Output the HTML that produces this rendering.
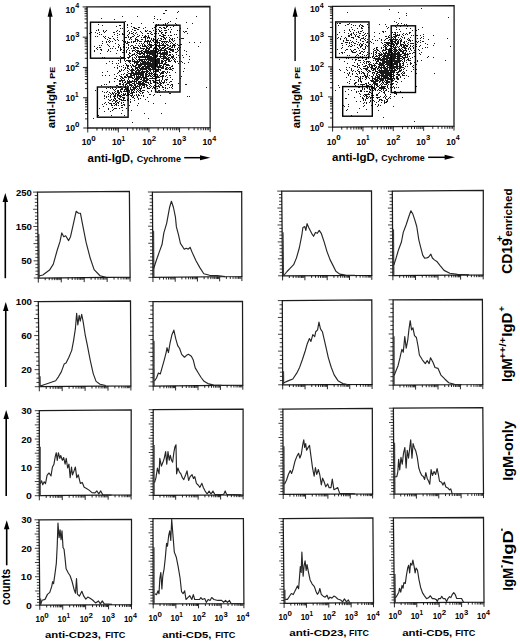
<!DOCTYPE html>
<html><head><meta charset="utf-8"><style>
html,body{margin:0;padding:0;background:#fff;width:520px;height:642px;overflow:hidden}
svg{display:block}
text{font-family:"Liberation Sans", sans-serif;fill:#000}
</style></head><body>
<svg width="520" height="642" viewBox="0 0 520 642">
<path d="M37.5,192.1 L129.4,191.5 L130.1,277.1 L38.3,278 Z" fill="none" stroke="#1c1c1c" stroke-width="1.25"/>
<line x1="38.3" y1="278" x2="38.3" y2="282.6" stroke="#000" stroke-width="0.85"/>
<line x1="45.21" y1="277.93" x2="45.21" y2="280.23" stroke="#000" stroke-width="0.85"/>
<line x1="49.25" y1="277.89" x2="49.25" y2="280.19" stroke="#000" stroke-width="0.85"/>
<line x1="52.12" y1="277.86" x2="52.12" y2="280.16" stroke="#000" stroke-width="0.85"/>
<line x1="54.34" y1="277.84" x2="54.34" y2="280.14" stroke="#000" stroke-width="0.85"/>
<line x1="56.16" y1="277.82" x2="56.16" y2="280.12" stroke="#000" stroke-width="0.85"/>
<line x1="57.7" y1="277.81" x2="57.7" y2="280.11" stroke="#000" stroke-width="0.85"/>
<line x1="59.03" y1="277.8" x2="59.03" y2="280.1" stroke="#000" stroke-width="0.85"/>
<line x1="60.2" y1="277.79" x2="60.2" y2="280.09" stroke="#000" stroke-width="0.85"/>
<line x1="61.25" y1="277.77" x2="61.25" y2="282.38" stroke="#000" stroke-width="0.85"/>
<line x1="68.16" y1="277.71" x2="68.16" y2="280.01" stroke="#000" stroke-width="0.85"/>
<line x1="72.2" y1="277.67" x2="72.2" y2="279.97" stroke="#000" stroke-width="0.85"/>
<line x1="75.07" y1="277.64" x2="75.07" y2="279.94" stroke="#000" stroke-width="0.85"/>
<line x1="77.29" y1="277.62" x2="77.29" y2="279.92" stroke="#000" stroke-width="0.85"/>
<line x1="79.11" y1="277.6" x2="79.11" y2="279.9" stroke="#000" stroke-width="0.85"/>
<line x1="80.65" y1="277.58" x2="80.65" y2="279.88" stroke="#000" stroke-width="0.85"/>
<line x1="81.98" y1="277.57" x2="81.98" y2="279.87" stroke="#000" stroke-width="0.85"/>
<line x1="83.15" y1="277.56" x2="83.15" y2="279.86" stroke="#000" stroke-width="0.85"/>
<line x1="84.2" y1="277.55" x2="84.2" y2="282.15" stroke="#000" stroke-width="0.85"/>
<line x1="91.11" y1="277.48" x2="91.11" y2="279.78" stroke="#000" stroke-width="0.85"/>
<line x1="95.15" y1="277.44" x2="95.15" y2="279.74" stroke="#000" stroke-width="0.85"/>
<line x1="98.02" y1="277.41" x2="98.02" y2="279.71" stroke="#000" stroke-width="0.85"/>
<line x1="100.24" y1="277.39" x2="100.24" y2="279.69" stroke="#000" stroke-width="0.85"/>
<line x1="102.06" y1="277.37" x2="102.06" y2="279.67" stroke="#000" stroke-width="0.85"/>
<line x1="103.6" y1="277.36" x2="103.6" y2="279.66" stroke="#000" stroke-width="0.85"/>
<line x1="104.93" y1="277.35" x2="104.93" y2="279.65" stroke="#000" stroke-width="0.85"/>
<line x1="106.1" y1="277.34" x2="106.1" y2="279.64" stroke="#000" stroke-width="0.85"/>
<line x1="107.15" y1="277.33" x2="107.15" y2="281.93" stroke="#000" stroke-width="0.85"/>
<line x1="114.06" y1="277.26" x2="114.06" y2="279.56" stroke="#000" stroke-width="0.85"/>
<line x1="118.1" y1="277.22" x2="118.1" y2="279.52" stroke="#000" stroke-width="0.85"/>
<line x1="120.97" y1="277.19" x2="120.97" y2="279.49" stroke="#000" stroke-width="0.85"/>
<line x1="123.19" y1="277.17" x2="123.19" y2="279.47" stroke="#000" stroke-width="0.85"/>
<line x1="125.01" y1="277.15" x2="125.01" y2="279.45" stroke="#000" stroke-width="0.85"/>
<line x1="126.55" y1="277.13" x2="126.55" y2="279.43" stroke="#000" stroke-width="0.85"/>
<line x1="127.88" y1="277.12" x2="127.88" y2="279.42" stroke="#000" stroke-width="0.85"/>
<line x1="129.05" y1="277.11" x2="129.05" y2="279.41" stroke="#000" stroke-width="0.85"/>
<line x1="130.1" y1="277.1" x2="130.1" y2="281.7" stroke="#000" stroke-width="0.85"/>
<line x1="33.8" y1="278" x2="38.3" y2="278" stroke="#000" stroke-width="0.75"/>
<line x1="35.47" y1="274.56" x2="38.27" y2="274.56" stroke="#000" stroke-width="0.75"/>
<line x1="35.44" y1="271.13" x2="38.24" y2="271.13" stroke="#000" stroke-width="0.75"/>
<line x1="35.4" y1="267.69" x2="38.2" y2="267.69" stroke="#000" stroke-width="0.75"/>
<line x1="35.37" y1="264.26" x2="38.17" y2="264.26" stroke="#000" stroke-width="0.75"/>
<line x1="33.64" y1="260.82" x2="38.14" y2="260.82" stroke="#000" stroke-width="0.75"/>
<line x1="35.31" y1="257.38" x2="38.11" y2="257.38" stroke="#000" stroke-width="0.75"/>
<line x1="35.28" y1="253.95" x2="38.08" y2="253.95" stroke="#000" stroke-width="0.75"/>
<line x1="35.24" y1="250.51" x2="38.04" y2="250.51" stroke="#000" stroke-width="0.75"/>
<line x1="35.21" y1="247.08" x2="38.01" y2="247.08" stroke="#000" stroke-width="0.75"/>
<line x1="33.48" y1="243.64" x2="37.98" y2="243.64" stroke="#000" stroke-width="0.75"/>
<line x1="35.15" y1="240.2" x2="37.95" y2="240.2" stroke="#000" stroke-width="0.75"/>
<line x1="35.12" y1="236.77" x2="37.92" y2="236.77" stroke="#000" stroke-width="0.75"/>
<line x1="35.08" y1="233.33" x2="37.88" y2="233.33" stroke="#000" stroke-width="0.75"/>
<line x1="35.05" y1="229.9" x2="37.85" y2="229.9" stroke="#000" stroke-width="0.75"/>
<line x1="33.32" y1="226.46" x2="37.82" y2="226.46" stroke="#000" stroke-width="0.75"/>
<line x1="34.99" y1="223.02" x2="37.79" y2="223.02" stroke="#000" stroke-width="0.75"/>
<line x1="34.96" y1="219.59" x2="37.76" y2="219.59" stroke="#000" stroke-width="0.75"/>
<line x1="34.92" y1="216.15" x2="37.72" y2="216.15" stroke="#000" stroke-width="0.75"/>
<line x1="34.89" y1="212.72" x2="37.69" y2="212.72" stroke="#000" stroke-width="0.75"/>
<line x1="33.16" y1="209.28" x2="37.66" y2="209.28" stroke="#000" stroke-width="0.75"/>
<line x1="34.83" y1="205.84" x2="37.63" y2="205.84" stroke="#000" stroke-width="0.75"/>
<line x1="34.8" y1="202.41" x2="37.6" y2="202.41" stroke="#000" stroke-width="0.75"/>
<line x1="34.76" y1="198.97" x2="37.56" y2="198.97" stroke="#000" stroke-width="0.75"/>
<line x1="34.73" y1="195.54" x2="37.53" y2="195.54" stroke="#000" stroke-width="0.75"/>
<line x1="33" y1="192.1" x2="37.5" y2="192.1" stroke="#000" stroke-width="0.75"/>
<path d="M37.89,233.93 L39.39,233.93 L39.8,278 L38.3,278 Z" fill="#3a3a3a"/>
<path d="M38.89,276.06 L42.81,275.01 L49.53,270.07 L53.31,264.15 L57.12,250.52 L59.97,241.67 L61.8,232.93 L63.76,236.77 L65.67,235.74 L68.64,240.58 L70.52,236.71 L73.33,224.01 L76.15,211.32 L78.49,213.22 L80.41,213.21 L83.05,226.88 L86.11,242.46 L90.18,258.03 L94.12,269.65 L100.02,275.77 L105.89,277.34" fill="none" stroke="#262626" stroke-width="1.15" stroke-linejoin="round"/>
<path d="M152.4,192 L241.7,191.6 L241.9,276.5 L152.96,277.4 Z" fill="none" stroke="#1c1c1c" stroke-width="1.25"/>
<line x1="152.96" y1="277.4" x2="152.96" y2="282" stroke="#000" stroke-width="0.85"/>
<line x1="159.65" y1="277.33" x2="159.65" y2="279.63" stroke="#000" stroke-width="0.85"/>
<line x1="163.57" y1="277.29" x2="163.57" y2="279.59" stroke="#000" stroke-width="0.85"/>
<line x1="166.35" y1="277.26" x2="166.35" y2="279.56" stroke="#000" stroke-width="0.85"/>
<line x1="168.5" y1="277.24" x2="168.5" y2="279.54" stroke="#000" stroke-width="0.85"/>
<line x1="170.26" y1="277.22" x2="170.26" y2="279.52" stroke="#000" stroke-width="0.85"/>
<line x1="171.75" y1="277.21" x2="171.75" y2="279.51" stroke="#000" stroke-width="0.85"/>
<line x1="173.04" y1="277.2" x2="173.04" y2="279.5" stroke="#000" stroke-width="0.85"/>
<line x1="174.18" y1="277.19" x2="174.18" y2="279.49" stroke="#000" stroke-width="0.85"/>
<line x1="175.19" y1="277.17" x2="175.19" y2="281.77" stroke="#000" stroke-width="0.85"/>
<line x1="181.89" y1="277.11" x2="181.89" y2="279.41" stroke="#000" stroke-width="0.85"/>
<line x1="185.8" y1="277.07" x2="185.8" y2="279.37" stroke="#000" stroke-width="0.85"/>
<line x1="188.58" y1="277.04" x2="188.58" y2="279.34" stroke="#000" stroke-width="0.85"/>
<line x1="190.74" y1="277.02" x2="190.74" y2="279.32" stroke="#000" stroke-width="0.85"/>
<line x1="192.5" y1="277" x2="192.5" y2="279.3" stroke="#000" stroke-width="0.85"/>
<line x1="193.99" y1="276.98" x2="193.99" y2="279.28" stroke="#000" stroke-width="0.85"/>
<line x1="195.28" y1="276.97" x2="195.28" y2="279.27" stroke="#000" stroke-width="0.85"/>
<line x1="196.41" y1="276.96" x2="196.41" y2="279.26" stroke="#000" stroke-width="0.85"/>
<line x1="197.43" y1="276.95" x2="197.43" y2="281.55" stroke="#000" stroke-width="0.85"/>
<line x1="204.12" y1="276.88" x2="204.12" y2="279.18" stroke="#000" stroke-width="0.85"/>
<line x1="208.04" y1="276.84" x2="208.04" y2="279.14" stroke="#000" stroke-width="0.85"/>
<line x1="210.82" y1="276.81" x2="210.82" y2="279.11" stroke="#000" stroke-width="0.85"/>
<line x1="212.97" y1="276.79" x2="212.97" y2="279.09" stroke="#000" stroke-width="0.85"/>
<line x1="214.73" y1="276.77" x2="214.73" y2="279.07" stroke="#000" stroke-width="0.85"/>
<line x1="216.22" y1="276.76" x2="216.22" y2="279.06" stroke="#000" stroke-width="0.85"/>
<line x1="217.51" y1="276.75" x2="217.51" y2="279.05" stroke="#000" stroke-width="0.85"/>
<line x1="218.65" y1="276.74" x2="218.65" y2="279.04" stroke="#000" stroke-width="0.85"/>
<line x1="219.67" y1="276.73" x2="219.67" y2="281.33" stroke="#000" stroke-width="0.85"/>
<line x1="226.36" y1="276.66" x2="226.36" y2="278.96" stroke="#000" stroke-width="0.85"/>
<line x1="230.27" y1="276.62" x2="230.27" y2="278.92" stroke="#000" stroke-width="0.85"/>
<line x1="233.05" y1="276.59" x2="233.05" y2="278.89" stroke="#000" stroke-width="0.85"/>
<line x1="235.21" y1="276.57" x2="235.21" y2="278.87" stroke="#000" stroke-width="0.85"/>
<line x1="236.97" y1="276.55" x2="236.97" y2="278.85" stroke="#000" stroke-width="0.85"/>
<line x1="238.46" y1="276.53" x2="238.46" y2="278.83" stroke="#000" stroke-width="0.85"/>
<line x1="239.75" y1="276.52" x2="239.75" y2="278.82" stroke="#000" stroke-width="0.85"/>
<line x1="240.88" y1="276.51" x2="240.88" y2="278.81" stroke="#000" stroke-width="0.85"/>
<line x1="241.9" y1="276.5" x2="241.9" y2="281.1" stroke="#000" stroke-width="0.85"/>
<line x1="148.46" y1="277.4" x2="152.96" y2="277.4" stroke="#000" stroke-width="0.75"/>
<line x1="150.14" y1="273.98" x2="152.94" y2="273.98" stroke="#000" stroke-width="0.75"/>
<line x1="150.12" y1="270.57" x2="152.92" y2="270.57" stroke="#000" stroke-width="0.75"/>
<line x1="150.09" y1="267.15" x2="152.89" y2="267.15" stroke="#000" stroke-width="0.75"/>
<line x1="150.07" y1="263.74" x2="152.87" y2="263.74" stroke="#000" stroke-width="0.75"/>
<line x1="148.35" y1="260.32" x2="152.85" y2="260.32" stroke="#000" stroke-width="0.75"/>
<line x1="150.03" y1="256.9" x2="152.83" y2="256.9" stroke="#000" stroke-width="0.75"/>
<line x1="150" y1="253.49" x2="152.8" y2="253.49" stroke="#000" stroke-width="0.75"/>
<line x1="149.98" y1="250.07" x2="152.78" y2="250.07" stroke="#000" stroke-width="0.75"/>
<line x1="149.96" y1="246.66" x2="152.76" y2="246.66" stroke="#000" stroke-width="0.75"/>
<line x1="148.24" y1="243.24" x2="152.74" y2="243.24" stroke="#000" stroke-width="0.75"/>
<line x1="149.91" y1="239.82" x2="152.71" y2="239.82" stroke="#000" stroke-width="0.75"/>
<line x1="149.89" y1="236.41" x2="152.69" y2="236.41" stroke="#000" stroke-width="0.75"/>
<line x1="149.87" y1="232.99" x2="152.67" y2="232.99" stroke="#000" stroke-width="0.75"/>
<line x1="149.85" y1="229.58" x2="152.65" y2="229.58" stroke="#000" stroke-width="0.75"/>
<line x1="148.12" y1="226.16" x2="152.62" y2="226.16" stroke="#000" stroke-width="0.75"/>
<line x1="149.8" y1="222.74" x2="152.6" y2="222.74" stroke="#000" stroke-width="0.75"/>
<line x1="149.78" y1="219.33" x2="152.58" y2="219.33" stroke="#000" stroke-width="0.75"/>
<line x1="149.76" y1="215.91" x2="152.56" y2="215.91" stroke="#000" stroke-width="0.75"/>
<line x1="149.73" y1="212.5" x2="152.53" y2="212.5" stroke="#000" stroke-width="0.75"/>
<line x1="148.01" y1="209.08" x2="152.51" y2="209.08" stroke="#000" stroke-width="0.75"/>
<line x1="149.69" y1="205.66" x2="152.49" y2="205.66" stroke="#000" stroke-width="0.75"/>
<line x1="149.67" y1="202.25" x2="152.47" y2="202.25" stroke="#000" stroke-width="0.75"/>
<line x1="149.64" y1="198.83" x2="152.44" y2="198.83" stroke="#000" stroke-width="0.75"/>
<line x1="149.62" y1="195.42" x2="152.42" y2="195.42" stroke="#000" stroke-width="0.75"/>
<line x1="147.9" y1="192" x2="152.4" y2="192" stroke="#000" stroke-width="0.75"/>
<path d="M152.65,230.74 L154.15,230.74 L154.46,277.4 L152.96,277.4 Z" fill="#3a3a3a"/>
<path d="M153.51,268.98 L156.37,260.23 L159.14,252.4 L162.01,244.57 L163.85,232.9 L166.71,223.05 L169.54,207.53 L171.42,201.23 L173.47,207.5 L175.44,217.22 L176.4,226.93 L178.46,234.61 L180.42,243.41 L184.27,249.25 L186.28,248.22 L188.2,249.22 L190.1,247.28 L192.04,252.12 L196,260.78 L199.85,267.62 L203.8,273.75 L209.53,275.31 L217.27,275.54 L225.02,276.67" fill="none" stroke="#262626" stroke-width="1.15" stroke-linejoin="round"/>
<path d="M281.7,191.1 L371.5,190.9 L371.8,275.3 L282.6,275.8 Z" fill="none" stroke="#1c1c1c" stroke-width="1.25"/>
<line x1="282.6" y1="275.8" x2="282.6" y2="280.4" stroke="#000" stroke-width="0.85"/>
<line x1="289.31" y1="275.76" x2="289.31" y2="278.06" stroke="#000" stroke-width="0.85"/>
<line x1="293.24" y1="275.74" x2="293.24" y2="278.04" stroke="#000" stroke-width="0.85"/>
<line x1="296.03" y1="275.72" x2="296.03" y2="278.02" stroke="#000" stroke-width="0.85"/>
<line x1="298.19" y1="275.71" x2="298.19" y2="278.01" stroke="#000" stroke-width="0.85"/>
<line x1="299.95" y1="275.7" x2="299.95" y2="278" stroke="#000" stroke-width="0.85"/>
<line x1="301.45" y1="275.69" x2="301.45" y2="277.99" stroke="#000" stroke-width="0.85"/>
<line x1="302.74" y1="275.69" x2="302.74" y2="277.99" stroke="#000" stroke-width="0.85"/>
<line x1="303.88" y1="275.68" x2="303.88" y2="277.98" stroke="#000" stroke-width="0.85"/>
<line x1="304.9" y1="275.68" x2="304.9" y2="280.28" stroke="#000" stroke-width="0.85"/>
<line x1="311.61" y1="275.64" x2="311.61" y2="277.94" stroke="#000" stroke-width="0.85"/>
<line x1="315.54" y1="275.62" x2="315.54" y2="277.92" stroke="#000" stroke-width="0.85"/>
<line x1="318.33" y1="275.6" x2="318.33" y2="277.9" stroke="#000" stroke-width="0.85"/>
<line x1="320.49" y1="275.59" x2="320.49" y2="277.89" stroke="#000" stroke-width="0.85"/>
<line x1="322.25" y1="275.58" x2="322.25" y2="277.88" stroke="#000" stroke-width="0.85"/>
<line x1="323.75" y1="275.57" x2="323.75" y2="277.87" stroke="#000" stroke-width="0.85"/>
<line x1="325.04" y1="275.56" x2="325.04" y2="277.86" stroke="#000" stroke-width="0.85"/>
<line x1="326.18" y1="275.56" x2="326.18" y2="277.86" stroke="#000" stroke-width="0.85"/>
<line x1="327.2" y1="275.55" x2="327.2" y2="280.15" stroke="#000" stroke-width="0.85"/>
<line x1="333.91" y1="275.51" x2="333.91" y2="277.81" stroke="#000" stroke-width="0.85"/>
<line x1="337.84" y1="275.49" x2="337.84" y2="277.79" stroke="#000" stroke-width="0.85"/>
<line x1="340.63" y1="275.47" x2="340.63" y2="277.77" stroke="#000" stroke-width="0.85"/>
<line x1="342.79" y1="275.46" x2="342.79" y2="277.76" stroke="#000" stroke-width="0.85"/>
<line x1="344.55" y1="275.45" x2="344.55" y2="277.75" stroke="#000" stroke-width="0.85"/>
<line x1="346.05" y1="275.44" x2="346.05" y2="277.74" stroke="#000" stroke-width="0.85"/>
<line x1="347.34" y1="275.44" x2="347.34" y2="277.74" stroke="#000" stroke-width="0.85"/>
<line x1="348.48" y1="275.43" x2="348.48" y2="277.73" stroke="#000" stroke-width="0.85"/>
<line x1="349.5" y1="275.43" x2="349.5" y2="280.03" stroke="#000" stroke-width="0.85"/>
<line x1="356.21" y1="275.39" x2="356.21" y2="277.69" stroke="#000" stroke-width="0.85"/>
<line x1="360.14" y1="275.37" x2="360.14" y2="277.67" stroke="#000" stroke-width="0.85"/>
<line x1="362.93" y1="275.35" x2="362.93" y2="277.65" stroke="#000" stroke-width="0.85"/>
<line x1="365.09" y1="275.34" x2="365.09" y2="277.64" stroke="#000" stroke-width="0.85"/>
<line x1="366.85" y1="275.33" x2="366.85" y2="277.63" stroke="#000" stroke-width="0.85"/>
<line x1="368.35" y1="275.32" x2="368.35" y2="277.62" stroke="#000" stroke-width="0.85"/>
<line x1="369.64" y1="275.31" x2="369.64" y2="277.61" stroke="#000" stroke-width="0.85"/>
<line x1="370.78" y1="275.31" x2="370.78" y2="277.61" stroke="#000" stroke-width="0.85"/>
<line x1="371.8" y1="275.3" x2="371.8" y2="279.9" stroke="#000" stroke-width="0.85"/>
<line x1="278.1" y1="275.8" x2="282.6" y2="275.8" stroke="#000" stroke-width="0.75"/>
<line x1="279.76" y1="272.41" x2="282.56" y2="272.41" stroke="#000" stroke-width="0.75"/>
<line x1="279.73" y1="269.02" x2="282.53" y2="269.02" stroke="#000" stroke-width="0.75"/>
<line x1="279.69" y1="265.64" x2="282.49" y2="265.64" stroke="#000" stroke-width="0.75"/>
<line x1="279.66" y1="262.25" x2="282.46" y2="262.25" stroke="#000" stroke-width="0.75"/>
<line x1="277.92" y1="258.86" x2="282.42" y2="258.86" stroke="#000" stroke-width="0.75"/>
<line x1="279.58" y1="255.47" x2="282.38" y2="255.47" stroke="#000" stroke-width="0.75"/>
<line x1="279.55" y1="252.08" x2="282.35" y2="252.08" stroke="#000" stroke-width="0.75"/>
<line x1="279.51" y1="248.7" x2="282.31" y2="248.7" stroke="#000" stroke-width="0.75"/>
<line x1="279.48" y1="245.31" x2="282.28" y2="245.31" stroke="#000" stroke-width="0.75"/>
<line x1="277.74" y1="241.92" x2="282.24" y2="241.92" stroke="#000" stroke-width="0.75"/>
<line x1="279.4" y1="238.53" x2="282.2" y2="238.53" stroke="#000" stroke-width="0.75"/>
<line x1="279.37" y1="235.14" x2="282.17" y2="235.14" stroke="#000" stroke-width="0.75"/>
<line x1="279.33" y1="231.76" x2="282.13" y2="231.76" stroke="#000" stroke-width="0.75"/>
<line x1="279.3" y1="228.37" x2="282.1" y2="228.37" stroke="#000" stroke-width="0.75"/>
<line x1="277.56" y1="224.98" x2="282.06" y2="224.98" stroke="#000" stroke-width="0.75"/>
<line x1="279.22" y1="221.59" x2="282.02" y2="221.59" stroke="#000" stroke-width="0.75"/>
<line x1="279.19" y1="218.2" x2="281.99" y2="218.2" stroke="#000" stroke-width="0.75"/>
<line x1="279.15" y1="214.82" x2="281.95" y2="214.82" stroke="#000" stroke-width="0.75"/>
<line x1="279.12" y1="211.43" x2="281.92" y2="211.43" stroke="#000" stroke-width="0.75"/>
<line x1="277.38" y1="208.04" x2="281.88" y2="208.04" stroke="#000" stroke-width="0.75"/>
<line x1="279.04" y1="204.65" x2="281.84" y2="204.65" stroke="#000" stroke-width="0.75"/>
<line x1="279.01" y1="201.26" x2="281.81" y2="201.26" stroke="#000" stroke-width="0.75"/>
<line x1="278.97" y1="197.88" x2="281.77" y2="197.88" stroke="#000" stroke-width="0.75"/>
<line x1="278.94" y1="194.49" x2="281.74" y2="194.49" stroke="#000" stroke-width="0.75"/>
<line x1="277.2" y1="191.1" x2="281.7" y2="191.1" stroke="#000" stroke-width="0.75"/>
<path d="M282.14,232.33 L283.64,232.33 L284.1,275.8 L282.6,275.8 Z" fill="#3a3a3a"/>
<path d="M283.79,275.49 L287.04,271.51 L289.8,268.55 L293.65,264.67 L296.48,257.86 L299.29,248 L301.96,234.29 L302.9,227.48 L304.79,226.56 L305.82,230.41 L307.07,223.61 L308.7,227.46 L311.65,233.33 L313.57,236.27 L315.44,232.41 L317.35,233.31 L319.23,230.36 L321.25,233.3 L324.21,242.11 L327.08,251.83 L330.03,259.62 L332.96,265.38 L335.89,271.24 L339.7,274.16 L345.49,275.14 L355.06,275.39" fill="none" stroke="#262626" stroke-width="1.15" stroke-linejoin="round"/>
<path d="M392.3,191.2 L483.3,190.4 L483.2,274.8 L392.9,275.6 Z" fill="none" stroke="#1c1c1c" stroke-width="1.25"/>
<line x1="392.9" y1="275.6" x2="392.9" y2="280.2" stroke="#000" stroke-width="0.85"/>
<line x1="399.7" y1="275.54" x2="399.7" y2="277.84" stroke="#000" stroke-width="0.85"/>
<line x1="403.67" y1="275.5" x2="403.67" y2="277.8" stroke="#000" stroke-width="0.85"/>
<line x1="406.49" y1="275.48" x2="406.49" y2="277.78" stroke="#000" stroke-width="0.85"/>
<line x1="408.68" y1="275.46" x2="408.68" y2="277.76" stroke="#000" stroke-width="0.85"/>
<line x1="410.47" y1="275.44" x2="410.47" y2="277.74" stroke="#000" stroke-width="0.85"/>
<line x1="411.98" y1="275.43" x2="411.98" y2="277.73" stroke="#000" stroke-width="0.85"/>
<line x1="413.29" y1="275.42" x2="413.29" y2="277.72" stroke="#000" stroke-width="0.85"/>
<line x1="414.44" y1="275.41" x2="414.44" y2="277.71" stroke="#000" stroke-width="0.85"/>
<line x1="415.47" y1="275.4" x2="415.47" y2="280" stroke="#000" stroke-width="0.85"/>
<line x1="422.27" y1="275.34" x2="422.27" y2="277.64" stroke="#000" stroke-width="0.85"/>
<line x1="426.25" y1="275.3" x2="426.25" y2="277.6" stroke="#000" stroke-width="0.85"/>
<line x1="429.07" y1="275.28" x2="429.07" y2="277.58" stroke="#000" stroke-width="0.85"/>
<line x1="431.25" y1="275.26" x2="431.25" y2="277.56" stroke="#000" stroke-width="0.85"/>
<line x1="433.04" y1="275.24" x2="433.04" y2="277.54" stroke="#000" stroke-width="0.85"/>
<line x1="434.55" y1="275.23" x2="434.55" y2="277.53" stroke="#000" stroke-width="0.85"/>
<line x1="435.86" y1="275.22" x2="435.86" y2="277.52" stroke="#000" stroke-width="0.85"/>
<line x1="437.02" y1="275.21" x2="437.02" y2="277.51" stroke="#000" stroke-width="0.85"/>
<line x1="438.05" y1="275.2" x2="438.05" y2="279.8" stroke="#000" stroke-width="0.85"/>
<line x1="444.85" y1="275.14" x2="444.85" y2="277.44" stroke="#000" stroke-width="0.85"/>
<line x1="448.82" y1="275.1" x2="448.82" y2="277.4" stroke="#000" stroke-width="0.85"/>
<line x1="451.64" y1="275.08" x2="451.64" y2="277.38" stroke="#000" stroke-width="0.85"/>
<line x1="453.83" y1="275.06" x2="453.83" y2="277.36" stroke="#000" stroke-width="0.85"/>
<line x1="455.62" y1="275.04" x2="455.62" y2="277.34" stroke="#000" stroke-width="0.85"/>
<line x1="457.13" y1="275.03" x2="457.13" y2="277.33" stroke="#000" stroke-width="0.85"/>
<line x1="458.44" y1="275.02" x2="458.44" y2="277.32" stroke="#000" stroke-width="0.85"/>
<line x1="459.59" y1="275.01" x2="459.59" y2="277.31" stroke="#000" stroke-width="0.85"/>
<line x1="460.62" y1="275" x2="460.62" y2="279.6" stroke="#000" stroke-width="0.85"/>
<line x1="467.42" y1="274.94" x2="467.42" y2="277.24" stroke="#000" stroke-width="0.85"/>
<line x1="471.4" y1="274.9" x2="471.4" y2="277.2" stroke="#000" stroke-width="0.85"/>
<line x1="474.22" y1="274.88" x2="474.22" y2="277.18" stroke="#000" stroke-width="0.85"/>
<line x1="476.4" y1="274.86" x2="476.4" y2="277.16" stroke="#000" stroke-width="0.85"/>
<line x1="478.19" y1="274.84" x2="478.19" y2="277.14" stroke="#000" stroke-width="0.85"/>
<line x1="479.7" y1="274.83" x2="479.7" y2="277.13" stroke="#000" stroke-width="0.85"/>
<line x1="481.01" y1="274.82" x2="481.01" y2="277.12" stroke="#000" stroke-width="0.85"/>
<line x1="482.17" y1="274.81" x2="482.17" y2="277.11" stroke="#000" stroke-width="0.85"/>
<line x1="483.2" y1="274.8" x2="483.2" y2="279.4" stroke="#000" stroke-width="0.85"/>
<line x1="388.4" y1="275.6" x2="392.9" y2="275.6" stroke="#000" stroke-width="0.75"/>
<line x1="390.08" y1="272.22" x2="392.88" y2="272.22" stroke="#000" stroke-width="0.75"/>
<line x1="390.05" y1="268.85" x2="392.85" y2="268.85" stroke="#000" stroke-width="0.75"/>
<line x1="390.03" y1="265.47" x2="392.83" y2="265.47" stroke="#000" stroke-width="0.75"/>
<line x1="390" y1="262.1" x2="392.8" y2="262.1" stroke="#000" stroke-width="0.75"/>
<line x1="388.28" y1="258.72" x2="392.78" y2="258.72" stroke="#000" stroke-width="0.75"/>
<line x1="389.96" y1="255.34" x2="392.76" y2="255.34" stroke="#000" stroke-width="0.75"/>
<line x1="389.93" y1="251.97" x2="392.73" y2="251.97" stroke="#000" stroke-width="0.75"/>
<line x1="389.91" y1="248.59" x2="392.71" y2="248.59" stroke="#000" stroke-width="0.75"/>
<line x1="389.88" y1="245.22" x2="392.68" y2="245.22" stroke="#000" stroke-width="0.75"/>
<line x1="388.16" y1="241.84" x2="392.66" y2="241.84" stroke="#000" stroke-width="0.75"/>
<line x1="389.84" y1="238.46" x2="392.64" y2="238.46" stroke="#000" stroke-width="0.75"/>
<line x1="389.81" y1="235.09" x2="392.61" y2="235.09" stroke="#000" stroke-width="0.75"/>
<line x1="389.79" y1="231.71" x2="392.59" y2="231.71" stroke="#000" stroke-width="0.75"/>
<line x1="389.76" y1="228.34" x2="392.56" y2="228.34" stroke="#000" stroke-width="0.75"/>
<line x1="388.04" y1="224.96" x2="392.54" y2="224.96" stroke="#000" stroke-width="0.75"/>
<line x1="389.72" y1="221.58" x2="392.52" y2="221.58" stroke="#000" stroke-width="0.75"/>
<line x1="389.69" y1="218.21" x2="392.49" y2="218.21" stroke="#000" stroke-width="0.75"/>
<line x1="389.67" y1="214.83" x2="392.47" y2="214.83" stroke="#000" stroke-width="0.75"/>
<line x1="389.64" y1="211.46" x2="392.44" y2="211.46" stroke="#000" stroke-width="0.75"/>
<line x1="387.92" y1="208.08" x2="392.42" y2="208.08" stroke="#000" stroke-width="0.75"/>
<line x1="389.6" y1="204.7" x2="392.4" y2="204.7" stroke="#000" stroke-width="0.75"/>
<line x1="389.57" y1="201.33" x2="392.37" y2="201.33" stroke="#000" stroke-width="0.75"/>
<line x1="389.55" y1="197.95" x2="392.35" y2="197.95" stroke="#000" stroke-width="0.75"/>
<line x1="389.52" y1="194.58" x2="392.32" y2="194.58" stroke="#000" stroke-width="0.75"/>
<line x1="387.8" y1="191.2" x2="392.3" y2="191.2" stroke="#000" stroke-width="0.75"/>
<path d="M392.57,229.31 L394.07,229.31 L394.4,275.6 L392.9,275.6 Z" fill="#3a3a3a"/>
<path d="M393.83,265.02 L395.7,259.31 L398.55,249.71 L401.42,242 L403.27,232.41 L406.15,224.7 L409.02,216 L410.91,210.79 L412.85,214.07 L414.79,219.84 L416.74,226.5 L418.82,239.85 L420.77,247.52 L422.71,255.18 L424.63,258.06 L426.64,258.04 L428.55,257.13 L430.85,254.21 L432.37,257.99 L434.39,259.87 L437.21,261.84 L440.13,265.6 L444.06,270.36 L449.79,273.2 L457.51,274.43 L469.15,274.92" fill="none" stroke="#262626" stroke-width="1.15" stroke-linejoin="round"/>
<path d="M38.3,301.5 L130.5,301 L130.9,385.9 L39.3,386.7 Z" fill="none" stroke="#1c1c1c" stroke-width="1.25"/>
<line x1="39.3" y1="386.7" x2="39.3" y2="391.3" stroke="#000" stroke-width="0.85"/>
<line x1="46.19" y1="386.64" x2="46.19" y2="388.94" stroke="#000" stroke-width="0.85"/>
<line x1="50.23" y1="386.6" x2="50.23" y2="388.9" stroke="#000" stroke-width="0.85"/>
<line x1="53.09" y1="386.58" x2="53.09" y2="388.88" stroke="#000" stroke-width="0.85"/>
<line x1="55.31" y1="386.56" x2="55.31" y2="388.86" stroke="#000" stroke-width="0.85"/>
<line x1="57.12" y1="386.54" x2="57.12" y2="388.84" stroke="#000" stroke-width="0.85"/>
<line x1="58.65" y1="386.53" x2="58.65" y2="388.83" stroke="#000" stroke-width="0.85"/>
<line x1="59.98" y1="386.52" x2="59.98" y2="388.82" stroke="#000" stroke-width="0.85"/>
<line x1="61.15" y1="386.51" x2="61.15" y2="388.81" stroke="#000" stroke-width="0.85"/>
<line x1="62.2" y1="386.5" x2="62.2" y2="391.1" stroke="#000" stroke-width="0.85"/>
<line x1="69.09" y1="386.44" x2="69.09" y2="388.74" stroke="#000" stroke-width="0.85"/>
<line x1="73.13" y1="386.4" x2="73.13" y2="388.7" stroke="#000" stroke-width="0.85"/>
<line x1="75.99" y1="386.38" x2="75.99" y2="388.68" stroke="#000" stroke-width="0.85"/>
<line x1="78.21" y1="386.36" x2="78.21" y2="388.66" stroke="#000" stroke-width="0.85"/>
<line x1="80.02" y1="386.34" x2="80.02" y2="388.64" stroke="#000" stroke-width="0.85"/>
<line x1="81.55" y1="386.33" x2="81.55" y2="388.63" stroke="#000" stroke-width="0.85"/>
<line x1="82.88" y1="386.32" x2="82.88" y2="388.62" stroke="#000" stroke-width="0.85"/>
<line x1="84.05" y1="386.31" x2="84.05" y2="388.61" stroke="#000" stroke-width="0.85"/>
<line x1="85.1" y1="386.3" x2="85.1" y2="390.9" stroke="#000" stroke-width="0.85"/>
<line x1="91.99" y1="386.24" x2="91.99" y2="388.54" stroke="#000" stroke-width="0.85"/>
<line x1="96.03" y1="386.2" x2="96.03" y2="388.5" stroke="#000" stroke-width="0.85"/>
<line x1="98.89" y1="386.18" x2="98.89" y2="388.48" stroke="#000" stroke-width="0.85"/>
<line x1="101.11" y1="386.16" x2="101.11" y2="388.46" stroke="#000" stroke-width="0.85"/>
<line x1="102.92" y1="386.14" x2="102.92" y2="388.44" stroke="#000" stroke-width="0.85"/>
<line x1="104.45" y1="386.13" x2="104.45" y2="388.43" stroke="#000" stroke-width="0.85"/>
<line x1="105.78" y1="386.12" x2="105.78" y2="388.42" stroke="#000" stroke-width="0.85"/>
<line x1="106.95" y1="386.11" x2="106.95" y2="388.41" stroke="#000" stroke-width="0.85"/>
<line x1="108" y1="386.1" x2="108" y2="390.7" stroke="#000" stroke-width="0.85"/>
<line x1="114.89" y1="386.04" x2="114.89" y2="388.34" stroke="#000" stroke-width="0.85"/>
<line x1="118.93" y1="386" x2="118.93" y2="388.3" stroke="#000" stroke-width="0.85"/>
<line x1="121.79" y1="385.98" x2="121.79" y2="388.28" stroke="#000" stroke-width="0.85"/>
<line x1="124.01" y1="385.96" x2="124.01" y2="388.26" stroke="#000" stroke-width="0.85"/>
<line x1="125.82" y1="385.94" x2="125.82" y2="388.24" stroke="#000" stroke-width="0.85"/>
<line x1="127.35" y1="385.93" x2="127.35" y2="388.23" stroke="#000" stroke-width="0.85"/>
<line x1="128.68" y1="385.92" x2="128.68" y2="388.22" stroke="#000" stroke-width="0.85"/>
<line x1="129.85" y1="385.91" x2="129.85" y2="388.21" stroke="#000" stroke-width="0.85"/>
<line x1="130.9" y1="385.9" x2="130.9" y2="390.5" stroke="#000" stroke-width="0.85"/>
<line x1="34.8" y1="386.7" x2="39.3" y2="386.7" stroke="#000" stroke-width="0.75"/>
<line x1="36.45" y1="382.44" x2="39.25" y2="382.44" stroke="#000" stroke-width="0.75"/>
<line x1="36.4" y1="378.18" x2="39.2" y2="378.18" stroke="#000" stroke-width="0.75"/>
<line x1="36.35" y1="373.92" x2="39.15" y2="373.92" stroke="#000" stroke-width="0.75"/>
<line x1="34.6" y1="369.66" x2="39.1" y2="369.66" stroke="#000" stroke-width="0.75"/>
<line x1="36.25" y1="365.4" x2="39.05" y2="365.4" stroke="#000" stroke-width="0.75"/>
<line x1="36.2" y1="361.14" x2="39" y2="361.14" stroke="#000" stroke-width="0.75"/>
<line x1="36.15" y1="356.88" x2="38.95" y2="356.88" stroke="#000" stroke-width="0.75"/>
<line x1="34.4" y1="352.62" x2="38.9" y2="352.62" stroke="#000" stroke-width="0.75"/>
<line x1="36.05" y1="348.36" x2="38.85" y2="348.36" stroke="#000" stroke-width="0.75"/>
<line x1="36" y1="344.1" x2="38.8" y2="344.1" stroke="#000" stroke-width="0.75"/>
<line x1="35.95" y1="339.84" x2="38.75" y2="339.84" stroke="#000" stroke-width="0.75"/>
<line x1="34.2" y1="335.58" x2="38.7" y2="335.58" stroke="#000" stroke-width="0.75"/>
<line x1="35.85" y1="331.32" x2="38.65" y2="331.32" stroke="#000" stroke-width="0.75"/>
<line x1="35.8" y1="327.06" x2="38.6" y2="327.06" stroke="#000" stroke-width="0.75"/>
<line x1="35.75" y1="322.8" x2="38.55" y2="322.8" stroke="#000" stroke-width="0.75"/>
<line x1="34" y1="318.54" x2="38.5" y2="318.54" stroke="#000" stroke-width="0.75"/>
<line x1="35.65" y1="314.28" x2="38.45" y2="314.28" stroke="#000" stroke-width="0.75"/>
<line x1="35.6" y1="310.02" x2="38.4" y2="310.02" stroke="#000" stroke-width="0.75"/>
<line x1="35.55" y1="305.76" x2="38.35" y2="305.76" stroke="#000" stroke-width="0.75"/>
<line x1="33.8" y1="301.5" x2="38.3" y2="301.5" stroke="#000" stroke-width="0.75"/>
<path d="M39.18,376.15 L40.68,376.15 L40.8,386.7 L39.3,386.7 Z" fill="#3a3a3a"/>
<path d="M39.89,386.09 L44.09,384.73 L49.88,382.75 L55.68,380.78 L58.44,376.8 L61.3,371.91 L64.13,364.09 L66.03,363.06 L68.89,357.26 L71.74,350.35 L73.56,340.61 L75.37,328.95 L76.64,313.35 L77.85,324.99 L79.17,315.25 L80.23,321.12 L81.69,314.33 L83.05,321.1 L85.18,334.76 L87.17,344.47 L90.21,360.04 L93.22,373.58 L96.09,381.35 L100.02,384.25 L105.84,385.51" fill="none" stroke="#262626" stroke-width="1.15" stroke-linejoin="round"/>
<path d="M153,301.6 L242.5,301.3 L242.8,385.1 L153.2,386.1 Z" fill="none" stroke="#1c1c1c" stroke-width="1.25"/>
<line x1="153.2" y1="386.1" x2="153.2" y2="390.7" stroke="#000" stroke-width="0.85"/>
<line x1="159.94" y1="386.02" x2="159.94" y2="388.32" stroke="#000" stroke-width="0.85"/>
<line x1="163.89" y1="385.98" x2="163.89" y2="388.28" stroke="#000" stroke-width="0.85"/>
<line x1="166.69" y1="385.95" x2="166.69" y2="388.25" stroke="#000" stroke-width="0.85"/>
<line x1="168.86" y1="385.93" x2="168.86" y2="388.23" stroke="#000" stroke-width="0.85"/>
<line x1="170.63" y1="385.91" x2="170.63" y2="388.21" stroke="#000" stroke-width="0.85"/>
<line x1="172.13" y1="385.89" x2="172.13" y2="388.19" stroke="#000" stroke-width="0.85"/>
<line x1="173.43" y1="385.87" x2="173.43" y2="388.17" stroke="#000" stroke-width="0.85"/>
<line x1="174.58" y1="385.86" x2="174.58" y2="388.16" stroke="#000" stroke-width="0.85"/>
<line x1="175.6" y1="385.85" x2="175.6" y2="390.45" stroke="#000" stroke-width="0.85"/>
<line x1="182.34" y1="385.77" x2="182.34" y2="388.07" stroke="#000" stroke-width="0.85"/>
<line x1="186.29" y1="385.73" x2="186.29" y2="388.03" stroke="#000" stroke-width="0.85"/>
<line x1="189.09" y1="385.7" x2="189.09" y2="388" stroke="#000" stroke-width="0.85"/>
<line x1="191.26" y1="385.68" x2="191.26" y2="387.98" stroke="#000" stroke-width="0.85"/>
<line x1="193.03" y1="385.66" x2="193.03" y2="387.96" stroke="#000" stroke-width="0.85"/>
<line x1="194.53" y1="385.64" x2="194.53" y2="387.94" stroke="#000" stroke-width="0.85"/>
<line x1="195.83" y1="385.62" x2="195.83" y2="387.92" stroke="#000" stroke-width="0.85"/>
<line x1="196.98" y1="385.61" x2="196.98" y2="387.91" stroke="#000" stroke-width="0.85"/>
<line x1="198" y1="385.6" x2="198" y2="390.2" stroke="#000" stroke-width="0.85"/>
<line x1="204.74" y1="385.52" x2="204.74" y2="387.82" stroke="#000" stroke-width="0.85"/>
<line x1="208.69" y1="385.48" x2="208.69" y2="387.78" stroke="#000" stroke-width="0.85"/>
<line x1="211.49" y1="385.45" x2="211.49" y2="387.75" stroke="#000" stroke-width="0.85"/>
<line x1="213.66" y1="385.43" x2="213.66" y2="387.73" stroke="#000" stroke-width="0.85"/>
<line x1="215.43" y1="385.41" x2="215.43" y2="387.71" stroke="#000" stroke-width="0.85"/>
<line x1="216.93" y1="385.39" x2="216.93" y2="387.69" stroke="#000" stroke-width="0.85"/>
<line x1="218.23" y1="385.37" x2="218.23" y2="387.67" stroke="#000" stroke-width="0.85"/>
<line x1="219.38" y1="385.36" x2="219.38" y2="387.66" stroke="#000" stroke-width="0.85"/>
<line x1="220.4" y1="385.35" x2="220.4" y2="389.95" stroke="#000" stroke-width="0.85"/>
<line x1="227.14" y1="385.27" x2="227.14" y2="387.57" stroke="#000" stroke-width="0.85"/>
<line x1="231.09" y1="385.23" x2="231.09" y2="387.53" stroke="#000" stroke-width="0.85"/>
<line x1="233.89" y1="385.2" x2="233.89" y2="387.5" stroke="#000" stroke-width="0.85"/>
<line x1="236.06" y1="385.18" x2="236.06" y2="387.48" stroke="#000" stroke-width="0.85"/>
<line x1="237.83" y1="385.16" x2="237.83" y2="387.46" stroke="#000" stroke-width="0.85"/>
<line x1="239.33" y1="385.14" x2="239.33" y2="387.44" stroke="#000" stroke-width="0.85"/>
<line x1="240.63" y1="385.12" x2="240.63" y2="387.42" stroke="#000" stroke-width="0.85"/>
<line x1="241.78" y1="385.11" x2="241.78" y2="387.41" stroke="#000" stroke-width="0.85"/>
<line x1="242.8" y1="385.1" x2="242.8" y2="389.7" stroke="#000" stroke-width="0.85"/>
<line x1="148.7" y1="386.1" x2="153.2" y2="386.1" stroke="#000" stroke-width="0.75"/>
<line x1="150.39" y1="381.88" x2="153.19" y2="381.88" stroke="#000" stroke-width="0.75"/>
<line x1="150.38" y1="377.65" x2="153.18" y2="377.65" stroke="#000" stroke-width="0.75"/>
<line x1="150.37" y1="373.43" x2="153.17" y2="373.43" stroke="#000" stroke-width="0.75"/>
<line x1="148.66" y1="369.2" x2="153.16" y2="369.2" stroke="#000" stroke-width="0.75"/>
<line x1="150.35" y1="364.98" x2="153.15" y2="364.98" stroke="#000" stroke-width="0.75"/>
<line x1="150.34" y1="360.75" x2="153.14" y2="360.75" stroke="#000" stroke-width="0.75"/>
<line x1="150.33" y1="356.53" x2="153.13" y2="356.53" stroke="#000" stroke-width="0.75"/>
<line x1="148.62" y1="352.3" x2="153.12" y2="352.3" stroke="#000" stroke-width="0.75"/>
<line x1="150.31" y1="348.08" x2="153.11" y2="348.08" stroke="#000" stroke-width="0.75"/>
<line x1="150.3" y1="343.85" x2="153.1" y2="343.85" stroke="#000" stroke-width="0.75"/>
<line x1="150.29" y1="339.62" x2="153.09" y2="339.62" stroke="#000" stroke-width="0.75"/>
<line x1="148.58" y1="335.4" x2="153.08" y2="335.4" stroke="#000" stroke-width="0.75"/>
<line x1="150.27" y1="331.18" x2="153.07" y2="331.18" stroke="#000" stroke-width="0.75"/>
<line x1="150.26" y1="326.95" x2="153.06" y2="326.95" stroke="#000" stroke-width="0.75"/>
<line x1="150.25" y1="322.73" x2="153.05" y2="322.73" stroke="#000" stroke-width="0.75"/>
<line x1="148.54" y1="318.5" x2="153.04" y2="318.5" stroke="#000" stroke-width="0.75"/>
<line x1="150.23" y1="314.28" x2="153.03" y2="314.28" stroke="#000" stroke-width="0.75"/>
<line x1="150.22" y1="310.05" x2="153.02" y2="310.05" stroke="#000" stroke-width="0.75"/>
<line x1="150.21" y1="305.83" x2="153.01" y2="305.83" stroke="#000" stroke-width="0.75"/>
<line x1="148.5" y1="301.6" x2="153" y2="301.6" stroke="#000" stroke-width="0.75"/>
<path d="M153.09,340.71 L154.59,340.71 L154.7,386.1 L153.2,386.1 Z" fill="#3a3a3a"/>
<path d="M154.5,380.92 L156.51,377.96 L158.42,373.08 L160.33,373.97 L162.23,367.17 L164.13,360.37 L166.13,352.56 L167.03,347.7 L168.45,352.54 L169.94,343.73 L171.83,335.02 L173.84,330.15 L175.78,338.83 L177.71,345.59 L179.64,348.51 L181.67,354.35 L184.5,357.26 L186.51,355.32 L188.43,354.3 L191.36,356.19 L193.28,360.11 L195.22,367.87 L198.16,372.68 L201.1,377.5 L204.04,381.3 L207.88,383.57 L213.74,385.12 L221.51,385.34" fill="none" stroke="#262626" stroke-width="1.15" stroke-linejoin="round"/>
<path d="M282.3,300.6 L371.8,299.9 L372.1,384.4 L282.7,384.8 Z" fill="none" stroke="#1c1c1c" stroke-width="1.25"/>
<line x1="282.7" y1="384.8" x2="282.7" y2="389.4" stroke="#000" stroke-width="0.85"/>
<line x1="289.43" y1="384.77" x2="289.43" y2="387.07" stroke="#000" stroke-width="0.85"/>
<line x1="293.36" y1="384.75" x2="293.36" y2="387.05" stroke="#000" stroke-width="0.85"/>
<line x1="296.16" y1="384.74" x2="296.16" y2="387.04" stroke="#000" stroke-width="0.85"/>
<line x1="298.32" y1="384.73" x2="298.32" y2="387.03" stroke="#000" stroke-width="0.85"/>
<line x1="300.09" y1="384.72" x2="300.09" y2="387.02" stroke="#000" stroke-width="0.85"/>
<line x1="301.59" y1="384.72" x2="301.59" y2="387.02" stroke="#000" stroke-width="0.85"/>
<line x1="302.88" y1="384.71" x2="302.88" y2="387.01" stroke="#000" stroke-width="0.85"/>
<line x1="304.03" y1="384.7" x2="304.03" y2="387" stroke="#000" stroke-width="0.85"/>
<line x1="305.05" y1="384.7" x2="305.05" y2="389.3" stroke="#000" stroke-width="0.85"/>
<line x1="311.78" y1="384.67" x2="311.78" y2="386.97" stroke="#000" stroke-width="0.85"/>
<line x1="315.71" y1="384.65" x2="315.71" y2="386.95" stroke="#000" stroke-width="0.85"/>
<line x1="318.51" y1="384.64" x2="318.51" y2="386.94" stroke="#000" stroke-width="0.85"/>
<line x1="320.67" y1="384.63" x2="320.67" y2="386.93" stroke="#000" stroke-width="0.85"/>
<line x1="322.44" y1="384.62" x2="322.44" y2="386.92" stroke="#000" stroke-width="0.85"/>
<line x1="323.94" y1="384.62" x2="323.94" y2="386.92" stroke="#000" stroke-width="0.85"/>
<line x1="325.23" y1="384.61" x2="325.23" y2="386.91" stroke="#000" stroke-width="0.85"/>
<line x1="326.38" y1="384.6" x2="326.38" y2="386.9" stroke="#000" stroke-width="0.85"/>
<line x1="327.4" y1="384.6" x2="327.4" y2="389.2" stroke="#000" stroke-width="0.85"/>
<line x1="334.13" y1="384.57" x2="334.13" y2="386.87" stroke="#000" stroke-width="0.85"/>
<line x1="338.06" y1="384.55" x2="338.06" y2="386.85" stroke="#000" stroke-width="0.85"/>
<line x1="340.86" y1="384.54" x2="340.86" y2="386.84" stroke="#000" stroke-width="0.85"/>
<line x1="343.02" y1="384.53" x2="343.02" y2="386.83" stroke="#000" stroke-width="0.85"/>
<line x1="344.79" y1="384.52" x2="344.79" y2="386.82" stroke="#000" stroke-width="0.85"/>
<line x1="346.29" y1="384.52" x2="346.29" y2="386.82" stroke="#000" stroke-width="0.85"/>
<line x1="347.58" y1="384.51" x2="347.58" y2="386.81" stroke="#000" stroke-width="0.85"/>
<line x1="348.73" y1="384.5" x2="348.73" y2="386.8" stroke="#000" stroke-width="0.85"/>
<line x1="349.75" y1="384.5" x2="349.75" y2="389.1" stroke="#000" stroke-width="0.85"/>
<line x1="356.48" y1="384.47" x2="356.48" y2="386.77" stroke="#000" stroke-width="0.85"/>
<line x1="360.41" y1="384.45" x2="360.41" y2="386.75" stroke="#000" stroke-width="0.85"/>
<line x1="363.21" y1="384.44" x2="363.21" y2="386.74" stroke="#000" stroke-width="0.85"/>
<line x1="365.37" y1="384.43" x2="365.37" y2="386.73" stroke="#000" stroke-width="0.85"/>
<line x1="367.14" y1="384.42" x2="367.14" y2="386.72" stroke="#000" stroke-width="0.85"/>
<line x1="368.64" y1="384.42" x2="368.64" y2="386.72" stroke="#000" stroke-width="0.85"/>
<line x1="369.93" y1="384.41" x2="369.93" y2="386.71" stroke="#000" stroke-width="0.85"/>
<line x1="371.08" y1="384.4" x2="371.08" y2="386.7" stroke="#000" stroke-width="0.85"/>
<line x1="372.1" y1="384.4" x2="372.1" y2="389" stroke="#000" stroke-width="0.85"/>
<line x1="278.2" y1="384.8" x2="282.7" y2="384.8" stroke="#000" stroke-width="0.75"/>
<line x1="279.88" y1="380.59" x2="282.68" y2="380.59" stroke="#000" stroke-width="0.75"/>
<line x1="279.86" y1="376.38" x2="282.66" y2="376.38" stroke="#000" stroke-width="0.75"/>
<line x1="279.84" y1="372.17" x2="282.64" y2="372.17" stroke="#000" stroke-width="0.75"/>
<line x1="278.12" y1="367.96" x2="282.62" y2="367.96" stroke="#000" stroke-width="0.75"/>
<line x1="279.8" y1="363.75" x2="282.6" y2="363.75" stroke="#000" stroke-width="0.75"/>
<line x1="279.78" y1="359.54" x2="282.58" y2="359.54" stroke="#000" stroke-width="0.75"/>
<line x1="279.76" y1="355.33" x2="282.56" y2="355.33" stroke="#000" stroke-width="0.75"/>
<line x1="278.04" y1="351.12" x2="282.54" y2="351.12" stroke="#000" stroke-width="0.75"/>
<line x1="279.72" y1="346.91" x2="282.52" y2="346.91" stroke="#000" stroke-width="0.75"/>
<line x1="279.7" y1="342.7" x2="282.5" y2="342.7" stroke="#000" stroke-width="0.75"/>
<line x1="279.68" y1="338.49" x2="282.48" y2="338.49" stroke="#000" stroke-width="0.75"/>
<line x1="277.96" y1="334.28" x2="282.46" y2="334.28" stroke="#000" stroke-width="0.75"/>
<line x1="279.64" y1="330.07" x2="282.44" y2="330.07" stroke="#000" stroke-width="0.75"/>
<line x1="279.62" y1="325.86" x2="282.42" y2="325.86" stroke="#000" stroke-width="0.75"/>
<line x1="279.6" y1="321.65" x2="282.4" y2="321.65" stroke="#000" stroke-width="0.75"/>
<line x1="277.88" y1="317.44" x2="282.38" y2="317.44" stroke="#000" stroke-width="0.75"/>
<line x1="279.56" y1="313.23" x2="282.36" y2="313.23" stroke="#000" stroke-width="0.75"/>
<line x1="279.54" y1="309.02" x2="282.34" y2="309.02" stroke="#000" stroke-width="0.75"/>
<line x1="279.52" y1="304.81" x2="282.32" y2="304.81" stroke="#000" stroke-width="0.75"/>
<line x1="277.8" y1="300.6" x2="282.3" y2="300.6" stroke="#000" stroke-width="0.75"/>
<path d="M282.64,371.32 L284.14,371.32 L284.2,384.8 L282.7,384.8 Z" fill="#3a3a3a"/>
<path d="M283.89,382.8 L288.07,380.88 L292.85,378.96 L296.72,373.14 L299.58,367.43 L302.34,359.72 L305.2,351.01 L307.07,344.3 L309.44,338.48 L310.95,341.38 L312.82,334.66 L314.72,336.55 L315.7,331.74 L317.59,329.83 L318.95,322.12 L320.48,328.81 L322.39,331.7 L324.42,340.29 L326.35,348.98 L328.29,357.58 L331.22,367.27 L334.15,374.86 L337.96,380.65 L342.76,383.53 L347.55,384.51" fill="none" stroke="#262626" stroke-width="1.15" stroke-linejoin="round"/>
<path d="M393.1,299.8 L482.4,299.5 L482.8,384.5 L393.2,385.2 Z" fill="none" stroke="#1c1c1c" stroke-width="1.25"/>
<line x1="393.2" y1="385.2" x2="393.2" y2="389.8" stroke="#000" stroke-width="0.85"/>
<line x1="399.94" y1="385.15" x2="399.94" y2="387.45" stroke="#000" stroke-width="0.85"/>
<line x1="403.89" y1="385.12" x2="403.89" y2="387.42" stroke="#000" stroke-width="0.85"/>
<line x1="406.69" y1="385.09" x2="406.69" y2="387.39" stroke="#000" stroke-width="0.85"/>
<line x1="408.86" y1="385.08" x2="408.86" y2="387.38" stroke="#000" stroke-width="0.85"/>
<line x1="410.63" y1="385.06" x2="410.63" y2="387.36" stroke="#000" stroke-width="0.85"/>
<line x1="412.13" y1="385.05" x2="412.13" y2="387.35" stroke="#000" stroke-width="0.85"/>
<line x1="413.43" y1="385.04" x2="413.43" y2="387.34" stroke="#000" stroke-width="0.85"/>
<line x1="414.58" y1="385.03" x2="414.58" y2="387.33" stroke="#000" stroke-width="0.85"/>
<line x1="415.6" y1="385.02" x2="415.6" y2="389.62" stroke="#000" stroke-width="0.85"/>
<line x1="422.34" y1="384.97" x2="422.34" y2="387.27" stroke="#000" stroke-width="0.85"/>
<line x1="426.29" y1="384.94" x2="426.29" y2="387.24" stroke="#000" stroke-width="0.85"/>
<line x1="429.09" y1="384.92" x2="429.09" y2="387.22" stroke="#000" stroke-width="0.85"/>
<line x1="431.26" y1="384.9" x2="431.26" y2="387.2" stroke="#000" stroke-width="0.85"/>
<line x1="433.03" y1="384.89" x2="433.03" y2="387.19" stroke="#000" stroke-width="0.85"/>
<line x1="434.53" y1="384.88" x2="434.53" y2="387.18" stroke="#000" stroke-width="0.85"/>
<line x1="435.83" y1="384.87" x2="435.83" y2="387.17" stroke="#000" stroke-width="0.85"/>
<line x1="436.98" y1="384.86" x2="436.98" y2="387.16" stroke="#000" stroke-width="0.85"/>
<line x1="438" y1="384.85" x2="438" y2="389.45" stroke="#000" stroke-width="0.85"/>
<line x1="444.74" y1="384.8" x2="444.74" y2="387.1" stroke="#000" stroke-width="0.85"/>
<line x1="448.69" y1="384.77" x2="448.69" y2="387.07" stroke="#000" stroke-width="0.85"/>
<line x1="451.49" y1="384.74" x2="451.49" y2="387.04" stroke="#000" stroke-width="0.85"/>
<line x1="453.66" y1="384.73" x2="453.66" y2="387.03" stroke="#000" stroke-width="0.85"/>
<line x1="455.43" y1="384.71" x2="455.43" y2="387.01" stroke="#000" stroke-width="0.85"/>
<line x1="456.93" y1="384.7" x2="456.93" y2="387" stroke="#000" stroke-width="0.85"/>
<line x1="458.23" y1="384.69" x2="458.23" y2="386.99" stroke="#000" stroke-width="0.85"/>
<line x1="459.38" y1="384.68" x2="459.38" y2="386.98" stroke="#000" stroke-width="0.85"/>
<line x1="460.4" y1="384.68" x2="460.4" y2="389.28" stroke="#000" stroke-width="0.85"/>
<line x1="467.14" y1="384.62" x2="467.14" y2="386.92" stroke="#000" stroke-width="0.85"/>
<line x1="471.09" y1="384.59" x2="471.09" y2="386.89" stroke="#000" stroke-width="0.85"/>
<line x1="473.89" y1="384.57" x2="473.89" y2="386.87" stroke="#000" stroke-width="0.85"/>
<line x1="476.06" y1="384.55" x2="476.06" y2="386.85" stroke="#000" stroke-width="0.85"/>
<line x1="477.83" y1="384.54" x2="477.83" y2="386.84" stroke="#000" stroke-width="0.85"/>
<line x1="479.33" y1="384.53" x2="479.33" y2="386.83" stroke="#000" stroke-width="0.85"/>
<line x1="480.63" y1="384.52" x2="480.63" y2="386.82" stroke="#000" stroke-width="0.85"/>
<line x1="481.78" y1="384.51" x2="481.78" y2="386.81" stroke="#000" stroke-width="0.85"/>
<line x1="482.8" y1="384.5" x2="482.8" y2="389.1" stroke="#000" stroke-width="0.85"/>
<line x1="388.7" y1="385.2" x2="393.2" y2="385.2" stroke="#000" stroke-width="0.75"/>
<line x1="390.39" y1="380.93" x2="393.19" y2="380.93" stroke="#000" stroke-width="0.75"/>
<line x1="390.39" y1="376.66" x2="393.19" y2="376.66" stroke="#000" stroke-width="0.75"/>
<line x1="390.38" y1="372.39" x2="393.19" y2="372.39" stroke="#000" stroke-width="0.75"/>
<line x1="388.68" y1="368.12" x2="393.18" y2="368.12" stroke="#000" stroke-width="0.75"/>
<line x1="390.38" y1="363.85" x2="393.18" y2="363.85" stroke="#000" stroke-width="0.75"/>
<line x1="390.37" y1="359.58" x2="393.17" y2="359.58" stroke="#000" stroke-width="0.75"/>
<line x1="390.37" y1="355.31" x2="393.17" y2="355.31" stroke="#000" stroke-width="0.75"/>
<line x1="388.66" y1="351.04" x2="393.16" y2="351.04" stroke="#000" stroke-width="0.75"/>
<line x1="390.36" y1="346.77" x2="393.16" y2="346.77" stroke="#000" stroke-width="0.75"/>
<line x1="390.35" y1="342.5" x2="393.15" y2="342.5" stroke="#000" stroke-width="0.75"/>
<line x1="390.34" y1="338.23" x2="393.14" y2="338.23" stroke="#000" stroke-width="0.75"/>
<line x1="388.64" y1="333.96" x2="393.14" y2="333.96" stroke="#000" stroke-width="0.75"/>
<line x1="390.33" y1="329.69" x2="393.13" y2="329.69" stroke="#000" stroke-width="0.75"/>
<line x1="390.33" y1="325.42" x2="393.13" y2="325.42" stroke="#000" stroke-width="0.75"/>
<line x1="390.32" y1="321.15" x2="393.12" y2="321.15" stroke="#000" stroke-width="0.75"/>
<line x1="388.62" y1="316.88" x2="393.12" y2="316.88" stroke="#000" stroke-width="0.75"/>
<line x1="390.31" y1="312.61" x2="393.12" y2="312.61" stroke="#000" stroke-width="0.75"/>
<line x1="390.31" y1="308.34" x2="393.11" y2="308.34" stroke="#000" stroke-width="0.75"/>
<line x1="390.31" y1="304.07" x2="393.11" y2="304.07" stroke="#000" stroke-width="0.75"/>
<line x1="388.6" y1="299.8" x2="393.1" y2="299.8" stroke="#000" stroke-width="0.75"/>
<path d="M393.14,336.3 L394.64,336.3 L394.7,385.2 L393.2,385.2 Z" fill="#3a3a3a"/>
<path d="M394.1,375.41 L396.12,370.56 L398.04,365.71 L399.95,357.93 L401.86,349.25 L403.28,352.17 L404.78,336.64 L406.21,348.22 L407.72,340.45 L409.01,328.86 L410.21,320.7 L411.54,329.86 L412.95,327.83 L414.49,335.58 L416.41,337.49 L418.05,346.24 L419.39,354.99 L422.33,359.8 L425.28,363.61 L427.2,360.68 L429.13,363.58 L430.53,357.74 L433.07,362.55 L435.01,367.47 L437.95,368.35 L440.91,375.07 L444.77,378.96 L448.74,382.76 L454.52,384.32 L461.41,384.67" fill="none" stroke="#262626" stroke-width="1.15" stroke-linejoin="round"/>
<path d="M39.3,410.7 L131.2,409.9 L131.1,494.9 L39.3,495.7 Z" fill="none" stroke="#1c1c1c" stroke-width="1.25"/>
<line x1="39.3" y1="495.7" x2="39.3" y2="500.3" stroke="#000" stroke-width="0.85"/>
<line x1="46.21" y1="495.64" x2="46.21" y2="497.94" stroke="#000" stroke-width="0.85"/>
<line x1="50.25" y1="495.6" x2="50.25" y2="497.9" stroke="#000" stroke-width="0.85"/>
<line x1="53.12" y1="495.58" x2="53.12" y2="497.88" stroke="#000" stroke-width="0.85"/>
<line x1="55.34" y1="495.56" x2="55.34" y2="497.86" stroke="#000" stroke-width="0.85"/>
<line x1="57.16" y1="495.54" x2="57.16" y2="497.84" stroke="#000" stroke-width="0.85"/>
<line x1="58.7" y1="495.53" x2="58.7" y2="497.83" stroke="#000" stroke-width="0.85"/>
<line x1="60.03" y1="495.52" x2="60.03" y2="497.82" stroke="#000" stroke-width="0.85"/>
<line x1="61.2" y1="495.51" x2="61.2" y2="497.81" stroke="#000" stroke-width="0.85"/>
<line x1="62.25" y1="495.5" x2="62.25" y2="500.1" stroke="#000" stroke-width="0.85"/>
<line x1="69.16" y1="495.44" x2="69.16" y2="497.74" stroke="#000" stroke-width="0.85"/>
<line x1="73.2" y1="495.4" x2="73.2" y2="497.7" stroke="#000" stroke-width="0.85"/>
<line x1="76.07" y1="495.38" x2="76.07" y2="497.68" stroke="#000" stroke-width="0.85"/>
<line x1="78.29" y1="495.36" x2="78.29" y2="497.66" stroke="#000" stroke-width="0.85"/>
<line x1="80.11" y1="495.34" x2="80.11" y2="497.64" stroke="#000" stroke-width="0.85"/>
<line x1="81.65" y1="495.33" x2="81.65" y2="497.63" stroke="#000" stroke-width="0.85"/>
<line x1="82.98" y1="495.32" x2="82.98" y2="497.62" stroke="#000" stroke-width="0.85"/>
<line x1="84.15" y1="495.31" x2="84.15" y2="497.61" stroke="#000" stroke-width="0.85"/>
<line x1="85.2" y1="495.3" x2="85.2" y2="499.9" stroke="#000" stroke-width="0.85"/>
<line x1="92.11" y1="495.24" x2="92.11" y2="497.54" stroke="#000" stroke-width="0.85"/>
<line x1="96.15" y1="495.2" x2="96.15" y2="497.5" stroke="#000" stroke-width="0.85"/>
<line x1="99.02" y1="495.18" x2="99.02" y2="497.48" stroke="#000" stroke-width="0.85"/>
<line x1="101.24" y1="495.16" x2="101.24" y2="497.46" stroke="#000" stroke-width="0.85"/>
<line x1="103.06" y1="495.14" x2="103.06" y2="497.44" stroke="#000" stroke-width="0.85"/>
<line x1="104.6" y1="495.13" x2="104.6" y2="497.43" stroke="#000" stroke-width="0.85"/>
<line x1="105.93" y1="495.12" x2="105.93" y2="497.42" stroke="#000" stroke-width="0.85"/>
<line x1="107.1" y1="495.11" x2="107.1" y2="497.41" stroke="#000" stroke-width="0.85"/>
<line x1="108.15" y1="495.1" x2="108.15" y2="499.7" stroke="#000" stroke-width="0.85"/>
<line x1="115.06" y1="495.04" x2="115.06" y2="497.34" stroke="#000" stroke-width="0.85"/>
<line x1="119.1" y1="495" x2="119.1" y2="497.3" stroke="#000" stroke-width="0.85"/>
<line x1="121.97" y1="494.98" x2="121.97" y2="497.28" stroke="#000" stroke-width="0.85"/>
<line x1="124.19" y1="494.96" x2="124.19" y2="497.26" stroke="#000" stroke-width="0.85"/>
<line x1="126.01" y1="494.94" x2="126.01" y2="497.24" stroke="#000" stroke-width="0.85"/>
<line x1="127.55" y1="494.93" x2="127.55" y2="497.23" stroke="#000" stroke-width="0.85"/>
<line x1="128.88" y1="494.92" x2="128.88" y2="497.22" stroke="#000" stroke-width="0.85"/>
<line x1="130.05" y1="494.91" x2="130.05" y2="497.21" stroke="#000" stroke-width="0.85"/>
<line x1="131.1" y1="494.9" x2="131.1" y2="499.5" stroke="#000" stroke-width="0.85"/>
<line x1="34.8" y1="495.7" x2="39.3" y2="495.7" stroke="#000" stroke-width="0.75"/>
<line x1="36.5" y1="492.87" x2="39.3" y2="492.87" stroke="#000" stroke-width="0.75"/>
<line x1="36.5" y1="490.03" x2="39.3" y2="490.03" stroke="#000" stroke-width="0.75"/>
<line x1="36.5" y1="487.2" x2="39.3" y2="487.2" stroke="#000" stroke-width="0.75"/>
<line x1="36.5" y1="484.37" x2="39.3" y2="484.37" stroke="#000" stroke-width="0.75"/>
<line x1="34.8" y1="481.53" x2="39.3" y2="481.53" stroke="#000" stroke-width="0.75"/>
<line x1="36.5" y1="478.7" x2="39.3" y2="478.7" stroke="#000" stroke-width="0.75"/>
<line x1="36.5" y1="475.87" x2="39.3" y2="475.87" stroke="#000" stroke-width="0.75"/>
<line x1="36.5" y1="473.03" x2="39.3" y2="473.03" stroke="#000" stroke-width="0.75"/>
<line x1="36.5" y1="470.2" x2="39.3" y2="470.2" stroke="#000" stroke-width="0.75"/>
<line x1="34.8" y1="467.37" x2="39.3" y2="467.37" stroke="#000" stroke-width="0.75"/>
<line x1="36.5" y1="464.53" x2="39.3" y2="464.53" stroke="#000" stroke-width="0.75"/>
<line x1="36.5" y1="461.7" x2="39.3" y2="461.7" stroke="#000" stroke-width="0.75"/>
<line x1="36.5" y1="458.87" x2="39.3" y2="458.87" stroke="#000" stroke-width="0.75"/>
<line x1="36.5" y1="456.03" x2="39.3" y2="456.03" stroke="#000" stroke-width="0.75"/>
<line x1="34.8" y1="453.2" x2="39.3" y2="453.2" stroke="#000" stroke-width="0.75"/>
<line x1="36.5" y1="450.37" x2="39.3" y2="450.37" stroke="#000" stroke-width="0.75"/>
<line x1="36.5" y1="447.53" x2="39.3" y2="447.53" stroke="#000" stroke-width="0.75"/>
<line x1="36.5" y1="444.7" x2="39.3" y2="444.7" stroke="#000" stroke-width="0.75"/>
<line x1="36.5" y1="441.87" x2="39.3" y2="441.87" stroke="#000" stroke-width="0.75"/>
<line x1="34.8" y1="439.03" x2="39.3" y2="439.03" stroke="#000" stroke-width="0.75"/>
<line x1="36.5" y1="436.2" x2="39.3" y2="436.2" stroke="#000" stroke-width="0.75"/>
<line x1="36.5" y1="433.37" x2="39.3" y2="433.37" stroke="#000" stroke-width="0.75"/>
<line x1="36.5" y1="430.53" x2="39.3" y2="430.53" stroke="#000" stroke-width="0.75"/>
<line x1="36.5" y1="427.7" x2="39.3" y2="427.7" stroke="#000" stroke-width="0.75"/>
<line x1="34.8" y1="424.87" x2="39.3" y2="424.87" stroke="#000" stroke-width="0.75"/>
<line x1="36.5" y1="422.03" x2="39.3" y2="422.03" stroke="#000" stroke-width="0.75"/>
<line x1="36.5" y1="419.2" x2="39.3" y2="419.2" stroke="#000" stroke-width="0.75"/>
<line x1="36.5" y1="416.37" x2="39.3" y2="416.37" stroke="#000" stroke-width="0.75"/>
<line x1="36.5" y1="413.53" x2="39.3" y2="413.53" stroke="#000" stroke-width="0.75"/>
<line x1="34.8" y1="410.7" x2="39.3" y2="410.7" stroke="#000" stroke-width="0.75"/>
<path d="M39.3,446.67 L40.8,446.67 L40.8,495.7 L39.3,495.7 Z" fill="#3a3a3a"/>
<path d="M40.21,483.74 L41.64,480.81 L42.75,484.72 L44.18,481.79 L45.5,483.69 L47.12,475.03 L49.05,473.01 L50.98,475.91 L52.4,467.25 L53.93,464.33 L55.25,456.58 L56.27,452.75 L57.28,460.38 L58.4,452.73 L59.82,458.45 L60.74,455.53 L62.36,460.33 L63.68,457.51 L65.1,464.23 L66.22,458.39 L67.64,468.02 L68.96,464.19 L70.18,477.75 L71.5,467.09 L72.52,474.81 L74.04,470.88 L75.36,467.05 L76.78,477.69 L78.3,474.76 L80.33,483.39 L82.26,482.47 L84.19,487.27 L86.12,488.16 L89.06,490.14 L92.01,492.63 L94.95,492.9 L96.88,490.98 L98.81,493.88 L100.74,490.94 L102.77,494.85 L111.5,495.07" fill="none" stroke="#262626" stroke-width="1.15" stroke-linejoin="round"/>
<path d="M153.2,409.7 L243.1,409.1 L243.1,494.8 L153.2,495.3 Z" fill="none" stroke="#1c1c1c" stroke-width="1.25"/>
<line x1="153.2" y1="495.3" x2="153.2" y2="499.9" stroke="#000" stroke-width="0.85"/>
<line x1="159.97" y1="495.26" x2="159.97" y2="497.56" stroke="#000" stroke-width="0.85"/>
<line x1="163.92" y1="495.24" x2="163.92" y2="497.54" stroke="#000" stroke-width="0.85"/>
<line x1="166.73" y1="495.22" x2="166.73" y2="497.52" stroke="#000" stroke-width="0.85"/>
<line x1="168.91" y1="495.21" x2="168.91" y2="497.51" stroke="#000" stroke-width="0.85"/>
<line x1="170.69" y1="495.2" x2="170.69" y2="497.5" stroke="#000" stroke-width="0.85"/>
<line x1="172.19" y1="495.19" x2="172.19" y2="497.49" stroke="#000" stroke-width="0.85"/>
<line x1="173.5" y1="495.19" x2="173.5" y2="497.49" stroke="#000" stroke-width="0.85"/>
<line x1="174.65" y1="495.18" x2="174.65" y2="497.48" stroke="#000" stroke-width="0.85"/>
<line x1="175.67" y1="495.18" x2="175.67" y2="499.78" stroke="#000" stroke-width="0.85"/>
<line x1="182.44" y1="495.14" x2="182.44" y2="497.44" stroke="#000" stroke-width="0.85"/>
<line x1="186.4" y1="495.12" x2="186.4" y2="497.42" stroke="#000" stroke-width="0.85"/>
<line x1="189.21" y1="495.1" x2="189.21" y2="497.4" stroke="#000" stroke-width="0.85"/>
<line x1="191.38" y1="495.09" x2="191.38" y2="497.39" stroke="#000" stroke-width="0.85"/>
<line x1="193.16" y1="495.08" x2="193.16" y2="497.38" stroke="#000" stroke-width="0.85"/>
<line x1="194.67" y1="495.07" x2="194.67" y2="497.37" stroke="#000" stroke-width="0.85"/>
<line x1="195.97" y1="495.06" x2="195.97" y2="497.36" stroke="#000" stroke-width="0.85"/>
<line x1="197.12" y1="495.06" x2="197.12" y2="497.36" stroke="#000" stroke-width="0.85"/>
<line x1="198.15" y1="495.05" x2="198.15" y2="499.65" stroke="#000" stroke-width="0.85"/>
<line x1="204.92" y1="495.01" x2="204.92" y2="497.31" stroke="#000" stroke-width="0.85"/>
<line x1="208.87" y1="494.99" x2="208.87" y2="497.29" stroke="#000" stroke-width="0.85"/>
<line x1="211.68" y1="494.97" x2="211.68" y2="497.27" stroke="#000" stroke-width="0.85"/>
<line x1="213.86" y1="494.96" x2="213.86" y2="497.26" stroke="#000" stroke-width="0.85"/>
<line x1="215.64" y1="494.95" x2="215.64" y2="497.25" stroke="#000" stroke-width="0.85"/>
<line x1="217.14" y1="494.94" x2="217.14" y2="497.24" stroke="#000" stroke-width="0.85"/>
<line x1="218.45" y1="494.94" x2="218.45" y2="497.24" stroke="#000" stroke-width="0.85"/>
<line x1="219.6" y1="494.93" x2="219.6" y2="497.23" stroke="#000" stroke-width="0.85"/>
<line x1="220.62" y1="494.93" x2="220.62" y2="499.53" stroke="#000" stroke-width="0.85"/>
<line x1="227.39" y1="494.89" x2="227.39" y2="497.19" stroke="#000" stroke-width="0.85"/>
<line x1="231.35" y1="494.87" x2="231.35" y2="497.17" stroke="#000" stroke-width="0.85"/>
<line x1="234.16" y1="494.85" x2="234.16" y2="497.15" stroke="#000" stroke-width="0.85"/>
<line x1="236.33" y1="494.84" x2="236.33" y2="497.14" stroke="#000" stroke-width="0.85"/>
<line x1="238.11" y1="494.83" x2="238.11" y2="497.13" stroke="#000" stroke-width="0.85"/>
<line x1="239.62" y1="494.82" x2="239.62" y2="497.12" stroke="#000" stroke-width="0.85"/>
<line x1="240.92" y1="494.81" x2="240.92" y2="497.11" stroke="#000" stroke-width="0.85"/>
<line x1="242.07" y1="494.81" x2="242.07" y2="497.11" stroke="#000" stroke-width="0.85"/>
<line x1="243.1" y1="494.8" x2="243.1" y2="499.4" stroke="#000" stroke-width="0.85"/>
<line x1="148.7" y1="495.3" x2="153.2" y2="495.3" stroke="#000" stroke-width="0.75"/>
<line x1="150.4" y1="492.45" x2="153.2" y2="492.45" stroke="#000" stroke-width="0.75"/>
<line x1="150.4" y1="489.59" x2="153.2" y2="489.59" stroke="#000" stroke-width="0.75"/>
<line x1="150.4" y1="486.74" x2="153.2" y2="486.74" stroke="#000" stroke-width="0.75"/>
<line x1="150.4" y1="483.89" x2="153.2" y2="483.89" stroke="#000" stroke-width="0.75"/>
<line x1="148.7" y1="481.03" x2="153.2" y2="481.03" stroke="#000" stroke-width="0.75"/>
<line x1="150.4" y1="478.18" x2="153.2" y2="478.18" stroke="#000" stroke-width="0.75"/>
<line x1="150.4" y1="475.33" x2="153.2" y2="475.33" stroke="#000" stroke-width="0.75"/>
<line x1="150.4" y1="472.47" x2="153.2" y2="472.47" stroke="#000" stroke-width="0.75"/>
<line x1="150.4" y1="469.62" x2="153.2" y2="469.62" stroke="#000" stroke-width="0.75"/>
<line x1="148.7" y1="466.77" x2="153.2" y2="466.77" stroke="#000" stroke-width="0.75"/>
<line x1="150.4" y1="463.91" x2="153.2" y2="463.91" stroke="#000" stroke-width="0.75"/>
<line x1="150.4" y1="461.06" x2="153.2" y2="461.06" stroke="#000" stroke-width="0.75"/>
<line x1="150.4" y1="458.21" x2="153.2" y2="458.21" stroke="#000" stroke-width="0.75"/>
<line x1="150.4" y1="455.35" x2="153.2" y2="455.35" stroke="#000" stroke-width="0.75"/>
<line x1="148.7" y1="452.5" x2="153.2" y2="452.5" stroke="#000" stroke-width="0.75"/>
<line x1="150.4" y1="449.65" x2="153.2" y2="449.65" stroke="#000" stroke-width="0.75"/>
<line x1="150.4" y1="446.79" x2="153.2" y2="446.79" stroke="#000" stroke-width="0.75"/>
<line x1="150.4" y1="443.94" x2="153.2" y2="443.94" stroke="#000" stroke-width="0.75"/>
<line x1="150.4" y1="441.09" x2="153.2" y2="441.09" stroke="#000" stroke-width="0.75"/>
<line x1="148.7" y1="438.23" x2="153.2" y2="438.23" stroke="#000" stroke-width="0.75"/>
<line x1="150.4" y1="435.38" x2="153.2" y2="435.38" stroke="#000" stroke-width="0.75"/>
<line x1="150.4" y1="432.53" x2="153.2" y2="432.53" stroke="#000" stroke-width="0.75"/>
<line x1="150.4" y1="429.67" x2="153.2" y2="429.67" stroke="#000" stroke-width="0.75"/>
<line x1="150.4" y1="426.82" x2="153.2" y2="426.82" stroke="#000" stroke-width="0.75"/>
<line x1="148.7" y1="423.97" x2="153.2" y2="423.97" stroke="#000" stroke-width="0.75"/>
<line x1="150.4" y1="421.11" x2="153.2" y2="421.11" stroke="#000" stroke-width="0.75"/>
<line x1="150.4" y1="418.26" x2="153.2" y2="418.26" stroke="#000" stroke-width="0.75"/>
<line x1="150.4" y1="415.41" x2="153.2" y2="415.41" stroke="#000" stroke-width="0.75"/>
<line x1="150.4" y1="412.55" x2="153.2" y2="412.55" stroke="#000" stroke-width="0.75"/>
<line x1="148.7" y1="409.7" x2="153.2" y2="409.7" stroke="#000" stroke-width="0.75"/>
<path d="M153.2,444.95 L154.7,444.95 L154.7,495.3 L153.2,495.3 Z" fill="#3a3a3a"/>
<path d="M154.52,482.7 L155.93,477.86 L157.45,468.08 L159.07,473.92 L159.78,458.4 L161.4,466.15 L162.92,462.31 L164.24,458.37 L165.65,451.62 L166.77,464.2 L167.98,451.6 L169.2,460.26 L170.31,455.42 L171.52,460.24 L172.64,462.25 L173.85,452.58 L174.97,446.73 L175.98,444.81 L176.59,473.81 L177.9,467.96 L179.32,471.88 L180.84,473.79 L182.36,477.71 L183.77,479.62 L185.7,474.77 L187.01,470.83 L188.63,480.49 L190.15,476.66 L192.08,474.73 L193.49,478.55 L194.81,476.63 L196.43,483.37 L198.35,485.27 L199.87,487.28 L201.9,483.34 L203.21,487.26 L205.14,491.08 L207.16,493.99 L209.08,491.06 L211.01,493.97 L212.93,491.04 L214.85,494.45 L223.66,494.4 L225.18,490.97 L226.6,494.39 L241.18,494.81" fill="none" stroke="#262626" stroke-width="1.15" stroke-linejoin="round"/>
<path d="M282.9,409.1 L372.3,408.4 L372.6,493.8 L283.2,494.4 Z" fill="none" stroke="#1c1c1c" stroke-width="1.25"/>
<line x1="283.2" y1="494.4" x2="283.2" y2="499" stroke="#000" stroke-width="0.85"/>
<line x1="289.93" y1="494.35" x2="289.93" y2="496.65" stroke="#000" stroke-width="0.85"/>
<line x1="293.86" y1="494.33" x2="293.86" y2="496.63" stroke="#000" stroke-width="0.85"/>
<line x1="296.66" y1="494.31" x2="296.66" y2="496.61" stroke="#000" stroke-width="0.85"/>
<line x1="298.82" y1="494.3" x2="298.82" y2="496.6" stroke="#000" stroke-width="0.85"/>
<line x1="300.59" y1="494.28" x2="300.59" y2="496.58" stroke="#000" stroke-width="0.85"/>
<line x1="302.09" y1="494.27" x2="302.09" y2="496.57" stroke="#000" stroke-width="0.85"/>
<line x1="303.38" y1="494.26" x2="303.38" y2="496.56" stroke="#000" stroke-width="0.85"/>
<line x1="304.53" y1="494.26" x2="304.53" y2="496.56" stroke="#000" stroke-width="0.85"/>
<line x1="305.55" y1="494.25" x2="305.55" y2="498.85" stroke="#000" stroke-width="0.85"/>
<line x1="312.28" y1="494.2" x2="312.28" y2="496.5" stroke="#000" stroke-width="0.85"/>
<line x1="316.21" y1="494.18" x2="316.21" y2="496.48" stroke="#000" stroke-width="0.85"/>
<line x1="319.01" y1="494.16" x2="319.01" y2="496.46" stroke="#000" stroke-width="0.85"/>
<line x1="321.17" y1="494.15" x2="321.17" y2="496.45" stroke="#000" stroke-width="0.85"/>
<line x1="322.94" y1="494.13" x2="322.94" y2="496.43" stroke="#000" stroke-width="0.85"/>
<line x1="324.44" y1="494.12" x2="324.44" y2="496.42" stroke="#000" stroke-width="0.85"/>
<line x1="325.73" y1="494.11" x2="325.73" y2="496.41" stroke="#000" stroke-width="0.85"/>
<line x1="326.88" y1="494.11" x2="326.88" y2="496.41" stroke="#000" stroke-width="0.85"/>
<line x1="327.9" y1="494.1" x2="327.9" y2="498.7" stroke="#000" stroke-width="0.85"/>
<line x1="334.63" y1="494.05" x2="334.63" y2="496.35" stroke="#000" stroke-width="0.85"/>
<line x1="338.56" y1="494.03" x2="338.56" y2="496.33" stroke="#000" stroke-width="0.85"/>
<line x1="341.36" y1="494.01" x2="341.36" y2="496.31" stroke="#000" stroke-width="0.85"/>
<line x1="343.52" y1="494" x2="343.52" y2="496.3" stroke="#000" stroke-width="0.85"/>
<line x1="345.29" y1="493.98" x2="345.29" y2="496.28" stroke="#000" stroke-width="0.85"/>
<line x1="346.79" y1="493.97" x2="346.79" y2="496.27" stroke="#000" stroke-width="0.85"/>
<line x1="348.08" y1="493.96" x2="348.08" y2="496.26" stroke="#000" stroke-width="0.85"/>
<line x1="349.23" y1="493.96" x2="349.23" y2="496.26" stroke="#000" stroke-width="0.85"/>
<line x1="350.25" y1="493.95" x2="350.25" y2="498.55" stroke="#000" stroke-width="0.85"/>
<line x1="356.98" y1="493.9" x2="356.98" y2="496.2" stroke="#000" stroke-width="0.85"/>
<line x1="360.91" y1="493.88" x2="360.91" y2="496.18" stroke="#000" stroke-width="0.85"/>
<line x1="363.71" y1="493.86" x2="363.71" y2="496.16" stroke="#000" stroke-width="0.85"/>
<line x1="365.87" y1="493.85" x2="365.87" y2="496.15" stroke="#000" stroke-width="0.85"/>
<line x1="367.64" y1="493.83" x2="367.64" y2="496.13" stroke="#000" stroke-width="0.85"/>
<line x1="369.14" y1="493.82" x2="369.14" y2="496.12" stroke="#000" stroke-width="0.85"/>
<line x1="370.43" y1="493.81" x2="370.43" y2="496.11" stroke="#000" stroke-width="0.85"/>
<line x1="371.58" y1="493.81" x2="371.58" y2="496.11" stroke="#000" stroke-width="0.85"/>
<line x1="372.6" y1="493.8" x2="372.6" y2="498.4" stroke="#000" stroke-width="0.85"/>
<line x1="278.7" y1="494.4" x2="283.2" y2="494.4" stroke="#000" stroke-width="0.75"/>
<line x1="280.39" y1="491.56" x2="283.19" y2="491.56" stroke="#000" stroke-width="0.75"/>
<line x1="280.38" y1="488.71" x2="283.18" y2="488.71" stroke="#000" stroke-width="0.75"/>
<line x1="280.37" y1="485.87" x2="283.17" y2="485.87" stroke="#000" stroke-width="0.75"/>
<line x1="280.36" y1="483.03" x2="283.16" y2="483.03" stroke="#000" stroke-width="0.75"/>
<line x1="278.65" y1="480.18" x2="283.15" y2="480.18" stroke="#000" stroke-width="0.75"/>
<line x1="280.34" y1="477.34" x2="283.14" y2="477.34" stroke="#000" stroke-width="0.75"/>
<line x1="280.33" y1="474.5" x2="283.13" y2="474.5" stroke="#000" stroke-width="0.75"/>
<line x1="280.32" y1="471.65" x2="283.12" y2="471.65" stroke="#000" stroke-width="0.75"/>
<line x1="280.31" y1="468.81" x2="283.11" y2="468.81" stroke="#000" stroke-width="0.75"/>
<line x1="278.6" y1="465.97" x2="283.1" y2="465.97" stroke="#000" stroke-width="0.75"/>
<line x1="280.29" y1="463.12" x2="283.09" y2="463.12" stroke="#000" stroke-width="0.75"/>
<line x1="280.28" y1="460.28" x2="283.08" y2="460.28" stroke="#000" stroke-width="0.75"/>
<line x1="280.27" y1="457.44" x2="283.07" y2="457.44" stroke="#000" stroke-width="0.75"/>
<line x1="280.26" y1="454.59" x2="283.06" y2="454.59" stroke="#000" stroke-width="0.75"/>
<line x1="278.55" y1="451.75" x2="283.05" y2="451.75" stroke="#000" stroke-width="0.75"/>
<line x1="280.24" y1="448.91" x2="283.04" y2="448.91" stroke="#000" stroke-width="0.75"/>
<line x1="280.23" y1="446.06" x2="283.03" y2="446.06" stroke="#000" stroke-width="0.75"/>
<line x1="280.22" y1="443.22" x2="283.02" y2="443.22" stroke="#000" stroke-width="0.75"/>
<line x1="280.21" y1="440.38" x2="283.01" y2="440.38" stroke="#000" stroke-width="0.75"/>
<line x1="278.5" y1="437.53" x2="283" y2="437.53" stroke="#000" stroke-width="0.75"/>
<line x1="280.19" y1="434.69" x2="282.99" y2="434.69" stroke="#000" stroke-width="0.75"/>
<line x1="280.18" y1="431.85" x2="282.98" y2="431.85" stroke="#000" stroke-width="0.75"/>
<line x1="280.17" y1="429" x2="282.97" y2="429" stroke="#000" stroke-width="0.75"/>
<line x1="280.16" y1="426.16" x2="282.96" y2="426.16" stroke="#000" stroke-width="0.75"/>
<line x1="278.45" y1="423.32" x2="282.95" y2="423.32" stroke="#000" stroke-width="0.75"/>
<line x1="280.14" y1="420.47" x2="282.94" y2="420.47" stroke="#000" stroke-width="0.75"/>
<line x1="280.13" y1="417.63" x2="282.93" y2="417.63" stroke="#000" stroke-width="0.75"/>
<line x1="280.12" y1="414.79" x2="282.92" y2="414.79" stroke="#000" stroke-width="0.75"/>
<line x1="280.11" y1="411.94" x2="282.91" y2="411.94" stroke="#000" stroke-width="0.75"/>
<line x1="278.4" y1="409.1" x2="282.9" y2="409.1" stroke="#000" stroke-width="0.75"/>
<path d="M283.03,446.24 L284.53,446.24 L284.7,494.4 L283.2,494.4 Z" fill="#3a3a3a"/>
<path d="M284.47,484.18 L286.47,480.26 L288.37,474.54 L290.26,470.62 L291.58,473.52 L293.18,468.7 L295.06,460.98 L296.96,456.16 L298.56,453.24 L299.89,458.04 L301.28,454.22 L302.76,444.6 L303.75,439.78 L304.68,447.39 L305.67,443.57 L306.6,450.28 L308.2,447.36 L309.51,445.45 L310.95,456.05 L312.5,467.56 L314.15,476.26 L315.42,467.54 L316.76,474.34 L318.35,469.52 L319.88,475.22 L321.32,484.83 L322.61,478.11 L324.23,482 L325.76,486.8 L327.66,483.88 L329.09,487.68 L331,487.67 L332.28,479.04 L333.93,489.65 L335.83,488.64 L337.74,487.62 L339.68,493.42 L355.18,493.92" fill="none" stroke="#262626" stroke-width="1.15" stroke-linejoin="round"/>
<path d="M393.4,408.2 L482.8,407.6 L483.5,493.5 L394,494.2 Z" fill="none" stroke="#1c1c1c" stroke-width="1.25"/>
<line x1="394" y1="494.2" x2="394" y2="498.8" stroke="#000" stroke-width="0.85"/>
<line x1="400.74" y1="494.15" x2="400.74" y2="496.45" stroke="#000" stroke-width="0.85"/>
<line x1="404.68" y1="494.12" x2="404.68" y2="496.42" stroke="#000" stroke-width="0.85"/>
<line x1="407.47" y1="494.09" x2="407.47" y2="496.39" stroke="#000" stroke-width="0.85"/>
<line x1="409.64" y1="494.08" x2="409.64" y2="496.38" stroke="#000" stroke-width="0.85"/>
<line x1="411.41" y1="494.06" x2="411.41" y2="496.36" stroke="#000" stroke-width="0.85"/>
<line x1="412.91" y1="494.05" x2="412.91" y2="496.35" stroke="#000" stroke-width="0.85"/>
<line x1="414.21" y1="494.04" x2="414.21" y2="496.34" stroke="#000" stroke-width="0.85"/>
<line x1="415.35" y1="494.03" x2="415.35" y2="496.33" stroke="#000" stroke-width="0.85"/>
<line x1="416.38" y1="494.02" x2="416.38" y2="498.62" stroke="#000" stroke-width="0.85"/>
<line x1="423.11" y1="493.97" x2="423.11" y2="496.27" stroke="#000" stroke-width="0.85"/>
<line x1="427.05" y1="493.94" x2="427.05" y2="496.24" stroke="#000" stroke-width="0.85"/>
<line x1="429.85" y1="493.92" x2="429.85" y2="496.22" stroke="#000" stroke-width="0.85"/>
<line x1="432.01" y1="493.9" x2="432.01" y2="496.2" stroke="#000" stroke-width="0.85"/>
<line x1="433.79" y1="493.89" x2="433.79" y2="496.19" stroke="#000" stroke-width="0.85"/>
<line x1="435.28" y1="493.88" x2="435.28" y2="496.18" stroke="#000" stroke-width="0.85"/>
<line x1="436.58" y1="493.87" x2="436.58" y2="496.17" stroke="#000" stroke-width="0.85"/>
<line x1="437.73" y1="493.86" x2="437.73" y2="496.16" stroke="#000" stroke-width="0.85"/>
<line x1="438.75" y1="493.85" x2="438.75" y2="498.45" stroke="#000" stroke-width="0.85"/>
<line x1="445.49" y1="493.8" x2="445.49" y2="496.1" stroke="#000" stroke-width="0.85"/>
<line x1="449.43" y1="493.77" x2="449.43" y2="496.07" stroke="#000" stroke-width="0.85"/>
<line x1="452.22" y1="493.74" x2="452.22" y2="496.04" stroke="#000" stroke-width="0.85"/>
<line x1="454.39" y1="493.73" x2="454.39" y2="496.03" stroke="#000" stroke-width="0.85"/>
<line x1="456.16" y1="493.71" x2="456.16" y2="496.01" stroke="#000" stroke-width="0.85"/>
<line x1="457.66" y1="493.7" x2="457.66" y2="496" stroke="#000" stroke-width="0.85"/>
<line x1="458.96" y1="493.69" x2="458.96" y2="495.99" stroke="#000" stroke-width="0.85"/>
<line x1="460.1" y1="493.68" x2="460.1" y2="495.98" stroke="#000" stroke-width="0.85"/>
<line x1="461.12" y1="493.68" x2="461.12" y2="498.28" stroke="#000" stroke-width="0.85"/>
<line x1="467.86" y1="493.62" x2="467.86" y2="495.92" stroke="#000" stroke-width="0.85"/>
<line x1="471.8" y1="493.59" x2="471.8" y2="495.89" stroke="#000" stroke-width="0.85"/>
<line x1="474.6" y1="493.57" x2="474.6" y2="495.87" stroke="#000" stroke-width="0.85"/>
<line x1="476.76" y1="493.55" x2="476.76" y2="495.85" stroke="#000" stroke-width="0.85"/>
<line x1="478.54" y1="493.54" x2="478.54" y2="495.84" stroke="#000" stroke-width="0.85"/>
<line x1="480.03" y1="493.53" x2="480.03" y2="495.83" stroke="#000" stroke-width="0.85"/>
<line x1="481.33" y1="493.52" x2="481.33" y2="495.82" stroke="#000" stroke-width="0.85"/>
<line x1="482.48" y1="493.51" x2="482.48" y2="495.81" stroke="#000" stroke-width="0.85"/>
<line x1="483.5" y1="493.5" x2="483.5" y2="498.1" stroke="#000" stroke-width="0.85"/>
<line x1="389.5" y1="494.2" x2="394" y2="494.2" stroke="#000" stroke-width="0.75"/>
<line x1="391.18" y1="491.33" x2="393.98" y2="491.33" stroke="#000" stroke-width="0.75"/>
<line x1="391.16" y1="488.47" x2="393.96" y2="488.47" stroke="#000" stroke-width="0.75"/>
<line x1="391.14" y1="485.6" x2="393.94" y2="485.6" stroke="#000" stroke-width="0.75"/>
<line x1="391.12" y1="482.73" x2="393.92" y2="482.73" stroke="#000" stroke-width="0.75"/>
<line x1="389.4" y1="479.87" x2="393.9" y2="479.87" stroke="#000" stroke-width="0.75"/>
<line x1="391.08" y1="477" x2="393.88" y2="477" stroke="#000" stroke-width="0.75"/>
<line x1="391.06" y1="474.13" x2="393.86" y2="474.13" stroke="#000" stroke-width="0.75"/>
<line x1="391.04" y1="471.27" x2="393.84" y2="471.27" stroke="#000" stroke-width="0.75"/>
<line x1="391.02" y1="468.4" x2="393.82" y2="468.4" stroke="#000" stroke-width="0.75"/>
<line x1="389.3" y1="465.53" x2="393.8" y2="465.53" stroke="#000" stroke-width="0.75"/>
<line x1="390.98" y1="462.67" x2="393.78" y2="462.67" stroke="#000" stroke-width="0.75"/>
<line x1="390.96" y1="459.8" x2="393.76" y2="459.8" stroke="#000" stroke-width="0.75"/>
<line x1="390.94" y1="456.93" x2="393.74" y2="456.93" stroke="#000" stroke-width="0.75"/>
<line x1="390.92" y1="454.07" x2="393.72" y2="454.07" stroke="#000" stroke-width="0.75"/>
<line x1="389.2" y1="451.2" x2="393.7" y2="451.2" stroke="#000" stroke-width="0.75"/>
<line x1="390.88" y1="448.33" x2="393.68" y2="448.33" stroke="#000" stroke-width="0.75"/>
<line x1="390.86" y1="445.47" x2="393.66" y2="445.47" stroke="#000" stroke-width="0.75"/>
<line x1="390.84" y1="442.6" x2="393.64" y2="442.6" stroke="#000" stroke-width="0.75"/>
<line x1="390.82" y1="439.73" x2="393.62" y2="439.73" stroke="#000" stroke-width="0.75"/>
<line x1="389.1" y1="436.87" x2="393.6" y2="436.87" stroke="#000" stroke-width="0.75"/>
<line x1="390.78" y1="434" x2="393.58" y2="434" stroke="#000" stroke-width="0.75"/>
<line x1="390.76" y1="431.13" x2="393.56" y2="431.13" stroke="#000" stroke-width="0.75"/>
<line x1="390.74" y1="428.27" x2="393.54" y2="428.27" stroke="#000" stroke-width="0.75"/>
<line x1="390.72" y1="425.4" x2="393.52" y2="425.4" stroke="#000" stroke-width="0.75"/>
<line x1="389" y1="422.53" x2="393.5" y2="422.53" stroke="#000" stroke-width="0.75"/>
<line x1="390.68" y1="419.67" x2="393.48" y2="419.67" stroke="#000" stroke-width="0.75"/>
<line x1="390.66" y1="416.8" x2="393.46" y2="416.8" stroke="#000" stroke-width="0.75"/>
<line x1="390.64" y1="413.93" x2="393.44" y2="413.93" stroke="#000" stroke-width="0.75"/>
<line x1="390.62" y1="411.07" x2="393.42" y2="411.07" stroke="#000" stroke-width="0.75"/>
<line x1="388.9" y1="408.2" x2="393.4" y2="408.2" stroke="#000" stroke-width="0.75"/>
<path d="M393.64,442.72 L395.14,442.72 L395.5,494.2 L394,494.2 Z" fill="#3a3a3a"/>
<path d="M394.49,476.73 L396.83,476.72 L397.81,471.86 L398.64,459.24 L399.73,469.93 L400.97,457.3 L402.24,464.06 L403.49,453.35 L404.87,447.49 L406.13,467.86 L407.23,450.4 L408.51,458.16 L409.56,449.47 L410.71,439.77 L411.97,458.13 L413.08,443.59 L414.23,447.42 L415.89,451.34 L417.25,457.18 L418.75,467.77 L420.32,472.6 L421.86,475.52 L423.3,476.51 L424.64,479.43 L425.81,472.56 L427.18,478.4 L428.63,481.32 L429.77,484.23 L431.09,469.69 L432.45,475.44 L434.05,471.59 L435.6,474.5 L437.08,468.64 L438.35,474.48 L439.52,481.23 L441.56,482.23 L442.91,485.04 L444.31,482.21 L445.88,487.04 L447.82,487.93 L449.46,489.93 L450.78,488.91 L452.14,493.75" fill="none" stroke="#262626" stroke-width="1.15" stroke-linejoin="round"/>
<path d="M39,519.8 L131.5,519.3 L131.5,604.6 L39.8,605.2 Z" fill="none" stroke="#1c1c1c" stroke-width="1.25"/>
<line x1="39.8" y1="605.2" x2="39.8" y2="609.8" stroke="#000" stroke-width="0.85"/>
<line x1="46.7" y1="605.15" x2="46.7" y2="607.45" stroke="#000" stroke-width="0.85"/>
<line x1="50.74" y1="605.13" x2="50.74" y2="607.43" stroke="#000" stroke-width="0.85"/>
<line x1="53.6" y1="605.11" x2="53.6" y2="607.41" stroke="#000" stroke-width="0.85"/>
<line x1="55.82" y1="605.1" x2="55.82" y2="607.4" stroke="#000" stroke-width="0.85"/>
<line x1="57.64" y1="605.08" x2="57.64" y2="607.38" stroke="#000" stroke-width="0.85"/>
<line x1="59.17" y1="605.07" x2="59.17" y2="607.37" stroke="#000" stroke-width="0.85"/>
<line x1="60.5" y1="605.06" x2="60.5" y2="607.36" stroke="#000" stroke-width="0.85"/>
<line x1="61.68" y1="605.06" x2="61.68" y2="607.36" stroke="#000" stroke-width="0.85"/>
<line x1="62.72" y1="605.05" x2="62.72" y2="609.65" stroke="#000" stroke-width="0.85"/>
<line x1="69.63" y1="605" x2="69.63" y2="607.3" stroke="#000" stroke-width="0.85"/>
<line x1="73.66" y1="604.98" x2="73.66" y2="607.28" stroke="#000" stroke-width="0.85"/>
<line x1="76.53" y1="604.96" x2="76.53" y2="607.26" stroke="#000" stroke-width="0.85"/>
<line x1="78.75" y1="604.95" x2="78.75" y2="607.25" stroke="#000" stroke-width="0.85"/>
<line x1="80.56" y1="604.93" x2="80.56" y2="607.23" stroke="#000" stroke-width="0.85"/>
<line x1="82.1" y1="604.92" x2="82.1" y2="607.22" stroke="#000" stroke-width="0.85"/>
<line x1="83.43" y1="604.91" x2="83.43" y2="607.21" stroke="#000" stroke-width="0.85"/>
<line x1="84.6" y1="604.91" x2="84.6" y2="607.21" stroke="#000" stroke-width="0.85"/>
<line x1="85.65" y1="604.9" x2="85.65" y2="609.5" stroke="#000" stroke-width="0.85"/>
<line x1="92.55" y1="604.85" x2="92.55" y2="607.15" stroke="#000" stroke-width="0.85"/>
<line x1="96.59" y1="604.83" x2="96.59" y2="607.13" stroke="#000" stroke-width="0.85"/>
<line x1="99.45" y1="604.81" x2="99.45" y2="607.11" stroke="#000" stroke-width="0.85"/>
<line x1="101.67" y1="604.8" x2="101.67" y2="607.1" stroke="#000" stroke-width="0.85"/>
<line x1="103.49" y1="604.78" x2="103.49" y2="607.08" stroke="#000" stroke-width="0.85"/>
<line x1="105.02" y1="604.77" x2="105.02" y2="607.07" stroke="#000" stroke-width="0.85"/>
<line x1="106.35" y1="604.76" x2="106.35" y2="607.06" stroke="#000" stroke-width="0.85"/>
<line x1="107.53" y1="604.76" x2="107.53" y2="607.06" stroke="#000" stroke-width="0.85"/>
<line x1="108.58" y1="604.75" x2="108.58" y2="609.35" stroke="#000" stroke-width="0.85"/>
<line x1="115.48" y1="604.7" x2="115.48" y2="607" stroke="#000" stroke-width="0.85"/>
<line x1="119.51" y1="604.68" x2="119.51" y2="606.98" stroke="#000" stroke-width="0.85"/>
<line x1="122.38" y1="604.66" x2="122.38" y2="606.96" stroke="#000" stroke-width="0.85"/>
<line x1="124.6" y1="604.65" x2="124.6" y2="606.95" stroke="#000" stroke-width="0.85"/>
<line x1="126.41" y1="604.63" x2="126.41" y2="606.93" stroke="#000" stroke-width="0.85"/>
<line x1="127.95" y1="604.62" x2="127.95" y2="606.92" stroke="#000" stroke-width="0.85"/>
<line x1="129.28" y1="604.61" x2="129.28" y2="606.91" stroke="#000" stroke-width="0.85"/>
<line x1="130.45" y1="604.61" x2="130.45" y2="606.91" stroke="#000" stroke-width="0.85"/>
<line x1="131.5" y1="604.6" x2="131.5" y2="609.2" stroke="#000" stroke-width="0.85"/>
<line x1="35.3" y1="605.2" x2="39.8" y2="605.2" stroke="#000" stroke-width="0.75"/>
<line x1="36.97" y1="602.35" x2="39.77" y2="602.35" stroke="#000" stroke-width="0.75"/>
<line x1="36.95" y1="599.51" x2="39.75" y2="599.51" stroke="#000" stroke-width="0.75"/>
<line x1="36.92" y1="596.66" x2="39.72" y2="596.66" stroke="#000" stroke-width="0.75"/>
<line x1="36.89" y1="593.81" x2="39.69" y2="593.81" stroke="#000" stroke-width="0.75"/>
<line x1="35.17" y1="590.97" x2="39.67" y2="590.97" stroke="#000" stroke-width="0.75"/>
<line x1="36.84" y1="588.12" x2="39.64" y2="588.12" stroke="#000" stroke-width="0.75"/>
<line x1="36.81" y1="585.27" x2="39.61" y2="585.27" stroke="#000" stroke-width="0.75"/>
<line x1="36.79" y1="582.43" x2="39.59" y2="582.43" stroke="#000" stroke-width="0.75"/>
<line x1="36.76" y1="579.58" x2="39.56" y2="579.58" stroke="#000" stroke-width="0.75"/>
<line x1="35.03" y1="576.73" x2="39.53" y2="576.73" stroke="#000" stroke-width="0.75"/>
<line x1="36.71" y1="573.89" x2="39.51" y2="573.89" stroke="#000" stroke-width="0.75"/>
<line x1="36.68" y1="571.04" x2="39.48" y2="571.04" stroke="#000" stroke-width="0.75"/>
<line x1="36.65" y1="568.19" x2="39.45" y2="568.19" stroke="#000" stroke-width="0.75"/>
<line x1="36.63" y1="565.35" x2="39.43" y2="565.35" stroke="#000" stroke-width="0.75"/>
<line x1="34.9" y1="562.5" x2="39.4" y2="562.5" stroke="#000" stroke-width="0.75"/>
<line x1="36.57" y1="559.65" x2="39.37" y2="559.65" stroke="#000" stroke-width="0.75"/>
<line x1="36.55" y1="556.81" x2="39.35" y2="556.81" stroke="#000" stroke-width="0.75"/>
<line x1="36.52" y1="553.96" x2="39.32" y2="553.96" stroke="#000" stroke-width="0.75"/>
<line x1="36.49" y1="551.11" x2="39.29" y2="551.11" stroke="#000" stroke-width="0.75"/>
<line x1="34.77" y1="548.27" x2="39.27" y2="548.27" stroke="#000" stroke-width="0.75"/>
<line x1="36.44" y1="545.42" x2="39.24" y2="545.42" stroke="#000" stroke-width="0.75"/>
<line x1="36.41" y1="542.57" x2="39.21" y2="542.57" stroke="#000" stroke-width="0.75"/>
<line x1="36.39" y1="539.73" x2="39.19" y2="539.73" stroke="#000" stroke-width="0.75"/>
<line x1="36.36" y1="536.88" x2="39.16" y2="536.88" stroke="#000" stroke-width="0.75"/>
<line x1="34.63" y1="534.03" x2="39.13" y2="534.03" stroke="#000" stroke-width="0.75"/>
<line x1="36.31" y1="531.19" x2="39.11" y2="531.19" stroke="#000" stroke-width="0.75"/>
<line x1="36.28" y1="528.34" x2="39.08" y2="528.34" stroke="#000" stroke-width="0.75"/>
<line x1="36.25" y1="525.49" x2="39.05" y2="525.49" stroke="#000" stroke-width="0.75"/>
<line x1="36.23" y1="522.65" x2="39.03" y2="522.65" stroke="#000" stroke-width="0.75"/>
<line x1="34.5" y1="519.8" x2="39" y2="519.8" stroke="#000" stroke-width="0.75"/>
<path d="M39.74,598.39 L41.24,598.39 L41.3,605.2 L39.8,605.2 Z" fill="#3a3a3a"/>
<path d="M40.6,604.28 L42.08,600.3 L45,599.37 L47.48,594.37 L49.79,592.43 L51.67,586.62 L52.64,581.63 L53.57,583.66 L55.1,572.88 L56.34,563.11 L57.23,545.52 L57.97,523.05 L59.1,537.68 L60.06,529.85 L61.05,539.6 L62,530.75 L63.03,547.42 L64.06,549.34 L65.14,559.09 L66.12,568.85 L68.17,572.8 L70.12,575.73 L72.08,581.51 L74.05,589.33 L75.48,593.28 L76.51,578.64 L77.41,594.18 L79.34,596.2 L81.84,591.31 L83.79,596.17 L85.82,599.11 L87.74,597.06 L89.66,598.07 L92.6,599.98 L95.54,602.9 L98.46,600.96 L100.39,603.89 L102.3,600.93 L104.23,603.86 L112.01,604.32" fill="none" stroke="#262626" stroke-width="1.15" stroke-linejoin="round"/>
<path d="M153,518.6 L243.4,518.6 L243.9,603.6 L153.2,603.8 Z" fill="none" stroke="#1c1c1c" stroke-width="1.25"/>
<line x1="153.2" y1="603.8" x2="153.2" y2="608.4" stroke="#000" stroke-width="0.85"/>
<line x1="160.03" y1="603.78" x2="160.03" y2="606.08" stroke="#000" stroke-width="0.85"/>
<line x1="164.02" y1="603.78" x2="164.02" y2="606.08" stroke="#000" stroke-width="0.85"/>
<line x1="166.85" y1="603.77" x2="166.85" y2="606.07" stroke="#000" stroke-width="0.85"/>
<line x1="169.05" y1="603.77" x2="169.05" y2="606.07" stroke="#000" stroke-width="0.85"/>
<line x1="170.84" y1="603.76" x2="170.84" y2="606.06" stroke="#000" stroke-width="0.85"/>
<line x1="172.36" y1="603.76" x2="172.36" y2="606.06" stroke="#000" stroke-width="0.85"/>
<line x1="173.68" y1="603.75" x2="173.68" y2="606.05" stroke="#000" stroke-width="0.85"/>
<line x1="174.84" y1="603.75" x2="174.84" y2="606.05" stroke="#000" stroke-width="0.85"/>
<line x1="175.88" y1="603.75" x2="175.88" y2="608.35" stroke="#000" stroke-width="0.85"/>
<line x1="182.7" y1="603.73" x2="182.7" y2="606.03" stroke="#000" stroke-width="0.85"/>
<line x1="186.69" y1="603.73" x2="186.69" y2="606.03" stroke="#000" stroke-width="0.85"/>
<line x1="189.53" y1="603.72" x2="189.53" y2="606.02" stroke="#000" stroke-width="0.85"/>
<line x1="191.72" y1="603.72" x2="191.72" y2="606.02" stroke="#000" stroke-width="0.85"/>
<line x1="193.52" y1="603.71" x2="193.52" y2="606.01" stroke="#000" stroke-width="0.85"/>
<line x1="195.04" y1="603.71" x2="195.04" y2="606.01" stroke="#000" stroke-width="0.85"/>
<line x1="196.35" y1="603.7" x2="196.35" y2="606" stroke="#000" stroke-width="0.85"/>
<line x1="197.51" y1="603.7" x2="197.51" y2="606" stroke="#000" stroke-width="0.85"/>
<line x1="198.55" y1="603.7" x2="198.55" y2="608.3" stroke="#000" stroke-width="0.85"/>
<line x1="205.38" y1="603.68" x2="205.38" y2="605.98" stroke="#000" stroke-width="0.85"/>
<line x1="209.37" y1="603.68" x2="209.37" y2="605.98" stroke="#000" stroke-width="0.85"/>
<line x1="212.2" y1="603.67" x2="212.2" y2="605.97" stroke="#000" stroke-width="0.85"/>
<line x1="214.4" y1="603.67" x2="214.4" y2="605.97" stroke="#000" stroke-width="0.85"/>
<line x1="216.19" y1="603.66" x2="216.19" y2="605.96" stroke="#000" stroke-width="0.85"/>
<line x1="217.71" y1="603.66" x2="217.71" y2="605.96" stroke="#000" stroke-width="0.85"/>
<line x1="219.03" y1="603.65" x2="219.03" y2="605.95" stroke="#000" stroke-width="0.85"/>
<line x1="220.19" y1="603.65" x2="220.19" y2="605.95" stroke="#000" stroke-width="0.85"/>
<line x1="221.22" y1="603.65" x2="221.22" y2="608.25" stroke="#000" stroke-width="0.85"/>
<line x1="228.05" y1="603.63" x2="228.05" y2="605.93" stroke="#000" stroke-width="0.85"/>
<line x1="232.04" y1="603.63" x2="232.04" y2="605.93" stroke="#000" stroke-width="0.85"/>
<line x1="234.88" y1="603.62" x2="234.88" y2="605.92" stroke="#000" stroke-width="0.85"/>
<line x1="237.07" y1="603.62" x2="237.07" y2="605.92" stroke="#000" stroke-width="0.85"/>
<line x1="238.87" y1="603.61" x2="238.87" y2="605.91" stroke="#000" stroke-width="0.85"/>
<line x1="240.39" y1="603.61" x2="240.39" y2="605.91" stroke="#000" stroke-width="0.85"/>
<line x1="241.7" y1="603.6" x2="241.7" y2="605.9" stroke="#000" stroke-width="0.85"/>
<line x1="242.86" y1="603.6" x2="242.86" y2="605.9" stroke="#000" stroke-width="0.85"/>
<line x1="243.9" y1="603.6" x2="243.9" y2="608.2" stroke="#000" stroke-width="0.85"/>
<line x1="148.7" y1="603.8" x2="153.2" y2="603.8" stroke="#000" stroke-width="0.75"/>
<line x1="150.39" y1="600.96" x2="153.19" y2="600.96" stroke="#000" stroke-width="0.75"/>
<line x1="150.39" y1="598.12" x2="153.19" y2="598.12" stroke="#000" stroke-width="0.75"/>
<line x1="150.38" y1="595.28" x2="153.18" y2="595.28" stroke="#000" stroke-width="0.75"/>
<line x1="150.37" y1="592.44" x2="153.17" y2="592.44" stroke="#000" stroke-width="0.75"/>
<line x1="148.67" y1="589.6" x2="153.17" y2="589.6" stroke="#000" stroke-width="0.75"/>
<line x1="150.36" y1="586.76" x2="153.16" y2="586.76" stroke="#000" stroke-width="0.75"/>
<line x1="150.35" y1="583.92" x2="153.15" y2="583.92" stroke="#000" stroke-width="0.75"/>
<line x1="150.35" y1="581.08" x2="153.15" y2="581.08" stroke="#000" stroke-width="0.75"/>
<line x1="150.34" y1="578.24" x2="153.14" y2="578.24" stroke="#000" stroke-width="0.75"/>
<line x1="148.63" y1="575.4" x2="153.13" y2="575.4" stroke="#000" stroke-width="0.75"/>
<line x1="150.33" y1="572.56" x2="153.13" y2="572.56" stroke="#000" stroke-width="0.75"/>
<line x1="150.32" y1="569.72" x2="153.12" y2="569.72" stroke="#000" stroke-width="0.75"/>
<line x1="150.31" y1="566.88" x2="153.11" y2="566.88" stroke="#000" stroke-width="0.75"/>
<line x1="150.31" y1="564.04" x2="153.11" y2="564.04" stroke="#000" stroke-width="0.75"/>
<line x1="148.6" y1="561.2" x2="153.1" y2="561.2" stroke="#000" stroke-width="0.75"/>
<line x1="150.29" y1="558.36" x2="153.09" y2="558.36" stroke="#000" stroke-width="0.75"/>
<line x1="150.29" y1="555.52" x2="153.09" y2="555.52" stroke="#000" stroke-width="0.75"/>
<line x1="150.28" y1="552.68" x2="153.08" y2="552.68" stroke="#000" stroke-width="0.75"/>
<line x1="150.27" y1="549.84" x2="153.07" y2="549.84" stroke="#000" stroke-width="0.75"/>
<line x1="148.57" y1="547" x2="153.07" y2="547" stroke="#000" stroke-width="0.75"/>
<line x1="150.26" y1="544.16" x2="153.06" y2="544.16" stroke="#000" stroke-width="0.75"/>
<line x1="150.25" y1="541.32" x2="153.05" y2="541.32" stroke="#000" stroke-width="0.75"/>
<line x1="150.25" y1="538.48" x2="153.05" y2="538.48" stroke="#000" stroke-width="0.75"/>
<line x1="150.24" y1="535.64" x2="153.04" y2="535.64" stroke="#000" stroke-width="0.75"/>
<line x1="148.53" y1="532.8" x2="153.03" y2="532.8" stroke="#000" stroke-width="0.75"/>
<line x1="150.23" y1="529.96" x2="153.03" y2="529.96" stroke="#000" stroke-width="0.75"/>
<line x1="150.22" y1="527.12" x2="153.02" y2="527.12" stroke="#000" stroke-width="0.75"/>
<line x1="150.21" y1="524.28" x2="153.01" y2="524.28" stroke="#000" stroke-width="0.75"/>
<line x1="150.21" y1="521.44" x2="153.01" y2="521.44" stroke="#000" stroke-width="0.75"/>
<line x1="148.5" y1="518.6" x2="153" y2="518.6" stroke="#000" stroke-width="0.75"/>
<path d="M153.07,547.3 L154.57,547.3 L154.7,603.8 L153.2,603.8 Z" fill="#3a3a3a"/>
<path d="M155.08,593.73 L156.49,594.73 L157.98,590.9 L158.99,593.72 L159.86,578.31 L160.84,572.47 L161.89,588.88 L162.76,576.29 L164.14,568.54 L165.21,558.87 L166.57,543.37 L167.48,546.28 L168.65,535.71 L169.74,530.78 L170.77,540.54 L171.7,519.2 L172.85,533.7 L174.31,552.12 L176.22,556.95 L178.16,566.61 L180.1,578.28 L181.55,591.76 L183.06,593.67 L184.66,590.85 L185.99,599.5 L187.89,597.59 L189.79,595.67 L191.81,599.49 L193.3,594.66 L194.72,599.48 L196.63,599.48 L199.54,599.47 L200.83,597.56 L202.34,599.47 L204.75,598.56 L206.27,602.38 L208.16,599.45 L210.07,600.46 L211.67,597.54 L213.98,599.44 L217.8,600.44 L221.71,600.43 L223.63,602.34 L225.52,600.42 L227.44,602.33 L229.44,600.42 L230.96,603.33 L240.99,603.61" fill="none" stroke="#262626" stroke-width="1.15" stroke-linejoin="round"/>
<path d="M283.2,518.6 L372.9,517.8 L373.5,602.6 L284.1,603.3 Z" fill="none" stroke="#1c1c1c" stroke-width="1.25"/>
<line x1="284.1" y1="603.3" x2="284.1" y2="607.9" stroke="#000" stroke-width="0.85"/>
<line x1="290.83" y1="603.25" x2="290.83" y2="605.55" stroke="#000" stroke-width="0.85"/>
<line x1="294.76" y1="603.22" x2="294.76" y2="605.52" stroke="#000" stroke-width="0.85"/>
<line x1="297.56" y1="603.19" x2="297.56" y2="605.49" stroke="#000" stroke-width="0.85"/>
<line x1="299.72" y1="603.18" x2="299.72" y2="605.48" stroke="#000" stroke-width="0.85"/>
<line x1="301.49" y1="603.16" x2="301.49" y2="605.46" stroke="#000" stroke-width="0.85"/>
<line x1="302.99" y1="603.15" x2="302.99" y2="605.45" stroke="#000" stroke-width="0.85"/>
<line x1="304.28" y1="603.14" x2="304.28" y2="605.44" stroke="#000" stroke-width="0.85"/>
<line x1="305.43" y1="603.13" x2="305.43" y2="605.43" stroke="#000" stroke-width="0.85"/>
<line x1="306.45" y1="603.12" x2="306.45" y2="607.73" stroke="#000" stroke-width="0.85"/>
<line x1="313.18" y1="603.07" x2="313.18" y2="605.37" stroke="#000" stroke-width="0.85"/>
<line x1="317.11" y1="603.04" x2="317.11" y2="605.34" stroke="#000" stroke-width="0.85"/>
<line x1="319.91" y1="603.02" x2="319.91" y2="605.32" stroke="#000" stroke-width="0.85"/>
<line x1="322.07" y1="603" x2="322.07" y2="605.3" stroke="#000" stroke-width="0.85"/>
<line x1="323.84" y1="602.99" x2="323.84" y2="605.29" stroke="#000" stroke-width="0.85"/>
<line x1="325.34" y1="602.98" x2="325.34" y2="605.28" stroke="#000" stroke-width="0.85"/>
<line x1="326.63" y1="602.97" x2="326.63" y2="605.27" stroke="#000" stroke-width="0.85"/>
<line x1="327.78" y1="602.96" x2="327.78" y2="605.26" stroke="#000" stroke-width="0.85"/>
<line x1="328.8" y1="602.95" x2="328.8" y2="607.55" stroke="#000" stroke-width="0.85"/>
<line x1="335.53" y1="602.9" x2="335.53" y2="605.2" stroke="#000" stroke-width="0.85"/>
<line x1="339.46" y1="602.87" x2="339.46" y2="605.17" stroke="#000" stroke-width="0.85"/>
<line x1="342.26" y1="602.84" x2="342.26" y2="605.14" stroke="#000" stroke-width="0.85"/>
<line x1="344.42" y1="602.83" x2="344.42" y2="605.13" stroke="#000" stroke-width="0.85"/>
<line x1="346.19" y1="602.81" x2="346.19" y2="605.11" stroke="#000" stroke-width="0.85"/>
<line x1="347.69" y1="602.8" x2="347.69" y2="605.1" stroke="#000" stroke-width="0.85"/>
<line x1="348.98" y1="602.79" x2="348.98" y2="605.09" stroke="#000" stroke-width="0.85"/>
<line x1="350.13" y1="602.78" x2="350.13" y2="605.08" stroke="#000" stroke-width="0.85"/>
<line x1="351.15" y1="602.77" x2="351.15" y2="607.38" stroke="#000" stroke-width="0.85"/>
<line x1="357.88" y1="602.72" x2="357.88" y2="605.02" stroke="#000" stroke-width="0.85"/>
<line x1="361.81" y1="602.69" x2="361.81" y2="604.99" stroke="#000" stroke-width="0.85"/>
<line x1="364.61" y1="602.67" x2="364.61" y2="604.97" stroke="#000" stroke-width="0.85"/>
<line x1="366.77" y1="602.65" x2="366.77" y2="604.95" stroke="#000" stroke-width="0.85"/>
<line x1="368.54" y1="602.64" x2="368.54" y2="604.94" stroke="#000" stroke-width="0.85"/>
<line x1="370.04" y1="602.63" x2="370.04" y2="604.93" stroke="#000" stroke-width="0.85"/>
<line x1="371.33" y1="602.62" x2="371.33" y2="604.92" stroke="#000" stroke-width="0.85"/>
<line x1="372.48" y1="602.61" x2="372.48" y2="604.91" stroke="#000" stroke-width="0.85"/>
<line x1="373.5" y1="602.6" x2="373.5" y2="607.2" stroke="#000" stroke-width="0.85"/>
<line x1="279.6" y1="603.3" x2="284.1" y2="603.3" stroke="#000" stroke-width="0.75"/>
<line x1="281.27" y1="600.48" x2="284.07" y2="600.48" stroke="#000" stroke-width="0.75"/>
<line x1="281.24" y1="597.65" x2="284.04" y2="597.65" stroke="#000" stroke-width="0.75"/>
<line x1="281.21" y1="594.83" x2="284.01" y2="594.83" stroke="#000" stroke-width="0.75"/>
<line x1="281.18" y1="592.01" x2="283.98" y2="592.01" stroke="#000" stroke-width="0.75"/>
<line x1="279.45" y1="589.18" x2="283.95" y2="589.18" stroke="#000" stroke-width="0.75"/>
<line x1="281.12" y1="586.36" x2="283.92" y2="586.36" stroke="#000" stroke-width="0.75"/>
<line x1="281.09" y1="583.54" x2="283.89" y2="583.54" stroke="#000" stroke-width="0.75"/>
<line x1="281.06" y1="580.71" x2="283.86" y2="580.71" stroke="#000" stroke-width="0.75"/>
<line x1="281.03" y1="577.89" x2="283.83" y2="577.89" stroke="#000" stroke-width="0.75"/>
<line x1="279.3" y1="575.07" x2="283.8" y2="575.07" stroke="#000" stroke-width="0.75"/>
<line x1="280.97" y1="572.24" x2="283.77" y2="572.24" stroke="#000" stroke-width="0.75"/>
<line x1="280.94" y1="569.42" x2="283.74" y2="569.42" stroke="#000" stroke-width="0.75"/>
<line x1="280.91" y1="566.6" x2="283.71" y2="566.6" stroke="#000" stroke-width="0.75"/>
<line x1="280.88" y1="563.77" x2="283.68" y2="563.77" stroke="#000" stroke-width="0.75"/>
<line x1="279.15" y1="560.95" x2="283.65" y2="560.95" stroke="#000" stroke-width="0.75"/>
<line x1="280.82" y1="558.13" x2="283.62" y2="558.13" stroke="#000" stroke-width="0.75"/>
<line x1="280.79" y1="555.3" x2="283.59" y2="555.3" stroke="#000" stroke-width="0.75"/>
<line x1="280.76" y1="552.48" x2="283.56" y2="552.48" stroke="#000" stroke-width="0.75"/>
<line x1="280.73" y1="549.66" x2="283.53" y2="549.66" stroke="#000" stroke-width="0.75"/>
<line x1="279" y1="546.83" x2="283.5" y2="546.83" stroke="#000" stroke-width="0.75"/>
<line x1="280.67" y1="544.01" x2="283.47" y2="544.01" stroke="#000" stroke-width="0.75"/>
<line x1="280.64" y1="541.19" x2="283.44" y2="541.19" stroke="#000" stroke-width="0.75"/>
<line x1="280.61" y1="538.36" x2="283.41" y2="538.36" stroke="#000" stroke-width="0.75"/>
<line x1="280.58" y1="535.54" x2="283.38" y2="535.54" stroke="#000" stroke-width="0.75"/>
<line x1="278.85" y1="532.72" x2="283.35" y2="532.72" stroke="#000" stroke-width="0.75"/>
<line x1="280.52" y1="529.89" x2="283.32" y2="529.89" stroke="#000" stroke-width="0.75"/>
<line x1="280.49" y1="527.07" x2="283.29" y2="527.07" stroke="#000" stroke-width="0.75"/>
<line x1="280.46" y1="524.25" x2="283.26" y2="524.25" stroke="#000" stroke-width="0.75"/>
<line x1="280.43" y1="521.42" x2="283.23" y2="521.42" stroke="#000" stroke-width="0.75"/>
<line x1="278.7" y1="518.6" x2="283.2" y2="518.6" stroke="#000" stroke-width="0.75"/>
<path d="M283.96,589.8 L285.46,589.8 L285.6,603.3 L284.1,603.3 Z" fill="#3a3a3a"/>
<path d="M285.16,599.39 L287.47,599.37 L289.35,596.46 L291.33,593.54 L293.25,594.53 L294.73,591.61 L296.11,588.7 L297.39,585.89 L298.62,588.68 L299.42,578.17 L300.31,566.56 L301.17,572.36 L301.88,552.14 L303.12,576.14 L304.12,565.63 L305.08,560.82 L306.18,570.41 L307.03,564.61 L308.51,572.3 L310.1,579.99 L312.04,583.77 L314.38,586.66 L316.03,591.44 L317.37,594.34 L318.76,592.42 L319.83,588.51 L321.29,594.3 L323.21,596.19 L325.13,597.18 L327.02,595.26 L328.46,599.05 L329.95,597.14 L331.87,598.12 L333.86,596.11 L335.78,597.09 L337.71,598.98 L340.63,599.96 L342.55,601.84 L344.44,598.92 L346.47,601.81 L348.36,599.89 L349.69,602.79" fill="none" stroke="#262626" stroke-width="1.15" stroke-linejoin="round"/>
<path d="M393.4,517.8 L483.5,517.5 L484,602.2 L394.4,602.8 Z" fill="none" stroke="#1c1c1c" stroke-width="1.25"/>
<line x1="394.4" y1="602.8" x2="394.4" y2="607.4" stroke="#000" stroke-width="0.85"/>
<line x1="401.14" y1="602.75" x2="401.14" y2="605.05" stroke="#000" stroke-width="0.85"/>
<line x1="405.09" y1="602.73" x2="405.09" y2="605.03" stroke="#000" stroke-width="0.85"/>
<line x1="407.89" y1="602.71" x2="407.89" y2="605.01" stroke="#000" stroke-width="0.85"/>
<line x1="410.06" y1="602.7" x2="410.06" y2="605" stroke="#000" stroke-width="0.85"/>
<line x1="411.83" y1="602.68" x2="411.83" y2="604.98" stroke="#000" stroke-width="0.85"/>
<line x1="413.33" y1="602.67" x2="413.33" y2="604.97" stroke="#000" stroke-width="0.85"/>
<line x1="414.63" y1="602.66" x2="414.63" y2="604.96" stroke="#000" stroke-width="0.85"/>
<line x1="415.78" y1="602.66" x2="415.78" y2="604.96" stroke="#000" stroke-width="0.85"/>
<line x1="416.8" y1="602.65" x2="416.8" y2="607.25" stroke="#000" stroke-width="0.85"/>
<line x1="423.54" y1="602.6" x2="423.54" y2="604.9" stroke="#000" stroke-width="0.85"/>
<line x1="427.49" y1="602.58" x2="427.49" y2="604.88" stroke="#000" stroke-width="0.85"/>
<line x1="430.29" y1="602.56" x2="430.29" y2="604.86" stroke="#000" stroke-width="0.85"/>
<line x1="432.46" y1="602.55" x2="432.46" y2="604.85" stroke="#000" stroke-width="0.85"/>
<line x1="434.23" y1="602.53" x2="434.23" y2="604.83" stroke="#000" stroke-width="0.85"/>
<line x1="435.73" y1="602.52" x2="435.73" y2="604.82" stroke="#000" stroke-width="0.85"/>
<line x1="437.03" y1="602.51" x2="437.03" y2="604.81" stroke="#000" stroke-width="0.85"/>
<line x1="438.18" y1="602.51" x2="438.18" y2="604.81" stroke="#000" stroke-width="0.85"/>
<line x1="439.2" y1="602.5" x2="439.2" y2="607.1" stroke="#000" stroke-width="0.85"/>
<line x1="445.94" y1="602.45" x2="445.94" y2="604.75" stroke="#000" stroke-width="0.85"/>
<line x1="449.89" y1="602.43" x2="449.89" y2="604.73" stroke="#000" stroke-width="0.85"/>
<line x1="452.69" y1="602.41" x2="452.69" y2="604.71" stroke="#000" stroke-width="0.85"/>
<line x1="454.86" y1="602.4" x2="454.86" y2="604.7" stroke="#000" stroke-width="0.85"/>
<line x1="456.63" y1="602.38" x2="456.63" y2="604.68" stroke="#000" stroke-width="0.85"/>
<line x1="458.13" y1="602.37" x2="458.13" y2="604.67" stroke="#000" stroke-width="0.85"/>
<line x1="459.43" y1="602.36" x2="459.43" y2="604.66" stroke="#000" stroke-width="0.85"/>
<line x1="460.58" y1="602.36" x2="460.58" y2="604.66" stroke="#000" stroke-width="0.85"/>
<line x1="461.6" y1="602.35" x2="461.6" y2="606.95" stroke="#000" stroke-width="0.85"/>
<line x1="468.34" y1="602.3" x2="468.34" y2="604.6" stroke="#000" stroke-width="0.85"/>
<line x1="472.29" y1="602.28" x2="472.29" y2="604.58" stroke="#000" stroke-width="0.85"/>
<line x1="475.09" y1="602.26" x2="475.09" y2="604.56" stroke="#000" stroke-width="0.85"/>
<line x1="477.26" y1="602.25" x2="477.26" y2="604.55" stroke="#000" stroke-width="0.85"/>
<line x1="479.03" y1="602.23" x2="479.03" y2="604.53" stroke="#000" stroke-width="0.85"/>
<line x1="480.53" y1="602.22" x2="480.53" y2="604.52" stroke="#000" stroke-width="0.85"/>
<line x1="481.83" y1="602.21" x2="481.83" y2="604.51" stroke="#000" stroke-width="0.85"/>
<line x1="482.98" y1="602.21" x2="482.98" y2="604.51" stroke="#000" stroke-width="0.85"/>
<line x1="484" y1="602.2" x2="484" y2="606.8" stroke="#000" stroke-width="0.85"/>
<line x1="389.9" y1="602.8" x2="394.4" y2="602.8" stroke="#000" stroke-width="0.75"/>
<line x1="391.57" y1="599.97" x2="394.37" y2="599.97" stroke="#000" stroke-width="0.75"/>
<line x1="391.53" y1="597.13" x2="394.33" y2="597.13" stroke="#000" stroke-width="0.75"/>
<line x1="391.5" y1="594.3" x2="394.3" y2="594.3" stroke="#000" stroke-width="0.75"/>
<line x1="391.47" y1="591.47" x2="394.27" y2="591.47" stroke="#000" stroke-width="0.75"/>
<line x1="389.73" y1="588.63" x2="394.23" y2="588.63" stroke="#000" stroke-width="0.75"/>
<line x1="391.4" y1="585.8" x2="394.2" y2="585.8" stroke="#000" stroke-width="0.75"/>
<line x1="391.37" y1="582.97" x2="394.17" y2="582.97" stroke="#000" stroke-width="0.75"/>
<line x1="391.33" y1="580.13" x2="394.13" y2="580.13" stroke="#000" stroke-width="0.75"/>
<line x1="391.3" y1="577.3" x2="394.1" y2="577.3" stroke="#000" stroke-width="0.75"/>
<line x1="389.57" y1="574.47" x2="394.07" y2="574.47" stroke="#000" stroke-width="0.75"/>
<line x1="391.23" y1="571.63" x2="394.03" y2="571.63" stroke="#000" stroke-width="0.75"/>
<line x1="391.2" y1="568.8" x2="394" y2="568.8" stroke="#000" stroke-width="0.75"/>
<line x1="391.17" y1="565.97" x2="393.97" y2="565.97" stroke="#000" stroke-width="0.75"/>
<line x1="391.13" y1="563.13" x2="393.93" y2="563.13" stroke="#000" stroke-width="0.75"/>
<line x1="389.4" y1="560.3" x2="393.9" y2="560.3" stroke="#000" stroke-width="0.75"/>
<line x1="391.07" y1="557.47" x2="393.87" y2="557.47" stroke="#000" stroke-width="0.75"/>
<line x1="391.03" y1="554.63" x2="393.83" y2="554.63" stroke="#000" stroke-width="0.75"/>
<line x1="391" y1="551.8" x2="393.8" y2="551.8" stroke="#000" stroke-width="0.75"/>
<line x1="390.97" y1="548.97" x2="393.77" y2="548.97" stroke="#000" stroke-width="0.75"/>
<line x1="389.23" y1="546.13" x2="393.73" y2="546.13" stroke="#000" stroke-width="0.75"/>
<line x1="390.9" y1="543.3" x2="393.7" y2="543.3" stroke="#000" stroke-width="0.75"/>
<line x1="390.87" y1="540.47" x2="393.67" y2="540.47" stroke="#000" stroke-width="0.75"/>
<line x1="390.83" y1="537.63" x2="393.63" y2="537.63" stroke="#000" stroke-width="0.75"/>
<line x1="390.8" y1="534.8" x2="393.6" y2="534.8" stroke="#000" stroke-width="0.75"/>
<line x1="389.07" y1="531.97" x2="393.57" y2="531.97" stroke="#000" stroke-width="0.75"/>
<line x1="390.73" y1="529.13" x2="393.53" y2="529.13" stroke="#000" stroke-width="0.75"/>
<line x1="390.7" y1="526.3" x2="393.5" y2="526.3" stroke="#000" stroke-width="0.75"/>
<line x1="390.67" y1="523.47" x2="393.47" y2="523.47" stroke="#000" stroke-width="0.75"/>
<line x1="390.63" y1="520.63" x2="393.43" y2="520.63" stroke="#000" stroke-width="0.75"/>
<line x1="388.9" y1="517.8" x2="393.4" y2="517.8" stroke="#000" stroke-width="0.75"/>
<path d="M394.06,573.9 L395.56,573.9 L395.9,602.8 L394.4,602.8 Z" fill="#3a3a3a"/>
<path d="M395.36,597.99 L397.25,595.08 L398.83,592.17 L399.5,588.27 L400.76,592.16 L402,585.45 L403.05,588.25 L403.89,582.54 L405.32,583.43 L406.35,575.73 L407.69,568.03 L408.68,565.22 L409.67,572.91 L410.58,563.21 L411.92,565.21 L412.88,560.01 L414.06,566.09 L415.15,572.88 L416.11,567.98 L417.45,569.97 L418.97,579.56 L420.57,587.24 L422.55,592.92 L424.5,595.81 L426.56,598.69 L428.47,597.78 L430.38,595.77 L432.33,598.65 L434.36,598.64 L436.29,599.62 L437.22,601.51 L438.61,598.61 L440.53,598.6 L441.73,596.29 L443.06,598.58 L444.99,598.57 L446.63,601.45 L447.93,598.55 L449.53,596.64 L450.85,597.63 L452.15,594.73 L453.75,592.72 L455.29,594.71 L456.74,598.49 L458.66,598.48 L461.6,598.46 L463.55,602.34" fill="none" stroke="#262626" stroke-width="1.15" stroke-linejoin="round"/>
<text x="16.07" y="195.6" font-size="9" font-weight="bold" textLength="15.85" lengthAdjust="spacingAndGlyphs">250</text>
<text x="15.77" y="229.96" font-size="9" font-weight="bold" textLength="16.15" lengthAdjust="spacingAndGlyphs">150</text>
<text x="21.21" y="264.32" font-size="9" font-weight="bold" textLength="10.7" lengthAdjust="spacingAndGlyphs">50</text>
<text x="15.77" y="305" font-size="9" font-weight="bold" textLength="16.15" lengthAdjust="spacingAndGlyphs">100</text>
<text x="21.16" y="339.08" font-size="9" font-weight="bold" textLength="10.75" lengthAdjust="spacingAndGlyphs">60</text>
<text x="21.16" y="373.16" font-size="9" font-weight="bold" textLength="10.75" lengthAdjust="spacingAndGlyphs">20</text>
<text x="21.26" y="414.2" font-size="9" font-weight="bold" textLength="10.64" lengthAdjust="spacingAndGlyphs">30</text>
<text x="21.16" y="442.53" font-size="9" font-weight="bold" textLength="10.75" lengthAdjust="spacingAndGlyphs">20</text>
<text x="20.85" y="470.87" font-size="9" font-weight="bold" textLength="11.07" lengthAdjust="spacingAndGlyphs">10</text>
<text x="26.08" y="499.2" font-size="9" font-weight="bold" textLength="5.85" lengthAdjust="spacingAndGlyphs">0</text>
<text x="21.26" y="523.3" font-size="9" font-weight="bold" textLength="10.64" lengthAdjust="spacingAndGlyphs">30</text>
<text x="21.16" y="551.77" font-size="9" font-weight="bold" textLength="10.75" lengthAdjust="spacingAndGlyphs">20</text>
<text x="20.85" y="580.23" font-size="9" font-weight="bold" textLength="11.07" lengthAdjust="spacingAndGlyphs">10</text>
<text x="26.08" y="608.7" font-size="9" font-weight="bold" textLength="5.85" lengthAdjust="spacingAndGlyphs">0</text>
<line x1="5.3" y1="278.2" x2="5.3" y2="199.1" stroke="#000" stroke-width="1.6"/>
<path d="M2.55,202.1 L5.3,193.1 L8.05,202.1 Z" fill="#000"/>
<line x1="5.75" y1="387" x2="5.75" y2="308.1" stroke="#000" stroke-width="1.6"/>
<path d="M3,311.1 L5.75,302.1 L8.5,311.1 Z" fill="#000"/>
<line x1="6.2" y1="496" x2="6.2" y2="416" stroke="#000" stroke-width="1.6"/>
<path d="M3.45,419 L6.2,410 L8.95,419 Z" fill="#000"/>
<line x1="6.7" y1="565.3" x2="6.7" y2="526.2" stroke="#000" stroke-width="1.6"/>
<path d="M3.95,529.2 L6.7,520.2 L9.45,529.2 Z" fill="#000"/>
<text x="-0.44" y="0" font-size="13.33" font-weight="bold" textLength="36.42" lengthAdjust="spacingAndGlyphs" transform="translate(10.4,604.7) rotate(-90)">counts</text>
<text x="35.48" y="621.75" font-size="9.14" font-weight="bold" textLength="8.85" lengthAdjust="spacingAndGlyphs">10</text>
<text x="44.38" y="617.65" font-size="6.57" font-weight="bold" textLength="4.45" lengthAdjust="spacingAndGlyphs">0</text>
<text x="57.58" y="621.75" font-size="9.14" font-weight="bold" textLength="8.85" lengthAdjust="spacingAndGlyphs">10</text>
<text x="66.39" y="617.65" font-size="6.57" font-weight="bold" textLength="3.53" lengthAdjust="spacingAndGlyphs">1</text>
<text x="79.68" y="621.75" font-size="9.14" font-weight="bold" textLength="8.85" lengthAdjust="spacingAndGlyphs">10</text>
<text x="88.62" y="617.65" font-size="6.57" font-weight="bold" textLength="4.4" lengthAdjust="spacingAndGlyphs">2</text>
<text x="101.78" y="621.75" font-size="9.14" font-weight="bold" textLength="8.85" lengthAdjust="spacingAndGlyphs">10</text>
<text x="110.81" y="617.65" font-size="6.57" font-weight="bold" textLength="4.27" lengthAdjust="spacingAndGlyphs">3</text>
<text x="123.88" y="621.75" font-size="9.14" font-weight="bold" textLength="8.85" lengthAdjust="spacingAndGlyphs">10</text>
<text x="132.99" y="617.65" font-size="6.57" font-weight="bold" textLength="3.95" lengthAdjust="spacingAndGlyphs">4</text>
<text x="148.58" y="620.65" font-size="9.14" font-weight="bold" textLength="8.85" lengthAdjust="spacingAndGlyphs">10</text>
<text x="157.48" y="616.55" font-size="6.57" font-weight="bold" textLength="4.45" lengthAdjust="spacingAndGlyphs">0</text>
<text x="170.53" y="620.65" font-size="9.14" font-weight="bold" textLength="8.85" lengthAdjust="spacingAndGlyphs">10</text>
<text x="179.34" y="616.55" font-size="6.57" font-weight="bold" textLength="3.53" lengthAdjust="spacingAndGlyphs">1</text>
<text x="192.48" y="620.65" font-size="9.14" font-weight="bold" textLength="8.85" lengthAdjust="spacingAndGlyphs">10</text>
<text x="201.42" y="616.55" font-size="6.57" font-weight="bold" textLength="4.4" lengthAdjust="spacingAndGlyphs">2</text>
<text x="214.43" y="620.65" font-size="9.14" font-weight="bold" textLength="8.85" lengthAdjust="spacingAndGlyphs">10</text>
<text x="223.46" y="616.55" font-size="6.57" font-weight="bold" textLength="4.27" lengthAdjust="spacingAndGlyphs">3</text>
<text x="236.38" y="620.65" font-size="9.14" font-weight="bold" textLength="8.85" lengthAdjust="spacingAndGlyphs">10</text>
<text x="245.49" y="616.55" font-size="6.57" font-weight="bold" textLength="3.95" lengthAdjust="spacingAndGlyphs">4</text>
<text x="278.58" y="619.75" font-size="9.14" font-weight="bold" textLength="8.85" lengthAdjust="spacingAndGlyphs">10</text>
<text x="287.48" y="615.65" font-size="6.57" font-weight="bold" textLength="4.45" lengthAdjust="spacingAndGlyphs">0</text>
<text x="300.63" y="619.75" font-size="9.14" font-weight="bold" textLength="8.85" lengthAdjust="spacingAndGlyphs">10</text>
<text x="309.44" y="615.65" font-size="6.57" font-weight="bold" textLength="3.53" lengthAdjust="spacingAndGlyphs">1</text>
<text x="322.68" y="619.75" font-size="9.14" font-weight="bold" textLength="8.85" lengthAdjust="spacingAndGlyphs">10</text>
<text x="331.62" y="615.65" font-size="6.57" font-weight="bold" textLength="4.4" lengthAdjust="spacingAndGlyphs">2</text>
<text x="344.73" y="619.75" font-size="9.14" font-weight="bold" textLength="8.85" lengthAdjust="spacingAndGlyphs">10</text>
<text x="353.76" y="615.65" font-size="6.57" font-weight="bold" textLength="4.27" lengthAdjust="spacingAndGlyphs">3</text>
<text x="366.78" y="619.75" font-size="9.14" font-weight="bold" textLength="8.85" lengthAdjust="spacingAndGlyphs">10</text>
<text x="375.89" y="615.65" font-size="6.57" font-weight="bold" textLength="3.95" lengthAdjust="spacingAndGlyphs">4</text>
<text x="388.58" y="619.15" font-size="9.14" font-weight="bold" textLength="8.85" lengthAdjust="spacingAndGlyphs">10</text>
<text x="397.48" y="615.05" font-size="6.57" font-weight="bold" textLength="4.45" lengthAdjust="spacingAndGlyphs">0</text>
<text x="410.68" y="619.15" font-size="9.14" font-weight="bold" textLength="8.85" lengthAdjust="spacingAndGlyphs">10</text>
<text x="419.49" y="615.05" font-size="6.57" font-weight="bold" textLength="3.53" lengthAdjust="spacingAndGlyphs">1</text>
<text x="432.78" y="619.15" font-size="9.14" font-weight="bold" textLength="8.85" lengthAdjust="spacingAndGlyphs">10</text>
<text x="441.72" y="615.05" font-size="6.57" font-weight="bold" textLength="4.4" lengthAdjust="spacingAndGlyphs">2</text>
<text x="454.88" y="619.15" font-size="9.14" font-weight="bold" textLength="8.85" lengthAdjust="spacingAndGlyphs">10</text>
<text x="463.91" y="615.05" font-size="6.57" font-weight="bold" textLength="4.27" lengthAdjust="spacingAndGlyphs">3</text>
<text x="476.98" y="619.15" font-size="9.14" font-weight="bold" textLength="8.85" lengthAdjust="spacingAndGlyphs">10</text>
<text x="486.09" y="615.05" font-size="6.57" font-weight="bold" textLength="3.95" lengthAdjust="spacingAndGlyphs">4</text>
<text x="44.96" y="637.9" font-size="9.71" font-weight="bold" textLength="55.88" lengthAdjust="spacingAndGlyphs">anti-CD23,</text>
<text x="105.21" y="637.9" font-size="8.41" font-weight="bold" textLength="20.24" lengthAdjust="spacingAndGlyphs">FITC</text>
<text x="162.26" y="638.1" font-size="9.71" font-weight="bold" textLength="49.11" lengthAdjust="spacingAndGlyphs">anti-CD5,</text>
<text x="215.21" y="638.1" font-size="8.41" font-weight="bold" textLength="20.24" lengthAdjust="spacingAndGlyphs">FITC</text>
<text x="289.25" y="636.4" font-size="9.71" font-weight="bold" textLength="57.31" lengthAdjust="spacingAndGlyphs">anti-CD23,</text>
<text x="349.12" y="636.4" font-size="8.41" font-weight="bold" textLength="19.71" lengthAdjust="spacingAndGlyphs">FITC</text>
<text x="402.26" y="636" font-size="9.14" font-weight="bold" textLength="50.03" lengthAdjust="spacingAndGlyphs">anti-CD5,</text>
<text x="455.21" y="636" font-size="8.41" font-weight="bold" textLength="20.24" lengthAdjust="spacingAndGlyphs">FITC</text>
<text x="-0.55" y="0" font-size="15.29" font-weight="bold" textLength="35.46" lengthAdjust="spacingAndGlyphs" transform="translate(512.2,273.2) rotate(-90)">CD19</text>
<text x="-0.44" y="0" font-size="8.21" font-weight="bold" textLength="6.48" lengthAdjust="spacingAndGlyphs" transform="translate(502.6,241.4) rotate(-90)">+</text>
<text x="-0.46" y="0" font-size="10.76" font-weight="bold" textLength="48.25" lengthAdjust="spacingAndGlyphs" transform="translate(512.2,236.2) rotate(-90)">enriched</text>
<text x="-0.9" y="0" font-size="13.91" font-weight="bold" textLength="23.71" lengthAdjust="spacingAndGlyphs" transform="translate(511.8,381) rotate(-90)">IgM</text>
<text x="-0.43" y="0" font-size="9.57" font-weight="bold" textLength="21.96" lengthAdjust="spacingAndGlyphs" transform="translate(505.6,358.8) rotate(-90)">++/+</text>
<text x="-0.98" y="0" font-size="13.91" font-weight="bold" textLength="24.19" lengthAdjust="spacingAndGlyphs" transform="translate(511.8,335.9) rotate(-90)">IgD</text>
<text x="-0.39" y="0" font-size="9.23" font-weight="bold" textLength="5.67" lengthAdjust="spacingAndGlyphs" transform="translate(505.2,311.5) rotate(-90)">+</text>
<text x="-0.95" y="0" font-size="14.2" font-weight="bold" textLength="59.83" lengthAdjust="spacingAndGlyphs" transform="translate(512.7,479.9) rotate(-90)">IgM-only</text>
<text x="-0.86" y="0" font-size="14.2" font-weight="bold" textLength="22.85" lengthAdjust="spacingAndGlyphs" transform="translate(512.7,589.9) rotate(-90)">IgM</text>
<rect x="501.2" y="565.3" width="1.5" height="2.2" fill="#000"/>
<text x="-0.18" y="0" font-size="14.2" font-weight="bold" textLength="34.58" lengthAdjust="spacingAndGlyphs" transform="translate(512.7,564.7) rotate(-90)">/IgD</text>
<rect x="501.2" y="528.6" width="1.5" height="2.2" fill="#000"/>
<path d="M165 10h2v1h-2zM178 11h1v1h-1zM177 12h1v1h-1zM163 13h2v1h-2zM122 16h1v1h-1zM137 16h1v1h-1zM154 16h1v1h-1zM196 16h1v1h-1zM101 18h1v1h-1zM154 18h1v1h-1zM176 18h1v1h-1zM114 19h1v1h-1zM157 19h1v1h-1zM160 19h1v1h-1zM125 21h1v1h-1zM170 21h1v1h-1zM98 22h1v1h-1zM153 22h1v1h-1zM168 22h1v1h-1zM186 22h1v1h-1zM131 23h1v1h-1zM141 23h1v1h-1zM165 23h1v1h-1zM167 23h1v1h-1zM175 23h1v1h-1zM192 23h1v1h-1zM98 24h1v1h-1zM127 24h1v1h-1zM156 24h1v1h-1zM158 24h1v1h-1zM163 24h1v1h-1zM165 24h1v1h-1zM176 24h1v1h-1zM102 25h1v1h-1zM119 25h2v1h-2zM127 25h1v1h-1zM155 25h1v1h-1zM168 25h1v1h-1zM116 26h1v1h-1zM131 26h1v1h-1zM156 26h1v1h-1zM166 26h2v1h-2zM173 26h1v1h-1zM127 27h1v1h-1zM133 27h2v1h-2zM138 27h2v1h-2zM145 27h1v1h-1zM154 27h1v1h-1zM159 27h2v1h-2zM163 27h2v1h-2zM166 27h1v1h-1zM170 27h1v1h-1zM120 28h1v1h-1zM122 28h1v1h-1zM134 28h3v1h-3zM143 28h1v1h-1zM152 28h1v1h-1zM161 28h1v1h-1zM164 28h2v1h-2zM180 28h1v1h-1zM187 28h1v1h-1zM98 29h1v1h-1zM132 29h1v1h-1zM137 29h2v1h-2zM156 29h1v1h-1zM158 29h1v1h-1zM168 29h1v1h-1zM171 29h1v1h-1zM96 30h1v1h-1zM98 30h1v1h-1zM103 30h1v1h-1zM106 30h1v1h-1zM117 30h1v1h-1zM128 30h1v1h-1zM134 30h2v1h-2zM145 30h1v1h-1zM147 30h1v1h-1zM153 30h1v1h-1zM159 30h1v1h-1zM161 30h1v1h-1zM164 30h3v1h-3zM177 30h1v1h-1zM179 30h1v1h-1zM103 31h1v1h-1zM105 31h1v1h-1zM116 31h1v1h-1zM119 31h1v1h-1zM127 31h1v1h-1zM131 31h1v1h-1zM140 31h1v1h-1zM145 31h2v1h-2zM149 31h2v1h-2zM156 31h1v1h-1zM159 31h2v1h-2zM170 31h1v1h-1zM183 31h1v1h-1zM185 31h2v1h-2zM91 32h1v1h-1zM95 32h1v1h-1zM99 32h1v1h-1zM104 32h1v1h-1zM113 32h2v1h-2zM129 32h1v1h-1zM133 32h1v1h-1zM136 32h1v1h-1zM141 32h1v1h-1zM151 32h1v1h-1zM161 32h2v1h-2zM165 32h2v1h-2zM170 32h1v1h-1zM184 32h1v1h-1zM89 33h1v1h-1zM97 33h1v1h-1zM117 33h1v1h-1zM122 33h1v1h-1zM129 33h1v1h-1zM131 33h2v1h-2zM135 33h1v1h-1zM142 33h1v1h-1zM147 33h2v1h-2zM150 33h1v1h-1zM154 33h1v1h-1zM156 33h1v1h-1zM158 33h1v1h-1zM161 33h1v1h-1zM165 33h1v1h-1zM187 33h1v1h-1zM99 34h1v1h-1zM101 34h1v1h-1zM114 34h1v1h-1zM119 34h1v1h-1zM122 34h3v1h-3zM128 34h1v1h-1zM133 34h1v1h-1zM137 34h1v1h-1zM151 34h2v1h-2zM162 34h2v1h-2zM174 34h1v1h-1zM176 34h1v1h-1zM117 35h1v1h-1zM127 35h1v1h-1zM134 35h1v1h-1zM139 35h1v1h-1zM142 35h1v1h-1zM145 35h1v1h-1zM148 35h1v1h-1zM159 35h2v1h-2zM163 35h3v1h-3zM168 35h1v1h-1zM170 35h2v1h-2zM95 36h1v1h-1zM97 36h1v1h-1zM103 36h1v1h-1zM105 36h1v1h-1zM112 36h1v1h-1zM128 36h1v1h-1zM132 36h2v1h-2zM137 36h2v1h-2zM144 36h3v1h-3zM148 36h1v1h-1zM154 36h2v1h-2zM161 36h3v1h-3zM104 37h1v1h-1zM108 37h1v1h-1zM117 37h1v1h-1zM125 37h2v1h-2zM128 37h1v1h-1zM130 37h2v1h-2zM136 37h1v1h-1zM141 37h1v1h-1zM143 37h3v1h-3zM147 37h3v1h-3zM163 37h2v1h-2zM166 37h1v1h-1zM169 37h1v1h-1zM177 37h1v1h-1zM105 38h1v1h-1zM109 38h2v1h-2zM113 38h1v1h-1zM124 38h1v1h-1zM130 38h1v1h-1zM135 38h1v1h-1zM145 38h1v1h-1zM147 38h1v1h-1zM149 38h1v1h-1zM151 38h1v1h-1zM153 38h1v1h-1zM158 38h1v1h-1zM160 38h2v1h-2zM164 38h2v1h-2zM170 38h1v1h-1zM172 38h1v1h-1zM174 38h1v1h-1zM181 38h3v1h-3zM107 39h1v1h-1zM114 39h1v1h-1zM117 39h1v1h-1zM129 39h1v1h-1zM131 39h1v1h-1zM135 39h3v1h-3zM141 39h2v1h-2zM145 39h1v1h-1zM151 39h1v1h-1zM153 39h3v1h-3zM157 39h1v1h-1zM161 39h1v1h-1zM163 39h1v1h-1zM165 39h1v1h-1zM169 39h1v1h-1zM171 39h2v1h-2zM179 39h1v1h-1zM109 40h1v1h-1zM115 40h1v1h-1zM118 40h1v1h-1zM122 40h1v1h-1zM124 40h1v1h-1zM135 40h1v1h-1zM137 40h2v1h-2zM145 40h1v1h-1zM147 40h2v1h-2zM150 40h1v1h-1zM152 40h2v1h-2zM155 40h3v1h-3zM159 40h2v1h-2zM169 40h1v1h-1zM172 40h1v1h-1zM174 40h1v1h-1zM102 41h1v1h-1zM106 41h1v1h-1zM108 41h1v1h-1zM110 41h1v1h-1zM112 41h1v1h-1zM123 41h1v1h-1zM125 41h1v1h-1zM127 41h1v1h-1zM131 41h1v1h-1zM133 41h3v1h-3zM137 41h1v1h-1zM139 41h3v1h-3zM144 41h7v1h-7zM153 41h1v1h-1zM155 41h3v1h-3zM161 41h7v1h-7zM169 41h2v1h-2zM173 41h1v1h-1zM106 42h1v1h-1zM109 42h1v1h-1zM125 42h1v1h-1zM127 42h3v1h-3zM131 42h1v1h-1zM133 42h1v1h-1zM144 42h1v1h-1zM147 42h1v1h-1zM149 42h1v1h-1zM151 42h1v1h-1zM154 42h6v1h-6zM162 42h1v1h-1zM164 42h1v1h-1zM166 42h1v1h-1zM168 42h1v1h-1zM171 42h1v1h-1zM189 42h1v1h-1zM194 42h1v1h-1zM200 42h1v1h-1zM102 43h1v1h-1zM115 43h1v1h-1zM126 43h2v1h-2zM136 43h1v1h-1zM139 43h1v1h-1zM141 43h1v1h-1zM143 43h1v1h-1zM147 43h1v1h-1zM149 43h1v1h-1zM157 43h1v1h-1zM159 43h1v1h-1zM161 43h1v1h-1zM163 43h1v1h-1zM165 43h1v1h-1zM170 43h1v1h-1zM172 43h1v1h-1zM175 43h1v1h-1zM107 44h1v1h-1zM118 44h1v1h-1zM123 44h1v1h-1zM128 44h1v1h-1zM142 44h1v1h-1zM144 44h1v1h-1zM148 44h4v1h-4zM154 44h3v1h-3zM159 44h1v1h-1zM162 44h2v1h-2zM166 44h2v1h-2zM173 44h2v1h-2zM177 44h1v1h-1zM180 44h2v1h-2zM99 45h1v1h-1zM101 45h1v1h-1zM108 45h1v1h-1zM119 45h1v1h-1zM128 45h1v1h-1zM131 45h2v1h-2zM135 45h1v1h-1zM138 45h1v1h-1zM140 45h1v1h-1zM142 45h1v1h-1zM144 45h2v1h-2zM147 45h1v1h-1zM149 45h5v1h-5zM156 45h10v1h-10zM167 45h2v1h-2zM170 45h1v1h-1zM172 45h4v1h-4zM178 45h2v1h-2zM94 46h1v1h-1zM109 46h1v1h-1zM113 46h1v1h-1zM118 46h1v1h-1zM123 46h1v1h-1zM130 46h1v1h-1zM133 46h1v1h-1zM139 46h1v1h-1zM142 46h5v1h-5zM148 46h1v1h-1zM150 46h2v1h-2zM155 46h2v1h-2zM158 46h2v1h-2zM164 46h2v1h-2zM169 46h2v1h-2zM172 46h1v1h-1zM174 46h1v1h-1zM198 46h1v1h-1zM97 47h1v1h-1zM99 47h2v1h-2zM118 47h1v1h-1zM120 47h1v1h-1zM123 47h1v1h-1zM126 47h1v1h-1zM128 47h1v1h-1zM133 47h5v1h-5zM140 47h1v1h-1zM146 47h2v1h-2zM149 47h3v1h-3zM154 47h3v1h-3zM159 47h2v1h-2zM162 47h3v1h-3zM167 47h2v1h-2zM171 47h2v1h-2zM174 47h1v1h-1zM178 47h1v1h-1zM180 47h1v1h-1zM96 48h1v1h-1zM110 48h1v1h-1zM112 48h1v1h-1zM115 48h1v1h-1zM120 48h1v1h-1zM128 48h1v1h-1zM131 48h1v1h-1zM133 48h2v1h-2zM137 48h2v1h-2zM140 48h5v1h-5zM146 48h4v1h-4zM153 48h5v1h-5zM159 48h1v1h-1zM161 48h3v1h-3zM165 48h3v1h-3zM169 48h2v1h-2zM177 48h1v1h-1zM179 48h1v1h-1zM97 49h1v1h-1zM100 49h2v1h-2zM108 49h1v1h-1zM120 49h2v1h-2zM127 49h1v1h-1zM135 49h1v1h-1zM143 49h1v1h-1zM145 49h2v1h-2zM148 49h2v1h-2zM153 49h1v1h-1zM156 49h3v1h-3zM160 49h2v1h-2zM164 49h2v1h-2zM168 49h6v1h-6zM175 49h1v1h-1zM177 49h1v1h-1zM179 49h1v1h-1zM94 50h1v1h-1zM101 50h1v1h-1zM108 50h1v1h-1zM117 50h1v1h-1zM120 50h1v1h-1zM123 50h2v1h-2zM126 50h1v1h-1zM129 50h1v1h-1zM132 50h3v1h-3zM136 50h3v1h-3zM141 50h2v1h-2zM145 50h4v1h-4zM150 50h5v1h-5zM156 50h1v1h-1zM158 50h9v1h-9zM170 50h4v1h-4zM178 50h1v1h-1zM184 50h1v1h-1zM94 51h1v1h-1zM107 51h1v1h-1zM110 51h1v1h-1zM124 51h1v1h-1zM126 51h1v1h-1zM132 51h1v1h-1zM135 51h1v1h-1zM137 51h5v1h-5zM143 51h16v1h-16zM160 51h1v1h-1zM164 51h1v1h-1zM166 51h2v1h-2zM169 51h1v1h-1zM172 51h2v1h-2zM177 51h1v1h-1zM186 51h1v1h-1zM122 52h2v1h-2zM126 52h1v1h-1zM129 52h1v1h-1zM136 52h2v1h-2zM139 52h1v1h-1zM141 52h2v1h-2zM144 52h14v1h-14zM159 52h2v1h-2zM162 52h6v1h-6zM169 52h2v1h-2zM175 52h2v1h-2zM100 53h1v1h-1zM116 53h1v1h-1zM129 53h2v1h-2zM134 53h1v1h-1zM137 53h8v1h-8zM146 53h10v1h-10zM157 53h11v1h-11zM128 54h1v1h-1zM132 54h3v1h-3zM136 54h1v1h-1zM139 54h2v1h-2zM143 54h2v1h-2zM147 54h1v1h-1zM149 54h7v1h-7zM157 54h1v1h-1zM160 54h8v1h-8zM169 54h2v1h-2zM172 54h1v1h-1zM176 54h1v1h-1zM186 54h1v1h-1zM124 55h1v1h-1zM129 55h1v1h-1zM131 55h2v1h-2zM135 55h1v1h-1zM137 55h1v1h-1zM142 55h1v1h-1zM144 55h1v1h-1zM146 55h4v1h-4zM152 55h3v1h-3zM156 55h2v1h-2zM160 55h1v1h-1zM163 55h2v1h-2zM166 55h1v1h-1zM168 55h3v1h-3zM173 55h1v1h-1zM178 55h1v1h-1zM182 55h1v1h-1zM120 56h1v1h-1zM129 56h2v1h-2zM136 56h1v1h-1zM138 56h14v1h-14zM153 56h5v1h-5zM159 56h7v1h-7zM167 56h1v1h-1zM171 56h3v1h-3zM189 56h1v1h-1zM102 57h1v1h-1zM104 57h1v1h-1zM121 57h3v1h-3zM127 57h3v1h-3zM132 57h1v1h-1zM134 57h1v1h-1zM136 57h1v1h-1zM138 57h19v1h-19zM160 57h1v1h-1zM163 57h4v1h-4zM168 57h2v1h-2zM171 57h3v1h-3zM176 57h1v1h-1zM179 57h1v1h-1zM183 57h1v1h-1zM117 58h1v1h-1zM121 58h1v1h-1zM125 58h1v1h-1zM128 58h1v1h-1zM132 58h1v1h-1zM135 58h1v1h-1zM139 58h1v1h-1zM145 58h1v1h-1zM147 58h9v1h-9zM157 58h3v1h-3zM161 58h8v1h-8zM170 58h1v1h-1zM172 58h1v1h-1zM174 58h1v1h-1zM120 59h1v1h-1zM124 59h1v1h-1zM132 59h2v1h-2zM136 59h1v1h-1zM138 59h22v1h-22zM163 59h1v1h-1zM166 59h4v1h-4zM173 59h1v1h-1zM175 59h1v1h-1zM189 59h1v1h-1zM118 60h1v1h-1zM120 60h1v1h-1zM124 60h1v1h-1zM126 60h5v1h-5zM132 60h1v1h-1zM134 60h1v1h-1zM137 60h1v1h-1zM139 60h4v1h-4zM144 60h1v1h-1zM146 60h1v1h-1zM148 60h12v1h-12zM161 60h2v1h-2zM164 60h3v1h-3zM168 60h2v1h-2zM171 60h1v1h-1zM174 60h1v1h-1zM109 61h1v1h-1zM112 61h1v1h-1zM120 61h1v1h-1zM125 61h1v1h-1zM128 61h3v1h-3zM132 61h8v1h-8zM141 61h5v1h-5zM147 61h2v1h-2zM150 61h10v1h-10zM161 61h3v1h-3zM165 61h1v1h-1zM168 61h3v1h-3zM174 61h2v1h-2zM177 61h1v1h-1zM179 61h1v1h-1zM181 61h1v1h-1zM120 62h1v1h-1zM129 62h1v1h-1zM134 62h5v1h-5zM140 62h1v1h-1zM142 62h9v1h-9zM152 62h8v1h-8zM161 62h2v1h-2zM165 62h2v1h-2zM175 62h1v1h-1zM182 62h1v1h-1zM188 62h1v1h-1zM106 63h1v1h-1zM112 63h1v1h-1zM116 63h1v1h-1zM118 63h1v1h-1zM125 63h1v1h-1zM130 63h1v1h-1zM134 63h1v1h-1zM136 63h2v1h-2zM140 63h23v1h-23zM164 63h2v1h-2zM178 63h1v1h-1zM184 63h1v1h-1zM126 64h1v1h-1zM132 64h1v1h-1zM136 64h22v1h-22zM159 64h1v1h-1zM163 64h6v1h-6zM117 65h1v1h-1zM123 65h1v1h-1zM126 65h3v1h-3zM130 65h1v1h-1zM132 65h2v1h-2zM135 65h2v1h-2zM138 65h4v1h-4zM144 65h2v1h-2zM147 65h11v1h-11zM159 65h3v1h-3zM163 65h1v1h-1zM166 65h4v1h-4zM172 65h1v1h-1zM119 66h1v1h-1zM121 66h1v1h-1zM127 66h2v1h-2zM131 66h1v1h-1zM133 66h3v1h-3zM138 66h3v1h-3zM142 66h13v1h-13zM156 66h5v1h-5zM162 66h2v1h-2zM165 66h1v1h-1zM171 66h2v1h-2zM114 67h1v1h-1zM117 67h1v1h-1zM123 67h1v1h-1zM125 67h1v1h-1zM127 67h1v1h-1zM131 67h1v1h-1zM135 67h5v1h-5zM141 67h3v1h-3zM145 67h5v1h-5zM151 67h5v1h-5zM157 67h7v1h-7zM166 67h2v1h-2zM169 67h2v1h-2zM117 68h1v1h-1zM125 68h1v1h-1zM127 68h2v1h-2zM132 68h1v1h-1zM135 68h3v1h-3zM139 68h12v1h-12zM152 68h4v1h-4zM158 68h1v1h-1zM161 68h3v1h-3zM165 68h2v1h-2zM168 68h1v1h-1zM170 68h1v1h-1zM172 68h2v1h-2zM184 68h1v1h-1zM121 69h1v1h-1zM124 69h1v1h-1zM129 69h1v1h-1zM131 69h3v1h-3zM135 69h1v1h-1zM137 69h2v1h-2zM140 69h7v1h-7zM148 69h13v1h-13zM165 69h3v1h-3zM169 69h3v1h-3zM119 70h1v1h-1zM121 70h1v1h-1zM123 70h1v1h-1zM127 70h1v1h-1zM130 70h5v1h-5zM136 70h5v1h-5zM142 70h1v1h-1zM146 70h2v1h-2zM149 70h2v1h-2zM153 70h1v1h-1zM155 70h4v1h-4zM160 70h1v1h-1zM172 70h1v1h-1zM107 71h1v1h-1zM119 71h2v1h-2zM128 71h1v1h-1zM131 71h2v1h-2zM135 71h2v1h-2zM138 71h2v1h-2zM141 71h8v1h-8zM150 71h1v1h-1zM153 71h6v1h-6zM162 71h3v1h-3zM167 71h1v1h-1zM183 71h1v1h-1zM102 72h1v1h-1zM118 72h1v1h-1zM127 72h1v1h-1zM131 72h3v1h-3zM135 72h10v1h-10zM146 72h2v1h-2zM149 72h1v1h-1zM151 72h1v1h-1zM153 72h1v1h-1zM155 72h1v1h-1zM159 72h1v1h-1zM161 72h3v1h-3zM165 72h1v1h-1zM167 72h1v1h-1zM169 72h1v1h-1zM175 72h1v1h-1zM117 73h1v1h-1zM124 73h1v1h-1zM128 73h16v1h-16zM145 73h2v1h-2zM148 73h5v1h-5zM154 73h2v1h-2zM160 73h4v1h-4zM166 73h1v1h-1zM114 74h1v1h-1zM121 74h1v1h-1zM123 74h1v1h-1zM126 74h2v1h-2zM130 74h2v1h-2zM133 74h11v1h-11zM145 74h3v1h-3zM149 74h1v1h-1zM151 74h1v1h-1zM153 74h2v1h-2zM156 74h2v1h-2zM160 74h1v1h-1zM102 75h1v1h-1zM105 75h1v1h-1zM109 75h1v1h-1zM119 75h1v1h-1zM126 75h2v1h-2zM130 75h5v1h-5zM136 75h1v1h-1zM138 75h1v1h-1zM140 75h4v1h-4zM145 75h2v1h-2zM148 75h3v1h-3zM152 75h1v1h-1zM154 75h1v1h-1zM157 75h1v1h-1zM159 75h1v1h-1zM162 75h2v1h-2zM166 75h1v1h-1zM169 75h2v1h-2zM116 76h1v1h-1zM120 76h2v1h-2zM124 76h2v1h-2zM127 76h5v1h-5zM134 76h1v1h-1zM136 76h5v1h-5zM142 76h2v1h-2zM145 76h4v1h-4zM150 76h2v1h-2zM153 76h2v1h-2zM156 76h3v1h-3zM160 76h4v1h-4zM165 76h1v1h-1zM181 76h1v1h-1zM121 77h2v1h-2zM124 77h3v1h-3zM128 77h5v1h-5zM134 77h1v1h-1zM136 77h11v1h-11zM152 77h1v1h-1zM156 77h4v1h-4zM162 77h1v1h-1zM167 77h1v1h-1zM170 77h1v1h-1zM114 78h2v1h-2zM120 78h1v1h-1zM122 78h2v1h-2zM128 78h1v1h-1zM132 78h2v1h-2zM135 78h5v1h-5zM141 78h1v1h-1zM143 78h5v1h-5zM149 78h8v1h-8zM162 78h1v1h-1zM180 78h1v1h-1zM117 79h1v1h-1zM121 79h1v1h-1zM124 79h1v1h-1zM128 79h1v1h-1zM134 79h5v1h-5zM140 79h2v1h-2zM143 79h2v1h-2zM146 79h3v1h-3zM155 79h1v1h-1zM159 79h1v1h-1zM162 79h1v1h-1zM165 79h3v1h-3zM172 79h1v1h-1zM119 80h6v1h-6zM127 80h1v1h-1zM129 80h1v1h-1zM132 80h1v1h-1zM134 80h1v1h-1zM136 80h2v1h-2zM142 80h6v1h-6zM149 80h2v1h-2zM152 80h2v1h-2zM156 80h4v1h-4zM161 80h1v1h-1zM164 80h1v1h-1zM166 80h1v1h-1zM109 81h1v1h-1zM114 81h1v1h-1zM119 81h2v1h-2zM122 81h1v1h-1zM125 81h1v1h-1zM127 81h10v1h-10zM138 81h4v1h-4zM143 81h4v1h-4zM150 81h1v1h-1zM153 81h3v1h-3zM159 81h1v1h-1zM161 81h1v1h-1zM164 81h1v1h-1zM170 81h2v1h-2zM109 82h1v1h-1zM122 82h1v1h-1zM124 82h2v1h-2zM127 82h5v1h-5zM134 82h1v1h-1zM136 82h1v1h-1zM138 82h3v1h-3zM142 82h2v1h-2zM145 82h4v1h-4zM150 82h1v1h-1zM153 82h2v1h-2zM156 82h2v1h-2zM159 82h2v1h-2zM162 82h3v1h-3zM166 82h1v1h-1zM169 82h1v1h-1zM119 83h2v1h-2zM123 83h1v1h-1zM126 83h4v1h-4zM132 83h3v1h-3zM136 83h9v1h-9zM148 83h1v1h-1zM150 83h2v1h-2zM155 83h1v1h-1zM157 83h2v1h-2zM160 83h2v1h-2zM163 83h1v1h-1zM178 83h1v1h-1zM104 84h1v1h-1zM106 84h1v1h-1zM119 84h2v1h-2zM122 84h2v1h-2zM125 84h2v1h-2zM129 84h3v1h-3zM134 84h2v1h-2zM138 84h9v1h-9zM149 84h1v1h-1zM155 84h1v1h-1zM159 84h2v1h-2zM167 84h2v1h-2zM171 84h2v1h-2zM185 84h2v1h-2zM101 85h1v1h-1zM116 85h2v1h-2zM123 85h1v1h-1zM125 85h1v1h-1zM127 85h1v1h-1zM129 85h4v1h-4zM134 85h2v1h-2zM137 85h1v1h-1zM139 85h2v1h-2zM142 85h3v1h-3zM146 85h2v1h-2zM150 85h1v1h-1zM154 85h2v1h-2zM158 85h1v1h-1zM160 85h2v1h-2zM165 85h1v1h-1zM170 85h1v1h-1zM172 85h1v1h-1zM110 86h1v1h-1zM118 86h1v1h-1zM120 86h2v1h-2zM125 86h1v1h-1zM128 86h1v1h-1zM131 86h1v1h-1zM133 86h1v1h-1zM135 86h5v1h-5zM141 86h1v1h-1zM144 86h1v1h-1zM146 86h1v1h-1zM149 86h1v1h-1zM151 86h1v1h-1zM153 86h1v1h-1zM156 86h4v1h-4zM162 86h1v1h-1zM172 86h1v1h-1zM108 87h1v1h-1zM112 87h1v1h-1zM115 87h1v1h-1zM118 87h3v1h-3zM124 87h2v1h-2zM127 87h1v1h-1zM130 87h1v1h-1zM132 87h5v1h-5zM139 87h1v1h-1zM141 87h1v1h-1zM143 87h2v1h-2zM147 87h1v1h-1zM150 87h1v1h-1zM153 87h3v1h-3zM159 87h1v1h-1zM162 87h2v1h-2zM165 87h1v1h-1zM169 87h1v1h-1zM171 87h1v1h-1zM206 87h1v1h-1zM106 88h1v1h-1zM110 88h1v1h-1zM112 88h1v1h-1zM116 88h1v1h-1zM121 88h2v1h-2zM125 88h3v1h-3zM130 88h1v1h-1zM133 88h3v1h-3zM137 88h1v1h-1zM139 88h3v1h-3zM147 88h3v1h-3zM152 88h1v1h-1zM154 88h1v1h-1zM157 88h1v1h-1zM165 88h1v1h-1zM167 88h1v1h-1zM172 88h1v1h-1zM113 89h1v1h-1zM115 89h1v1h-1zM120 89h3v1h-3zM124 89h5v1h-5zM130 89h5v1h-5zM136 89h1v1h-1zM138 89h1v1h-1zM140 89h1v1h-1zM163 89h1v1h-1zM95 90h1v1h-1zM114 90h1v1h-1zM117 90h2v1h-2zM120 90h1v1h-1zM124 90h1v1h-1zM126 90h4v1h-4zM131 90h2v1h-2zM134 90h1v1h-1zM137 90h1v1h-1zM139 90h2v1h-2zM142 90h3v1h-3zM151 90h1v1h-1zM155 90h1v1h-1zM158 90h2v1h-2zM165 90h1v1h-1zM102 91h1v1h-1zM107 91h1v1h-1zM115 91h1v1h-1zM117 91h2v1h-2zM120 91h2v1h-2zM123 91h5v1h-5zM129 91h1v1h-1zM131 91h1v1h-1zM133 91h1v1h-1zM136 91h1v1h-1zM138 91h1v1h-1zM140 91h2v1h-2zM147 91h1v1h-1zM151 91h1v1h-1zM168 91h1v1h-1zM104 92h1v1h-1zM106 92h1v1h-1zM109 92h1v1h-1zM112 92h1v1h-1zM114 92h1v1h-1zM117 92h3v1h-3zM121 92h1v1h-1zM127 92h1v1h-1zM129 92h1v1h-1zM131 92h4v1h-4zM136 92h1v1h-1zM139 92h1v1h-1zM142 92h2v1h-2zM148 92h1v1h-1zM157 92h1v1h-1zM159 92h1v1h-1zM110 93h1v1h-1zM112 93h2v1h-2zM115 93h2v1h-2zM118 93h2v1h-2zM123 93h1v1h-1zM125 93h1v1h-1zM127 93h2v1h-2zM130 93h3v1h-3zM140 93h1v1h-1zM142 93h1v1h-1zM169 93h2v1h-2zM108 94h1v1h-1zM111 94h1v1h-1zM113 94h1v1h-1zM115 94h1v1h-1zM117 94h2v1h-2zM121 94h1v1h-1zM123 94h3v1h-3zM127 94h3v1h-3zM132 94h1v1h-1zM136 94h1v1h-1zM138 94h1v1h-1zM149 94h2v1h-2zM154 94h1v1h-1zM104 95h1v1h-1zM110 95h1v1h-1zM114 95h2v1h-2zM117 95h4v1h-4zM122 95h3v1h-3zM126 95h3v1h-3zM130 95h3v1h-3zM134 95h1v1h-1zM136 95h1v1h-1zM138 95h2v1h-2zM141 95h1v1h-1zM143 95h1v1h-1zM153 95h1v1h-1zM160 95h1v1h-1zM104 96h1v1h-1zM106 96h1v1h-1zM108 96h1v1h-1zM110 96h1v1h-1zM113 96h3v1h-3zM117 96h1v1h-1zM119 96h3v1h-3zM131 96h1v1h-1zM133 96h1v1h-1zM137 96h1v1h-1zM143 96h1v1h-1zM187 96h1v1h-1zM189 96h1v1h-1zM106 97h1v1h-1zM110 97h1v1h-1zM114 97h1v1h-1zM117 97h1v1h-1zM120 97h1v1h-1zM122 97h3v1h-3zM132 97h2v1h-2zM137 97h1v1h-1zM147 97h1v1h-1zM104 98h1v1h-1zM114 98h2v1h-2zM118 98h2v1h-2zM123 98h2v1h-2zM128 98h1v1h-1zM134 98h1v1h-1zM138 98h1v1h-1zM140 98h1v1h-1zM108 99h1v1h-1zM111 99h1v1h-1zM113 99h1v1h-1zM115 99h1v1h-1zM119 99h3v1h-3zM123 99h1v1h-1zM127 99h1v1h-1zM130 99h1v1h-1zM138 99h1v1h-1zM145 99h1v1h-1zM109 100h2v1h-2zM113 100h2v1h-2zM116 100h2v1h-2zM121 100h5v1h-5zM127 100h2v1h-2zM134 100h1v1h-1zM112 101h1v1h-1zM115 101h2v1h-2zM119 101h1v1h-1zM130 101h1v1h-1zM148 101h1v1h-1zM97 102h1v1h-1zM105 102h1v1h-1zM108 102h1v1h-1zM115 102h1v1h-1zM117 102h2v1h-2zM121 102h1v1h-1zM123 102h1v1h-1zM130 102h1v1h-1zM104 103h1v1h-1zM109 103h3v1h-3zM113 103h2v1h-2zM116 103h1v1h-1zM118 103h1v1h-1zM121 103h1v1h-1zM138 103h1v1h-1zM153 103h1v1h-1zM165 103h1v1h-1zM102 104h1v1h-1zM106 104h1v1h-1zM111 104h1v1h-1zM115 104h2v1h-2zM123 104h2v1h-2zM111 105h2v1h-2zM114 105h1v1h-1zM116 105h1v1h-1zM118 105h1v1h-1zM121 105h2v1h-2zM124 105h1v1h-1zM129 105h1v1h-1zM137 105h1v1h-1zM103 106h1v1h-1zM112 107h1v1h-1zM121 107h2v1h-2zM99 108h1v1h-1zM108 108h1v1h-1zM114 108h3v1h-3zM119 108h1v1h-1zM126 108h1v1h-1zM108 109h1v1h-1zM113 109h1v1h-1zM112 110h1v1h-1zM122 110h1v1h-1zM128 110h1v1h-1zM131 110h1v1h-1zM104 111h1v1h-1zM110 111h1v1h-1zM97 112h1v1h-1zM121 113h1v1h-1zM144 113h1v1h-1zM161 113h1v1h-1zM98 115h1v1h-1zM111 115h1v1h-1zM124 115h1v1h-1zM93 118h1v1h-1zM148 118h1v1h-1zM132 122h1v1h-1z" fill="#000" fill-opacity="0.9"/>
<path d="M87.1,6.9 L209.9,6.5 L210.15,127.6 L87.75,128 Z" fill="none" stroke="#1c1c1c" stroke-width="1.3"/>
<rect x="90.5" y="22.2" width="33.8" height="36" fill="none" stroke="#000" stroke-width="1.4"/>
<rect x="97.4" y="87" width="30.7" height="30.2" fill="none" stroke="#000" stroke-width="1.4"/>
<rect x="155.6" y="25.2" width="24.4" height="66.8" fill="none" stroke="#000" stroke-width="1.4"/>
<line x1="87.75" y1="128" x2="87.75" y2="132.5" stroke="#000" stroke-width="0.85"/>
<line x1="83.25" y1="128" x2="87.75" y2="128" stroke="#000" stroke-width="0.85"/>
<line x1="96.96" y1="127.97" x2="96.96" y2="130.57" stroke="#000" stroke-width="0.85"/>
<line x1="85.1" y1="118.89" x2="87.7" y2="118.89" stroke="#000" stroke-width="0.85"/>
<line x1="102.35" y1="127.95" x2="102.35" y2="130.55" stroke="#000" stroke-width="0.85"/>
<line x1="85.07" y1="113.56" x2="87.67" y2="113.56" stroke="#000" stroke-width="0.85"/>
<line x1="106.17" y1="127.94" x2="106.17" y2="130.54" stroke="#000" stroke-width="0.85"/>
<line x1="85.05" y1="109.77" x2="87.65" y2="109.77" stroke="#000" stroke-width="0.85"/>
<line x1="109.14" y1="127.93" x2="109.14" y2="130.53" stroke="#000" stroke-width="0.85"/>
<line x1="85.04" y1="106.84" x2="87.64" y2="106.84" stroke="#000" stroke-width="0.85"/>
<line x1="111.56" y1="127.92" x2="111.56" y2="130.52" stroke="#000" stroke-width="0.85"/>
<line x1="85.02" y1="104.44" x2="87.62" y2="104.44" stroke="#000" stroke-width="0.85"/>
<line x1="113.61" y1="127.92" x2="113.61" y2="130.52" stroke="#000" stroke-width="0.85"/>
<line x1="85.01" y1="102.41" x2="87.61" y2="102.41" stroke="#000" stroke-width="0.85"/>
<line x1="115.38" y1="127.91" x2="115.38" y2="130.51" stroke="#000" stroke-width="0.85"/>
<line x1="85" y1="100.66" x2="87.6" y2="100.66" stroke="#000" stroke-width="0.85"/>
<line x1="116.95" y1="127.9" x2="116.95" y2="130.5" stroke="#000" stroke-width="0.85"/>
<line x1="84.99" y1="99.11" x2="87.59" y2="99.11" stroke="#000" stroke-width="0.85"/>
<line x1="118.35" y1="127.9" x2="118.35" y2="132.4" stroke="#000" stroke-width="0.85"/>
<line x1="83.09" y1="97.72" x2="87.59" y2="97.72" stroke="#000" stroke-width="0.85"/>
<line x1="127.56" y1="127.87" x2="127.56" y2="130.47" stroke="#000" stroke-width="0.85"/>
<line x1="84.94" y1="88.61" x2="87.54" y2="88.61" stroke="#000" stroke-width="0.85"/>
<line x1="132.95" y1="127.85" x2="132.95" y2="130.45" stroke="#000" stroke-width="0.85"/>
<line x1="84.91" y1="83.28" x2="87.51" y2="83.28" stroke="#000" stroke-width="0.85"/>
<line x1="136.77" y1="127.84" x2="136.77" y2="130.44" stroke="#000" stroke-width="0.85"/>
<line x1="84.89" y1="79.5" x2="87.49" y2="79.5" stroke="#000" stroke-width="0.85"/>
<line x1="139.74" y1="127.83" x2="139.74" y2="130.43" stroke="#000" stroke-width="0.85"/>
<line x1="84.87" y1="76.56" x2="87.47" y2="76.56" stroke="#000" stroke-width="0.85"/>
<line x1="142.16" y1="127.82" x2="142.16" y2="130.42" stroke="#000" stroke-width="0.85"/>
<line x1="84.86" y1="74.17" x2="87.46" y2="74.17" stroke="#000" stroke-width="0.85"/>
<line x1="144.21" y1="127.82" x2="144.21" y2="130.42" stroke="#000" stroke-width="0.85"/>
<line x1="84.85" y1="72.14" x2="87.45" y2="72.14" stroke="#000" stroke-width="0.85"/>
<line x1="145.98" y1="127.81" x2="145.98" y2="130.41" stroke="#000" stroke-width="0.85"/>
<line x1="84.84" y1="70.38" x2="87.44" y2="70.38" stroke="#000" stroke-width="0.85"/>
<line x1="147.55" y1="127.8" x2="147.55" y2="130.4" stroke="#000" stroke-width="0.85"/>
<line x1="84.83" y1="68.84" x2="87.43" y2="68.84" stroke="#000" stroke-width="0.85"/>
<line x1="148.95" y1="127.8" x2="148.95" y2="132.3" stroke="#000" stroke-width="0.85"/>
<line x1="82.92" y1="67.45" x2="87.42" y2="67.45" stroke="#000" stroke-width="0.85"/>
<line x1="158.16" y1="127.77" x2="158.16" y2="130.37" stroke="#000" stroke-width="0.85"/>
<line x1="84.78" y1="58.34" x2="87.38" y2="58.34" stroke="#000" stroke-width="0.85"/>
<line x1="163.55" y1="127.75" x2="163.55" y2="130.35" stroke="#000" stroke-width="0.85"/>
<line x1="84.75" y1="53.01" x2="87.35" y2="53.01" stroke="#000" stroke-width="0.85"/>
<line x1="167.37" y1="127.74" x2="167.37" y2="130.34" stroke="#000" stroke-width="0.85"/>
<line x1="84.73" y1="49.22" x2="87.33" y2="49.22" stroke="#000" stroke-width="0.85"/>
<line x1="170.34" y1="127.73" x2="170.34" y2="130.33" stroke="#000" stroke-width="0.85"/>
<line x1="84.71" y1="46.29" x2="87.31" y2="46.29" stroke="#000" stroke-width="0.85"/>
<line x1="172.76" y1="127.72" x2="172.76" y2="130.32" stroke="#000" stroke-width="0.85"/>
<line x1="84.7" y1="43.89" x2="87.3" y2="43.89" stroke="#000" stroke-width="0.85"/>
<line x1="174.81" y1="127.72" x2="174.81" y2="130.32" stroke="#000" stroke-width="0.85"/>
<line x1="84.69" y1="41.86" x2="87.29" y2="41.86" stroke="#000" stroke-width="0.85"/>
<line x1="176.58" y1="127.71" x2="176.58" y2="130.31" stroke="#000" stroke-width="0.85"/>
<line x1="84.68" y1="40.11" x2="87.28" y2="40.11" stroke="#000" stroke-width="0.85"/>
<line x1="178.15" y1="127.7" x2="178.15" y2="130.3" stroke="#000" stroke-width="0.85"/>
<line x1="84.67" y1="38.56" x2="87.27" y2="38.56" stroke="#000" stroke-width="0.85"/>
<line x1="179.55" y1="127.7" x2="179.55" y2="132.2" stroke="#000" stroke-width="0.85"/>
<line x1="82.76" y1="37.17" x2="87.26" y2="37.17" stroke="#000" stroke-width="0.85"/>
<line x1="188.76" y1="127.67" x2="188.76" y2="130.27" stroke="#000" stroke-width="0.85"/>
<line x1="84.61" y1="28.06" x2="87.21" y2="28.06" stroke="#000" stroke-width="0.85"/>
<line x1="194.15" y1="127.65" x2="194.15" y2="130.25" stroke="#000" stroke-width="0.85"/>
<line x1="84.58" y1="22.73" x2="87.18" y2="22.73" stroke="#000" stroke-width="0.85"/>
<line x1="197.97" y1="127.64" x2="197.97" y2="130.24" stroke="#000" stroke-width="0.85"/>
<line x1="84.56" y1="18.95" x2="87.16" y2="18.95" stroke="#000" stroke-width="0.85"/>
<line x1="200.94" y1="127.63" x2="200.94" y2="130.23" stroke="#000" stroke-width="0.85"/>
<line x1="84.55" y1="16.01" x2="87.15" y2="16.01" stroke="#000" stroke-width="0.85"/>
<line x1="203.36" y1="127.62" x2="203.36" y2="130.22" stroke="#000" stroke-width="0.85"/>
<line x1="84.54" y1="13.62" x2="87.14" y2="13.62" stroke="#000" stroke-width="0.85"/>
<line x1="205.41" y1="127.62" x2="205.41" y2="130.22" stroke="#000" stroke-width="0.85"/>
<line x1="84.53" y1="11.59" x2="87.13" y2="11.59" stroke="#000" stroke-width="0.85"/>
<line x1="207.18" y1="127.61" x2="207.18" y2="130.21" stroke="#000" stroke-width="0.85"/>
<line x1="84.52" y1="9.83" x2="87.12" y2="9.83" stroke="#000" stroke-width="0.85"/>
<line x1="208.75" y1="127.6" x2="208.75" y2="130.2" stroke="#000" stroke-width="0.85"/>
<line x1="84.51" y1="8.29" x2="87.11" y2="8.29" stroke="#000" stroke-width="0.85"/>
<line x1="210.15" y1="127.6" x2="210.15" y2="132.1" stroke="#000" stroke-width="0.85"/>
<line x1="82.6" y1="6.9" x2="87.1" y2="6.9" stroke="#000" stroke-width="0.85"/>
<text x="81.74" y="145.15" font-size="9.29" font-weight="bold" textLength="9.52" lengthAdjust="spacingAndGlyphs">10</text>
<text x="91.28" y="140.85" font-size="6.86" font-weight="bold" textLength="4.45" lengthAdjust="spacingAndGlyphs">0</text>
<text x="111.94" y="145.15" font-size="9.29" font-weight="bold" textLength="9.52" lengthAdjust="spacingAndGlyphs">10</text>
<text x="121.39" y="140.85" font-size="6.86" font-weight="bold" textLength="3.53" lengthAdjust="spacingAndGlyphs">1</text>
<text x="142.14" y="145.15" font-size="9.29" font-weight="bold" textLength="9.52" lengthAdjust="spacingAndGlyphs">10</text>
<text x="151.72" y="140.85" font-size="6.86" font-weight="bold" textLength="4.4" lengthAdjust="spacingAndGlyphs">2</text>
<text x="172.34" y="145.15" font-size="9.29" font-weight="bold" textLength="9.52" lengthAdjust="spacingAndGlyphs">10</text>
<text x="182.01" y="140.85" font-size="6.86" font-weight="bold" textLength="4.27" lengthAdjust="spacingAndGlyphs">3</text>
<text x="202.54" y="145.15" font-size="9.29" font-weight="bold" textLength="9.52" lengthAdjust="spacingAndGlyphs">10</text>
<text x="212.29" y="140.85" font-size="6.86" font-weight="bold" textLength="3.95" lengthAdjust="spacingAndGlyphs">4</text>
<text x="65.39" y="131.05" font-size="9.29" font-weight="bold" textLength="9.63" lengthAdjust="spacingAndGlyphs">10</text>
<text x="75.03" y="126.75" font-size="6.86" font-weight="bold" textLength="4.45" lengthAdjust="spacingAndGlyphs">0</text>
<text x="65.39" y="101.15" font-size="9.29" font-weight="bold" textLength="9.63" lengthAdjust="spacingAndGlyphs">10</text>
<text x="74.94" y="96.85" font-size="6.86" font-weight="bold" textLength="3.53" lengthAdjust="spacingAndGlyphs">1</text>
<text x="65.39" y="71.05" font-size="9.29" font-weight="bold" textLength="9.63" lengthAdjust="spacingAndGlyphs">10</text>
<text x="75.07" y="66.75" font-size="6.86" font-weight="bold" textLength="4.4" lengthAdjust="spacingAndGlyphs">2</text>
<text x="65.39" y="41.25" font-size="9.29" font-weight="bold" textLength="9.63" lengthAdjust="spacingAndGlyphs">10</text>
<text x="75.16" y="36.95" font-size="6.86" font-weight="bold" textLength="4.27" lengthAdjust="spacingAndGlyphs">3</text>
<text x="65.39" y="12.65" font-size="9.29" font-weight="bold" textLength="9.63" lengthAdjust="spacingAndGlyphs">10</text>
<text x="75.24" y="8.35" font-size="6.86" font-weight="bold" textLength="3.95" lengthAdjust="spacingAndGlyphs">4</text>
<path d="M421 8h1v1h-1zM389 9h1v1h-1zM347 12h1v1h-1zM398 12h1v1h-1zM406 13h1v1h-1zM406 15h1v1h-1zM448 17h1v1h-1zM399 18h1v1h-1zM394 21h1v1h-1zM396 22h1v1h-1zM337 23h1v1h-1zM339 23h2v1h-2zM349 23h1v1h-1zM398 23h1v1h-1zM401 23h1v1h-1zM347 24h2v1h-2zM351 24h1v1h-1zM360 24h1v1h-1zM367 24h1v1h-1zM379 24h1v1h-1zM385 24h1v1h-1zM397 24h1v1h-1zM404 24h1v1h-1zM406 24h1v1h-1zM338 25h1v1h-1zM345 25h1v1h-1zM353 25h1v1h-1zM355 25h1v1h-1zM359 25h1v1h-1zM361 25h2v1h-2zM403 25h1v1h-1zM359 26h1v1h-1zM362 26h2v1h-2zM386 26h1v1h-1zM395 26h1v1h-1zM400 26h1v1h-1zM407 26h1v1h-1zM351 27h1v1h-1zM361 27h1v1h-1zM368 27h1v1h-1zM388 27h1v1h-1zM396 27h1v1h-1zM422 27h1v1h-1zM357 28h1v1h-1zM361 28h2v1h-2zM387 28h1v1h-1zM406 28h1v1h-1zM410 28h1v1h-1zM349 29h1v1h-1zM352 29h1v1h-1zM396 29h1v1h-1zM399 29h1v1h-1zM418 29h1v1h-1zM344 30h1v1h-1zM349 30h1v1h-1zM354 30h1v1h-1zM362 30h1v1h-1zM412 30h1v1h-1zM416 30h1v1h-1zM350 31h1v1h-1zM358 31h1v1h-1zM360 31h2v1h-2zM382 31h2v1h-2zM385 31h1v1h-1zM400 31h1v1h-1zM339 32h1v1h-1zM344 32h1v1h-1zM353 32h1v1h-1zM356 32h1v1h-1zM358 32h1v1h-1zM363 32h1v1h-1zM374 32h1v1h-1zM383 32h1v1h-1zM392 32h1v1h-1zM394 32h2v1h-2zM397 32h1v1h-1zM409 32h2v1h-2zM348 33h1v1h-1zM351 33h1v1h-1zM353 33h1v1h-1zM359 33h2v1h-2zM365 33h1v1h-1zM367 33h1v1h-1zM379 33h1v1h-1zM391 33h1v1h-1zM395 33h1v1h-1zM403 33h1v1h-1zM406 33h1v1h-1zM409 33h1v1h-1zM337 34h1v1h-1zM350 34h2v1h-2zM354 34h1v1h-1zM356 34h1v1h-1zM364 34h1v1h-1zM393 34h3v1h-3zM397 34h1v1h-1zM399 34h1v1h-1zM402 34h1v1h-1zM405 34h1v1h-1zM407 34h1v1h-1zM423 34h1v1h-1zM348 35h2v1h-2zM351 35h1v1h-1zM355 35h1v1h-1zM359 35h1v1h-1zM362 35h2v1h-2zM366 35h1v1h-1zM369 35h1v1h-1zM389 35h1v1h-1zM395 35h5v1h-5zM403 35h1v1h-1zM411 35h1v1h-1zM413 35h1v1h-1zM416 35h2v1h-2zM420 35h1v1h-1zM433 35h1v1h-1zM341 36h1v1h-1zM348 36h2v1h-2zM355 36h1v1h-1zM357 36h2v1h-2zM365 36h1v1h-1zM369 36h1v1h-1zM374 36h1v1h-1zM385 36h2v1h-2zM388 36h1v1h-1zM391 36h1v1h-1zM393 36h4v1h-4zM401 36h1v1h-1zM423 36h1v1h-1zM338 37h1v1h-1zM345 37h1v1h-1zM351 37h3v1h-3zM358 37h2v1h-2zM363 37h1v1h-1zM388 37h2v1h-2zM392 37h1v1h-1zM394 37h2v1h-2zM398 37h1v1h-1zM402 37h1v1h-1zM404 37h1v1h-1zM410 37h1v1h-1zM415 37h1v1h-1zM421 37h1v1h-1zM337 38h1v1h-1zM340 38h1v1h-1zM344 38h1v1h-1zM346 38h1v1h-1zM353 38h1v1h-1zM361 38h3v1h-3zM365 38h1v1h-1zM379 38h1v1h-1zM386 38h2v1h-2zM393 38h1v1h-1zM395 38h1v1h-1zM400 38h1v1h-1zM404 38h1v1h-1zM408 38h1v1h-1zM417 38h1v1h-1zM420 38h1v1h-1zM423 38h1v1h-1zM447 38h1v1h-1zM340 39h1v1h-1zM346 39h1v1h-1zM356 39h1v1h-1zM360 39h1v1h-1zM364 39h1v1h-1zM367 39h1v1h-1zM372 39h1v1h-1zM381 39h1v1h-1zM385 39h1v1h-1zM389 39h2v1h-2zM392 39h6v1h-6zM399 39h1v1h-1zM401 39h1v1h-1zM407 39h1v1h-1zM409 39h1v1h-1zM428 39h1v1h-1zM343 40h1v1h-1zM346 40h3v1h-3zM350 40h1v1h-1zM360 40h1v1h-1zM365 40h1v1h-1zM375 40h1v1h-1zM377 40h1v1h-1zM381 40h1v1h-1zM384 40h1v1h-1zM388 40h1v1h-1zM390 40h3v1h-3zM395 40h2v1h-2zM398 40h1v1h-1zM400 40h2v1h-2zM408 40h3v1h-3zM412 40h1v1h-1zM415 40h1v1h-1zM420 40h1v1h-1zM343 41h1v1h-1zM352 41h1v1h-1zM356 41h1v1h-1zM362 41h2v1h-2zM367 41h1v1h-1zM370 41h1v1h-1zM390 41h6v1h-6zM397 41h2v1h-2zM400 41h2v1h-2zM404 41h1v1h-1zM406 41h1v1h-1zM410 41h1v1h-1zM416 41h1v1h-1zM418 41h1v1h-1zM422 41h2v1h-2zM345 42h3v1h-3zM349 42h1v1h-1zM351 42h1v1h-1zM353 42h1v1h-1zM358 42h1v1h-1zM366 42h2v1h-2zM371 42h1v1h-1zM381 42h1v1h-1zM384 42h6v1h-6zM391 42h2v1h-2zM394 42h2v1h-2zM397 42h2v1h-2zM400 42h1v1h-1zM403 42h2v1h-2zM408 42h1v1h-1zM415 42h1v1h-1zM417 42h1v1h-1zM420 42h1v1h-1zM341 43h2v1h-2zM349 43h1v1h-1zM354 43h2v1h-2zM360 43h1v1h-1zM363 43h1v1h-1zM369 43h1v1h-1zM373 43h1v1h-1zM382 43h1v1h-1zM386 43h8v1h-8zM395 43h4v1h-4zM400 43h1v1h-1zM404 43h1v1h-1zM407 43h1v1h-1zM410 43h4v1h-4zM425 43h1v1h-1zM434 43h1v1h-1zM346 44h1v1h-1zM351 44h1v1h-1zM357 44h1v1h-1zM359 44h1v1h-1zM361 44h2v1h-2zM365 44h1v1h-1zM384 44h2v1h-2zM387 44h2v1h-2zM391 44h4v1h-4zM396 44h2v1h-2zM400 44h4v1h-4zM405 44h1v1h-1zM408 44h1v1h-1zM416 44h1v1h-1zM427 44h1v1h-1zM342 45h1v1h-1zM349 45h1v1h-1zM352 45h1v1h-1zM354 45h1v1h-1zM359 45h1v1h-1zM361 45h2v1h-2zM366 45h1v1h-1zM368 45h1v1h-1zM383 45h1v1h-1zM385 45h2v1h-2zM388 45h3v1h-3zM393 45h2v1h-2zM396 45h1v1h-1zM400 45h2v1h-2zM403 45h5v1h-5zM410 45h1v1h-1zM413 45h1v1h-1zM420 45h1v1h-1zM433 45h1v1h-1zM348 46h1v1h-1zM350 46h2v1h-2zM360 46h2v1h-2zM365 46h1v1h-1zM367 46h1v1h-1zM384 46h2v1h-2zM387 46h1v1h-1zM390 46h4v1h-4zM395 46h1v1h-1zM397 46h1v1h-1zM399 46h1v1h-1zM401 46h1v1h-1zM403 46h2v1h-2zM406 46h2v1h-2zM410 46h1v1h-1zM412 46h1v1h-1zM416 46h1v1h-1zM419 46h1v1h-1zM450 46h1v1h-1zM342 47h1v1h-1zM357 47h1v1h-1zM360 47h1v1h-1zM365 47h1v1h-1zM376 47h2v1h-2zM381 47h1v1h-1zM383 47h1v1h-1zM385 47h2v1h-2zM391 47h1v1h-1zM393 47h4v1h-4zM398 47h1v1h-1zM402 47h4v1h-4zM409 47h1v1h-1zM413 47h1v1h-1zM415 47h1v1h-1zM425 47h1v1h-1zM427 47h1v1h-1zM341 48h1v1h-1zM358 48h1v1h-1zM362 48h1v1h-1zM365 48h1v1h-1zM374 48h1v1h-1zM376 48h1v1h-1zM381 48h1v1h-1zM385 48h2v1h-2zM389 48h2v1h-2zM392 48h1v1h-1zM394 48h2v1h-2zM399 48h1v1h-1zM401 48h1v1h-1zM404 48h3v1h-3zM408 48h1v1h-1zM410 48h1v1h-1zM413 48h1v1h-1zM422 48h1v1h-1zM337 49h1v1h-1zM346 49h2v1h-2zM350 49h1v1h-1zM354 49h2v1h-2zM363 49h2v1h-2zM373 49h1v1h-1zM376 49h2v1h-2zM383 49h1v1h-1zM385 49h7v1h-7zM393 49h4v1h-4zM398 49h3v1h-3zM402 49h1v1h-1zM405 49h1v1h-1zM408 49h1v1h-1zM410 49h1v1h-1zM418 49h1v1h-1zM345 50h1v1h-1zM351 50h1v1h-1zM353 50h1v1h-1zM359 50h1v1h-1zM374 50h2v1h-2zM377 50h2v1h-2zM382 50h4v1h-4zM388 50h5v1h-5zM394 50h4v1h-4zM399 50h3v1h-3zM403 50h4v1h-4zM411 50h1v1h-1zM414 50h1v1h-1zM419 50h1v1h-1zM351 51h2v1h-2zM356 51h1v1h-1zM361 51h2v1h-2zM364 51h1v1h-1zM373 51h1v1h-1zM376 51h1v1h-1zM379 51h1v1h-1zM382 51h1v1h-1zM386 51h1v1h-1zM388 51h4v1h-4zM393 51h4v1h-4zM398 51h1v1h-1zM400 51h4v1h-4zM406 51h1v1h-1zM409 51h1v1h-1zM341 52h2v1h-2zM344 52h1v1h-1zM352 52h4v1h-4zM360 52h1v1h-1zM363 52h1v1h-1zM367 52h1v1h-1zM373 52h1v1h-1zM375 52h2v1h-2zM380 52h1v1h-1zM383 52h1v1h-1zM385 52h2v1h-2zM388 52h5v1h-5zM394 52h2v1h-2zM397 52h3v1h-3zM402 52h2v1h-2zM405 52h1v1h-1zM413 52h2v1h-2zM421 52h1v1h-1zM339 53h1v1h-1zM342 53h1v1h-1zM359 53h2v1h-2zM369 53h1v1h-1zM371 53h1v1h-1zM373 53h1v1h-1zM376 53h1v1h-1zM378 53h2v1h-2zM381 53h1v1h-1zM383 53h7v1h-7zM391 53h9v1h-9zM402 53h4v1h-4zM407 53h1v1h-1zM409 53h2v1h-2zM412 53h1v1h-1zM419 53h1v1h-1zM357 54h1v1h-1zM362 54h1v1h-1zM367 54h1v1h-1zM373 54h1v1h-1zM375 54h1v1h-1zM379 54h4v1h-4zM384 54h2v1h-2zM387 54h15v1h-15zM404 54h5v1h-5zM420 54h1v1h-1zM347 55h1v1h-1zM349 55h1v1h-1zM356 55h1v1h-1zM358 55h1v1h-1zM364 55h1v1h-1zM366 55h1v1h-1zM373 55h1v1h-1zM376 55h1v1h-1zM378 55h4v1h-4zM383 55h8v1h-8zM392 55h4v1h-4zM397 55h4v1h-4zM403 55h3v1h-3zM407 55h1v1h-1zM355 56h1v1h-1zM360 56h1v1h-1zM362 56h1v1h-1zM368 56h1v1h-1zM372 56h2v1h-2zM375 56h3v1h-3zM379 56h1v1h-1zM382 56h7v1h-7zM390 56h13v1h-13zM405 56h1v1h-1zM407 56h1v1h-1zM409 56h1v1h-1zM414 56h1v1h-1zM428 56h1v1h-1zM346 57h1v1h-1zM349 57h1v1h-1zM360 57h1v1h-1zM365 57h1v1h-1zM367 57h1v1h-1zM370 57h1v1h-1zM372 57h1v1h-1zM374 57h1v1h-1zM378 57h2v1h-2zM381 57h1v1h-1zM383 57h2v1h-2zM386 57h10v1h-10zM397 57h3v1h-3zM402 57h6v1h-6zM412 57h1v1h-1zM427 57h1v1h-1zM433 57h1v1h-1zM346 58h1v1h-1zM348 58h1v1h-1zM358 58h1v1h-1zM362 58h1v1h-1zM366 58h1v1h-1zM368 58h1v1h-1zM373 58h8v1h-8zM382 58h20v1h-20zM403 58h2v1h-2zM408 58h1v1h-1zM410 58h1v1h-1zM339 59h1v1h-1zM352 59h1v1h-1zM355 59h2v1h-2zM365 59h2v1h-2zM375 59h13v1h-13zM389 59h6v1h-6zM397 59h3v1h-3zM402 59h1v1h-1zM404 59h1v1h-1zM407 59h2v1h-2zM355 60h1v1h-1zM358 60h3v1h-3zM363 60h1v1h-1zM373 60h1v1h-1zM375 60h1v1h-1zM377 60h2v1h-2zM380 60h5v1h-5zM386 60h16v1h-16zM404 60h1v1h-1zM406 60h1v1h-1zM408 60h3v1h-3zM417 60h1v1h-1zM421 60h1v1h-1zM445 60h1v1h-1zM344 61h1v1h-1zM364 61h1v1h-1zM366 61h4v1h-4zM376 61h3v1h-3zM382 61h19v1h-19zM402 61h1v1h-1zM404 61h1v1h-1zM417 61h1v1h-1zM354 62h1v1h-1zM360 62h1v1h-1zM363 62h1v1h-1zM366 62h1v1h-1zM368 62h1v1h-1zM370 62h1v1h-1zM376 62h1v1h-1zM379 62h2v1h-2zM382 62h11v1h-11zM394 62h6v1h-6zM403 62h1v1h-1zM406 62h1v1h-1zM410 62h1v1h-1zM414 62h1v1h-1zM347 63h1v1h-1zM357 63h1v1h-1zM364 63h1v1h-1zM366 63h1v1h-1zM369 63h1v1h-1zM373 63h1v1h-1zM375 63h3v1h-3zM379 63h6v1h-6zM386 63h12v1h-12zM399 63h2v1h-2zM402 63h2v1h-2zM410 63h2v1h-2zM357 64h1v1h-1zM362 64h1v1h-1zM368 64h4v1h-4zM374 64h1v1h-1zM378 64h6v1h-6zM385 64h13v1h-13zM399 64h2v1h-2zM403 64h1v1h-1zM407 64h1v1h-1zM410 64h1v1h-1zM416 64h1v1h-1zM352 65h2v1h-2zM358 65h2v1h-2zM365 65h2v1h-2zM369 65h1v1h-1zM371 65h5v1h-5zM379 65h6v1h-6zM387 65h7v1h-7zM396 65h2v1h-2zM399 65h2v1h-2zM402 65h2v1h-2zM413 65h1v1h-1zM354 66h2v1h-2zM357 66h1v1h-1zM363 66h3v1h-3zM367 66h1v1h-1zM369 66h1v1h-1zM371 66h2v1h-2zM374 66h1v1h-1zM376 66h1v1h-1zM378 66h2v1h-2zM381 66h1v1h-1zM383 66h2v1h-2zM386 66h2v1h-2zM389 66h13v1h-13zM405 66h1v1h-1zM407 66h1v1h-1zM412 66h1v1h-1zM346 67h1v1h-1zM349 67h1v1h-1zM357 67h1v1h-1zM359 67h1v1h-1zM367 67h2v1h-2zM370 67h3v1h-3zM375 67h2v1h-2zM378 67h8v1h-8zM387 67h4v1h-4zM392 67h6v1h-6zM399 67h5v1h-5zM413 67h1v1h-1zM351 68h1v1h-1zM360 68h1v1h-1zM363 68h5v1h-5zM371 68h5v1h-5zM377 68h2v1h-2zM380 68h2v1h-2zM383 68h5v1h-5zM389 68h6v1h-6zM396 68h5v1h-5zM404 68h1v1h-1zM339 69h1v1h-1zM346 69h1v1h-1zM351 69h1v1h-1zM358 69h1v1h-1zM361 69h1v1h-1zM365 69h3v1h-3zM371 69h1v1h-1zM373 69h3v1h-3zM377 69h1v1h-1zM379 69h1v1h-1zM381 69h1v1h-1zM384 69h4v1h-4zM389 69h1v1h-1zM392 69h1v1h-1zM394 69h2v1h-2zM397 69h1v1h-1zM399 69h1v1h-1zM401 69h1v1h-1zM403 69h1v1h-1zM413 69h1v1h-1zM416 69h1v1h-1zM340 70h1v1h-1zM347 70h1v1h-1zM351 70h1v1h-1zM353 70h1v1h-1zM357 70h1v1h-1zM366 70h1v1h-1zM368 70h2v1h-2zM372 70h2v1h-2zM375 70h1v1h-1zM378 70h19v1h-19zM399 70h3v1h-3zM406 70h1v1h-1zM352 71h1v1h-1zM355 71h1v1h-1zM358 71h2v1h-2zM361 71h1v1h-1zM367 71h1v1h-1zM369 71h2v1h-2zM375 71h3v1h-3zM379 71h10v1h-10zM390 71h1v1h-1zM392 71h3v1h-3zM398 71h3v1h-3zM403 71h1v1h-1zM411 71h1v1h-1zM344 72h1v1h-1zM349 72h1v1h-1zM359 72h1v1h-1zM362 72h2v1h-2zM368 72h1v1h-1zM372 72h3v1h-3zM377 72h18v1h-18zM396 72h3v1h-3zM402 72h1v1h-1zM404 72h1v1h-1zM347 73h1v1h-1zM349 73h1v1h-1zM352 73h1v1h-1zM356 73h1v1h-1zM359 73h1v1h-1zM361 73h1v1h-1zM363 73h2v1h-2zM367 73h1v1h-1zM372 73h1v1h-1zM374 73h1v1h-1zM376 73h2v1h-2zM380 73h11v1h-11zM393 73h1v1h-1zM397 73h1v1h-1zM401 73h1v1h-1zM403 73h2v1h-2zM416 73h1v1h-1zM434 73h1v1h-1zM348 74h1v1h-1zM352 74h1v1h-1zM357 74h1v1h-1zM364 74h1v1h-1zM367 74h1v1h-1zM373 74h1v1h-1zM376 74h1v1h-1zM378 74h2v1h-2zM381 74h3v1h-3zM385 74h9v1h-9zM396 74h4v1h-4zM402 74h1v1h-1zM348 75h1v1h-1zM364 75h2v1h-2zM367 75h1v1h-1zM369 75h1v1h-1zM373 75h1v1h-1zM376 75h2v1h-2zM379 75h13v1h-13zM393 75h2v1h-2zM398 75h2v1h-2zM402 75h3v1h-3zM406 75h1v1h-1zM350 76h1v1h-1zM355 76h3v1h-3zM360 76h1v1h-1zM362 76h2v1h-2zM365 76h3v1h-3zM371 76h2v1h-2zM375 76h1v1h-1zM377 76h3v1h-3zM381 76h7v1h-7zM389 76h5v1h-5zM396 76h2v1h-2zM400 76h1v1h-1zM408 76h1v1h-1zM346 77h1v1h-1zM358 77h1v1h-1zM360 77h1v1h-1zM365 77h2v1h-2zM368 77h1v1h-1zM372 77h1v1h-1zM375 77h5v1h-5zM381 77h1v1h-1zM383 77h6v1h-6zM390 77h2v1h-2zM393 77h1v1h-1zM396 77h2v1h-2zM400 77h1v1h-1zM359 78h2v1h-2zM362 78h1v1h-1zM366 78h1v1h-1zM369 78h1v1h-1zM372 78h4v1h-4zM377 78h14v1h-14zM392 78h3v1h-3zM396 78h3v1h-3zM404 78h1v1h-1zM350 79h1v1h-1zM358 79h1v1h-1zM360 79h1v1h-1zM365 79h1v1h-1zM372 79h1v1h-1zM374 79h4v1h-4zM379 79h5v1h-5zM385 79h1v1h-1zM387 79h6v1h-6zM394 79h1v1h-1zM397 79h2v1h-2zM354 80h1v1h-1zM358 80h1v1h-1zM360 80h1v1h-1zM370 80h4v1h-4zM375 80h4v1h-4zM380 80h4v1h-4zM385 80h3v1h-3zM391 80h3v1h-3zM349 81h1v1h-1zM358 81h1v1h-1zM360 81h2v1h-2zM371 81h7v1h-7zM379 81h2v1h-2zM382 81h1v1h-1zM384 81h1v1h-1zM386 81h4v1h-4zM391 81h2v1h-2zM395 81h2v1h-2zM401 81h1v1h-1zM347 82h1v1h-1zM355 82h2v1h-2zM361 82h1v1h-1zM368 82h1v1h-1zM373 82h3v1h-3zM379 82h1v1h-1zM382 82h2v1h-2zM385 82h5v1h-5zM397 82h1v1h-1zM349 83h1v1h-1zM354 83h2v1h-2zM365 83h2v1h-2zM368 83h1v1h-1zM373 83h5v1h-5zM381 83h1v1h-1zM383 83h1v1h-1zM386 83h2v1h-2zM392 83h2v1h-2zM354 84h1v1h-1zM358 84h1v1h-1zM360 84h5v1h-5zM366 84h1v1h-1zM369 84h2v1h-2zM372 84h1v1h-1zM374 84h4v1h-4zM380 84h1v1h-1zM382 84h1v1h-1zM384 84h3v1h-3zM388 84h1v1h-1zM390 84h3v1h-3zM396 84h1v1h-1zM338 85h1v1h-1zM355 85h1v1h-1zM362 85h1v1h-1zM366 85h3v1h-3zM371 85h1v1h-1zM374 85h1v1h-1zM376 85h2v1h-2zM379 85h1v1h-1zM381 85h1v1h-1zM387 85h1v1h-1zM356 86h1v1h-1zM363 86h1v1h-1zM366 86h1v1h-1zM374 86h1v1h-1zM377 86h2v1h-2zM381 86h5v1h-5zM387 86h1v1h-1zM393 86h1v1h-1zM416 86h1v1h-1zM339 87h1v1h-1zM358 87h2v1h-2zM362 87h1v1h-1zM366 87h2v1h-2zM369 87h1v1h-1zM371 87h1v1h-1zM373 87h2v1h-2zM376 87h1v1h-1zM379 87h6v1h-6zM387 87h1v1h-1zM390 87h1v1h-1zM392 87h1v1h-1zM394 87h1v1h-1zM396 87h1v1h-1zM398 87h1v1h-1zM362 88h1v1h-1zM364 88h1v1h-1zM367 88h1v1h-1zM369 88h1v1h-1zM371 88h1v1h-1zM373 88h3v1h-3zM379 88h7v1h-7zM388 88h1v1h-1zM394 88h1v1h-1zM348 89h1v1h-1zM354 89h1v1h-1zM362 89h1v1h-1zM364 89h1v1h-1zM369 89h2v1h-2zM374 89h2v1h-2zM378 89h1v1h-1zM381 89h1v1h-1zM383 89h1v1h-1zM386 89h1v1h-1zM391 89h1v1h-1zM335 90h1v1h-1zM351 90h1v1h-1zM360 90h2v1h-2zM370 90h1v1h-1zM373 90h1v1h-1zM375 90h1v1h-1zM377 90h1v1h-1zM379 90h2v1h-2zM383 90h1v1h-1zM385 90h2v1h-2zM391 90h1v1h-1zM345 91h1v1h-1zM356 91h1v1h-1zM358 91h1v1h-1zM360 91h2v1h-2zM364 91h1v1h-1zM366 91h2v1h-2zM369 91h1v1h-1zM381 91h1v1h-1zM384 91h1v1h-1zM388 91h1v1h-1zM394 91h2v1h-2zM400 91h1v1h-1zM356 92h1v1h-1zM369 92h2v1h-2zM379 92h1v1h-1zM383 92h2v1h-2zM394 92h1v1h-1zM359 93h1v1h-1zM368 93h1v1h-1zM371 93h1v1h-1zM378 93h1v1h-1zM384 93h1v1h-1zM394 93h3v1h-3zM348 94h1v1h-1zM360 94h1v1h-1zM364 94h6v1h-6zM372 94h1v1h-1zM376 94h2v1h-2zM385 94h1v1h-1zM390 94h1v1h-1zM396 94h1v1h-1zM363 95h1v1h-1zM365 95h2v1h-2zM371 95h3v1h-3zM376 95h2v1h-2zM385 95h1v1h-1zM360 96h1v1h-1zM364 96h1v1h-1zM366 96h2v1h-2zM369 96h1v1h-1zM380 96h1v1h-1zM384 96h1v1h-1zM386 96h1v1h-1zM390 96h1v1h-1zM394 96h1v1h-1zM354 97h1v1h-1zM362 97h1v1h-1zM366 97h1v1h-1zM368 97h1v1h-1zM370 97h4v1h-4zM376 97h4v1h-4zM383 97h1v1h-1zM385 97h1v1h-1zM389 97h1v1h-1zM402 97h1v1h-1zM345 98h2v1h-2zM362 98h2v1h-2zM366 98h2v1h-2zM370 98h1v1h-1zM372 98h1v1h-1zM377 98h1v1h-1zM385 98h1v1h-1zM388 98h1v1h-1zM390 98h1v1h-1zM363 99h1v1h-1zM365 99h1v1h-1zM379 99h3v1h-3zM386 99h2v1h-2zM363 100h1v1h-1zM365 100h1v1h-1zM370 100h1v1h-1zM373 100h1v1h-1zM379 100h1v1h-1zM381 100h2v1h-2zM384 100h1v1h-1zM387 100h1v1h-1zM356 101h1v1h-1zM360 101h1v1h-1zM370 101h1v1h-1zM372 101h1v1h-1zM374 101h1v1h-1zM378 101h1v1h-1zM384 101h1v1h-1zM386 101h2v1h-2zM364 102h1v1h-1zM366 102h1v1h-1zM369 102h1v1h-1zM372 102h1v1h-1zM376 102h1v1h-1zM381 102h1v1h-1zM384 102h3v1h-3zM363 103h1v1h-1zM366 103h1v1h-1zM384 103h1v1h-1zM348 104h1v1h-1zM375 104h1v1h-1zM378 104h1v1h-1zM343 105h1v1h-1zM364 105h1v1h-1zM371 105h1v1h-1zM378 105h1v1h-1zM380 105h1v1h-1zM344 106h1v1h-1zM348 106h1v1h-1zM363 106h1v1h-1zM377 106h1v1h-1zM393 106h1v1h-1zM359 108h1v1h-1zM347 109h1v1h-1zM366 109h1v1h-1zM346 110h1v1h-1zM378 110h1v1h-1zM357 112h1v1h-1zM351 115h1v1h-1zM383 117h1v1h-1zM414 121h1v1h-1z" fill="#000" fill-opacity="0.9"/>
<path d="M332.5,6.4 L454.1,5.7 L454,126.1 L332.6,127.1 Z" fill="none" stroke="#1c1c1c" stroke-width="1.3"/>
<rect x="335.7" y="21.9" width="33.3" height="35.6" fill="none" stroke="#000" stroke-width="1.4"/>
<rect x="342.7" y="86.6" width="29.6" height="29.6" fill="none" stroke="#000" stroke-width="1.4"/>
<rect x="391.2" y="25.8" width="24.3" height="66.7" fill="none" stroke="#000" stroke-width="1.4"/>
<line x1="332.6" y1="127.1" x2="332.6" y2="131.6" stroke="#000" stroke-width="0.85"/>
<line x1="328.1" y1="127.1" x2="332.6" y2="127.1" stroke="#000" stroke-width="0.85"/>
<line x1="341.74" y1="127.02" x2="341.74" y2="129.62" stroke="#000" stroke-width="0.85"/>
<line x1="329.99" y1="118.02" x2="332.59" y2="118.02" stroke="#000" stroke-width="0.85"/>
<line x1="347.08" y1="126.98" x2="347.08" y2="129.58" stroke="#000" stroke-width="0.85"/>
<line x1="329.99" y1="112.7" x2="332.59" y2="112.7" stroke="#000" stroke-width="0.85"/>
<line x1="350.87" y1="126.95" x2="350.87" y2="129.55" stroke="#000" stroke-width="0.85"/>
<line x1="329.98" y1="108.93" x2="332.58" y2="108.93" stroke="#000" stroke-width="0.85"/>
<line x1="353.81" y1="126.93" x2="353.81" y2="129.53" stroke="#000" stroke-width="0.85"/>
<line x1="329.98" y1="106.01" x2="332.58" y2="106.01" stroke="#000" stroke-width="0.85"/>
<line x1="356.22" y1="126.91" x2="356.22" y2="129.51" stroke="#000" stroke-width="0.85"/>
<line x1="329.98" y1="103.62" x2="332.58" y2="103.62" stroke="#000" stroke-width="0.85"/>
<line x1="358.25" y1="126.89" x2="358.25" y2="129.49" stroke="#000" stroke-width="0.85"/>
<line x1="329.98" y1="101.6" x2="332.58" y2="101.6" stroke="#000" stroke-width="0.85"/>
<line x1="360.01" y1="126.87" x2="360.01" y2="129.47" stroke="#000" stroke-width="0.85"/>
<line x1="329.98" y1="99.85" x2="332.58" y2="99.85" stroke="#000" stroke-width="0.85"/>
<line x1="361.56" y1="126.86" x2="361.56" y2="129.46" stroke="#000" stroke-width="0.85"/>
<line x1="329.98" y1="98.31" x2="332.58" y2="98.31" stroke="#000" stroke-width="0.85"/>
<line x1="362.95" y1="126.85" x2="362.95" y2="131.35" stroke="#000" stroke-width="0.85"/>
<line x1="328.08" y1="96.92" x2="332.58" y2="96.92" stroke="#000" stroke-width="0.85"/>
<line x1="372.09" y1="126.77" x2="372.09" y2="129.37" stroke="#000" stroke-width="0.85"/>
<line x1="329.97" y1="87.84" x2="332.57" y2="87.84" stroke="#000" stroke-width="0.85"/>
<line x1="377.43" y1="126.73" x2="377.43" y2="129.33" stroke="#000" stroke-width="0.85"/>
<line x1="329.96" y1="82.53" x2="332.56" y2="82.53" stroke="#000" stroke-width="0.85"/>
<line x1="381.22" y1="126.7" x2="381.22" y2="129.3" stroke="#000" stroke-width="0.85"/>
<line x1="329.96" y1="78.76" x2="332.56" y2="78.76" stroke="#000" stroke-width="0.85"/>
<line x1="384.16" y1="126.68" x2="384.16" y2="129.28" stroke="#000" stroke-width="0.85"/>
<line x1="329.96" y1="75.83" x2="332.56" y2="75.83" stroke="#000" stroke-width="0.85"/>
<line x1="386.57" y1="126.66" x2="386.57" y2="129.26" stroke="#000" stroke-width="0.85"/>
<line x1="329.96" y1="73.44" x2="332.56" y2="73.44" stroke="#000" stroke-width="0.85"/>
<line x1="388.6" y1="126.64" x2="388.6" y2="129.24" stroke="#000" stroke-width="0.85"/>
<line x1="329.95" y1="71.42" x2="332.55" y2="71.42" stroke="#000" stroke-width="0.85"/>
<line x1="390.36" y1="126.62" x2="390.36" y2="129.22" stroke="#000" stroke-width="0.85"/>
<line x1="329.95" y1="69.67" x2="332.55" y2="69.67" stroke="#000" stroke-width="0.85"/>
<line x1="391.91" y1="126.61" x2="391.91" y2="129.21" stroke="#000" stroke-width="0.85"/>
<line x1="329.95" y1="68.13" x2="332.55" y2="68.13" stroke="#000" stroke-width="0.85"/>
<line x1="393.3" y1="126.6" x2="393.3" y2="131.1" stroke="#000" stroke-width="0.85"/>
<line x1="328.05" y1="66.75" x2="332.55" y2="66.75" stroke="#000" stroke-width="0.85"/>
<line x1="402.44" y1="126.52" x2="402.44" y2="129.12" stroke="#000" stroke-width="0.85"/>
<line x1="329.94" y1="57.67" x2="332.54" y2="57.67" stroke="#000" stroke-width="0.85"/>
<line x1="407.78" y1="126.48" x2="407.78" y2="129.08" stroke="#000" stroke-width="0.85"/>
<line x1="329.94" y1="52.35" x2="332.54" y2="52.35" stroke="#000" stroke-width="0.85"/>
<line x1="411.57" y1="126.45" x2="411.57" y2="129.05" stroke="#000" stroke-width="0.85"/>
<line x1="329.93" y1="48.58" x2="332.53" y2="48.58" stroke="#000" stroke-width="0.85"/>
<line x1="414.51" y1="126.43" x2="414.51" y2="129.03" stroke="#000" stroke-width="0.85"/>
<line x1="329.93" y1="45.66" x2="332.53" y2="45.66" stroke="#000" stroke-width="0.85"/>
<line x1="416.92" y1="126.41" x2="416.92" y2="129.01" stroke="#000" stroke-width="0.85"/>
<line x1="329.93" y1="43.27" x2="332.53" y2="43.27" stroke="#000" stroke-width="0.85"/>
<line x1="418.95" y1="126.39" x2="418.95" y2="128.99" stroke="#000" stroke-width="0.85"/>
<line x1="329.93" y1="41.25" x2="332.53" y2="41.25" stroke="#000" stroke-width="0.85"/>
<line x1="420.71" y1="126.37" x2="420.71" y2="128.97" stroke="#000" stroke-width="0.85"/>
<line x1="329.93" y1="39.5" x2="332.53" y2="39.5" stroke="#000" stroke-width="0.85"/>
<line x1="422.26" y1="126.36" x2="422.26" y2="128.96" stroke="#000" stroke-width="0.85"/>
<line x1="329.93" y1="37.96" x2="332.53" y2="37.96" stroke="#000" stroke-width="0.85"/>
<line x1="423.65" y1="126.35" x2="423.65" y2="130.85" stroke="#000" stroke-width="0.85"/>
<line x1="328.02" y1="36.57" x2="332.52" y2="36.57" stroke="#000" stroke-width="0.85"/>
<line x1="432.79" y1="126.27" x2="432.79" y2="128.87" stroke="#000" stroke-width="0.85"/>
<line x1="329.92" y1="27.49" x2="332.52" y2="27.49" stroke="#000" stroke-width="0.85"/>
<line x1="438.13" y1="126.23" x2="438.13" y2="128.83" stroke="#000" stroke-width="0.85"/>
<line x1="329.91" y1="22.18" x2="332.51" y2="22.18" stroke="#000" stroke-width="0.85"/>
<line x1="441.92" y1="126.2" x2="441.92" y2="128.8" stroke="#000" stroke-width="0.85"/>
<line x1="329.91" y1="18.41" x2="332.51" y2="18.41" stroke="#000" stroke-width="0.85"/>
<line x1="444.86" y1="126.18" x2="444.86" y2="128.78" stroke="#000" stroke-width="0.85"/>
<line x1="329.91" y1="15.48" x2="332.51" y2="15.48" stroke="#000" stroke-width="0.85"/>
<line x1="447.27" y1="126.16" x2="447.27" y2="128.76" stroke="#000" stroke-width="0.85"/>
<line x1="329.91" y1="13.09" x2="332.51" y2="13.09" stroke="#000" stroke-width="0.85"/>
<line x1="449.3" y1="126.14" x2="449.3" y2="128.74" stroke="#000" stroke-width="0.85"/>
<line x1="329.9" y1="11.07" x2="332.5" y2="11.07" stroke="#000" stroke-width="0.85"/>
<line x1="451.06" y1="126.12" x2="451.06" y2="128.72" stroke="#000" stroke-width="0.85"/>
<line x1="329.9" y1="9.32" x2="332.5" y2="9.32" stroke="#000" stroke-width="0.85"/>
<line x1="452.61" y1="126.11" x2="452.61" y2="128.71" stroke="#000" stroke-width="0.85"/>
<line x1="329.9" y1="7.78" x2="332.5" y2="7.78" stroke="#000" stroke-width="0.85"/>
<line x1="454" y1="126.1" x2="454" y2="130.6" stroke="#000" stroke-width="0.85"/>
<line x1="328" y1="6.4" x2="332.5" y2="6.4" stroke="#000" stroke-width="0.85"/>
<text x="326.74" y="144.5" font-size="9.29" font-weight="bold" textLength="9.52" lengthAdjust="spacingAndGlyphs">10</text>
<text x="336.28" y="140.2" font-size="6.86" font-weight="bold" textLength="4.45" lengthAdjust="spacingAndGlyphs">0</text>
<text x="356.59" y="144.5" font-size="9.29" font-weight="bold" textLength="9.52" lengthAdjust="spacingAndGlyphs">10</text>
<text x="366.04" y="140.2" font-size="6.86" font-weight="bold" textLength="3.53" lengthAdjust="spacingAndGlyphs">1</text>
<text x="386.44" y="144.5" font-size="9.29" font-weight="bold" textLength="9.52" lengthAdjust="spacingAndGlyphs">10</text>
<text x="396.02" y="140.2" font-size="6.86" font-weight="bold" textLength="4.4" lengthAdjust="spacingAndGlyphs">2</text>
<text x="416.29" y="144.5" font-size="9.29" font-weight="bold" textLength="9.52" lengthAdjust="spacingAndGlyphs">10</text>
<text x="425.96" y="140.2" font-size="6.86" font-weight="bold" textLength="4.27" lengthAdjust="spacingAndGlyphs">3</text>
<text x="446.14" y="144.5" font-size="9.29" font-weight="bold" textLength="9.52" lengthAdjust="spacingAndGlyphs">10</text>
<text x="455.89" y="140.2" font-size="6.86" font-weight="bold" textLength="3.95" lengthAdjust="spacingAndGlyphs">4</text>
<text x="309.99" y="131.45" font-size="9.29" font-weight="bold" textLength="9.63" lengthAdjust="spacingAndGlyphs">10</text>
<text x="319.63" y="127.15" font-size="6.86" font-weight="bold" textLength="4.45" lengthAdjust="spacingAndGlyphs">0</text>
<text x="309.99" y="101.05" font-size="9.29" font-weight="bold" textLength="9.63" lengthAdjust="spacingAndGlyphs">10</text>
<text x="319.54" y="96.75" font-size="6.86" font-weight="bold" textLength="3.53" lengthAdjust="spacingAndGlyphs">1</text>
<text x="309.99" y="71.35" font-size="9.29" font-weight="bold" textLength="9.63" lengthAdjust="spacingAndGlyphs">10</text>
<text x="319.67" y="67.05" font-size="6.86" font-weight="bold" textLength="4.4" lengthAdjust="spacingAndGlyphs">2</text>
<text x="309.99" y="41.45" font-size="9.29" font-weight="bold" textLength="9.63" lengthAdjust="spacingAndGlyphs">10</text>
<text x="319.76" y="37.15" font-size="6.86" font-weight="bold" textLength="4.27" lengthAdjust="spacingAndGlyphs">3</text>
<text x="309.99" y="11.95" font-size="9.29" font-weight="bold" textLength="9.63" lengthAdjust="spacingAndGlyphs">10</text>
<text x="319.84" y="7.65" font-size="6.86" font-weight="bold" textLength="3.95" lengthAdjust="spacingAndGlyphs">4</text>
<line x1="50.1" y1="61" x2="50.1" y2="12" stroke="#000" stroke-width="1.4"/>
<path d="M47.6,16.8 L50.1,6.3 L52.6,16.8 Z" fill="#000"/>
<text x="-0.34" y="0" font-size="11.16" font-weight="bold" textLength="46.89" lengthAdjust="spacingAndGlyphs" transform="translate(55.3,128) rotate(-90)">anti-IgM,</text>
<text x="-0.58" y="0" font-size="7.97" font-weight="bold" textLength="11.93" lengthAdjust="spacingAndGlyphs" transform="translate(54.8,78.1) rotate(-90)">PE</text>
<line x1="295.1" y1="61" x2="295.1" y2="12" stroke="#000" stroke-width="1.4"/>
<path d="M292.6,16.8 L295.1,6.3 L297.6,16.8 Z" fill="#000"/>
<text x="-0.34" y="0" font-size="11.16" font-weight="bold" textLength="46.89" lengthAdjust="spacingAndGlyphs" transform="translate(300.3,128) rotate(-90)">anti-IgM,</text>
<text x="-0.58" y="0" font-size="7.97" font-weight="bold" textLength="11.93" lengthAdjust="spacingAndGlyphs" transform="translate(299.8,78.1) rotate(-90)">PE</text>
<text x="87.56" y="162.1" font-size="10.22" font-weight="bold" textLength="45.74" lengthAdjust="spacingAndGlyphs">anti-IgD,</text>
<text x="136.74" y="161.7" font-size="8.71" font-weight="bold" textLength="44.18" lengthAdjust="spacingAndGlyphs">Cychrome</text>
<text x="332.06" y="161.2" font-size="10" font-weight="bold" textLength="45.94" lengthAdjust="spacingAndGlyphs">anti-IgD,</text>
<text x="381.24" y="161.2" font-size="9.43" font-weight="bold" textLength="43.47" lengthAdjust="spacingAndGlyphs">Cychrome</text>
<line x1="184.2" y1="157.7" x2="204.4" y2="157.7" stroke="#000" stroke-width="1.5"/>
<path d="M200,155.2 L210.4,157.7 L200,160.2 Z" fill="#000"/>
<line x1="428.1" y1="157.3" x2="449" y2="157.3" stroke="#000" stroke-width="1.5"/>
<path d="M444.6,154.8 L455,157.3 L444.6,159.8 Z" fill="#000"/>
</svg></body></html>
